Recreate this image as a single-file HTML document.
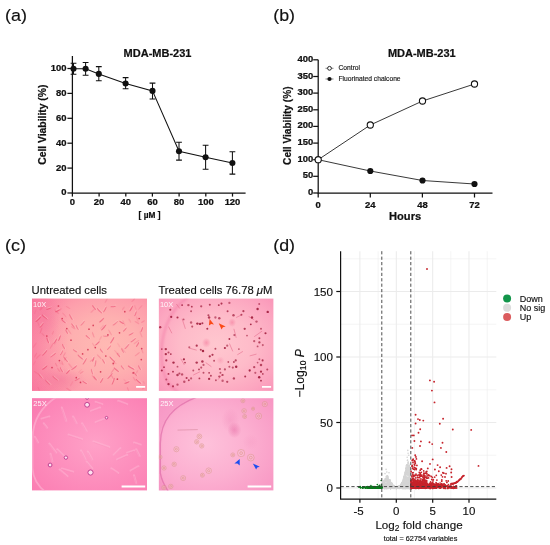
<!DOCTYPE html>
<html lang="en"><head><meta charset="utf-8"><title>Figure</title>
<style>
html,body{margin:0;padding:0;background:#fff;}
svg{display:block;font-family:"Liberation Sans", Arial, sans-serif;}
text{stroke:#111;stroke-width:0.15px;}
text[fill="#fff"]{stroke:none;}
.b{font-weight:700;stroke:#111;stroke-width:0.22px;}
</style></head><body>
<svg width="550" height="545" viewBox="0 0 550 545">
<rect width="550" height="545" fill="#fff"/>

<text transform="translate(5.1 20.8) scale(1.09 1)" font-size="16.5" text-anchor="start" fill="#111">(a)</text>
<text transform="translate(273.2 20.8) scale(1.08 1)" font-size="16.5" text-anchor="start" fill="#111">(b)</text>
<text transform="translate(5.1 251.3) scale(1.09 1)" font-size="16.5" text-anchor="start" fill="#111">(c)</text>
<text transform="translate(273.2 251.3) scale(1.08 1)" font-size="16.5" text-anchor="start" fill="#111">(d)</text>
<g stroke="#111" stroke-width="1.25" fill="none" stroke-linecap="butt">
<path d="M72.4 56.1V193.0H245.6"/>
<path d="M67.4 193.0H72.4"/>
<path d="M67.4 168.1H72.4"/>
<path d="M67.4 143.2H72.4"/>
<path d="M67.4 118.3H72.4"/>
<path d="M67.4 93.4H72.4"/>
<path d="M67.4 68.5H72.4"/>
<path d="M72.4 193.0v3.6"/>
<path d="M99.1 193.0v3.6"/>
<path d="M125.8 193.0v3.6"/>
<path d="M152.4 193.0v3.6"/>
<path d="M179.1 193.0v3.6"/>
<path d="M205.8 193.0v3.6"/>
<path d="M232.5 193.0v3.6"/>
</g>
<text transform="translate(66.4 195.4) scale(1.14 1)" font-size="8.3" text-anchor="end" fill="#111" class="b">0</text>
<text transform="translate(66.4 170.5) scale(1.14 1)" font-size="8.3" text-anchor="end" fill="#111" class="b">20</text>
<text transform="translate(66.4 145.6) scale(1.14 1)" font-size="8.3" text-anchor="end" fill="#111" class="b">40</text>
<text transform="translate(66.4 120.7) scale(1.14 1)" font-size="8.3" text-anchor="end" fill="#111" class="b">60</text>
<text transform="translate(66.4 95.8) scale(1.14 1)" font-size="8.3" text-anchor="end" fill="#111" class="b">80</text>
<text transform="translate(66.4 70.9) scale(1.14 1)" font-size="8.3" text-anchor="end" fill="#111" class="b">100</text>
<text transform="translate(72.4 204.6) scale(1.14 1)" font-size="8.3" text-anchor="middle" fill="#111" class="b">0</text>
<text transform="translate(99.1 204.6) scale(1.14 1)" font-size="8.3" text-anchor="middle" fill="#111" class="b">20</text>
<text transform="translate(125.8 204.6) scale(1.14 1)" font-size="8.3" text-anchor="middle" fill="#111" class="b">40</text>
<text transform="translate(152.4 204.6) scale(1.14 1)" font-size="8.3" text-anchor="middle" fill="#111" class="b">60</text>
<text transform="translate(179.1 204.6) scale(1.14 1)" font-size="8.3" text-anchor="middle" fill="#111" class="b">80</text>
<text transform="translate(205.8 204.6) scale(1.14 1)" font-size="8.3" text-anchor="middle" fill="#111" class="b">100</text>
<text transform="translate(232.5 204.6) scale(1.14 1)" font-size="8.3" text-anchor="middle" fill="#111" class="b">120</text>
<text x="157.5" y="56.5" font-size="11" text-anchor="middle" fill="#111" class="b">MDA-MB-231</text>
<text x="149.5" y="218" font-size="8.3" text-anchor="middle" fill="#111" class="b">[ µM ]</text>
<text transform="translate(46.4 124.7) rotate(-90) scale(0.94 1)" font-size="11" text-anchor="middle" class="b" fill="#111">Cell Viability (%)</text>
<g stroke="#111" stroke-width="1.05" fill="none">
<path d="M73.5 68.8 L85.6 68.8 L98.8 73.9 L125.6 83.5 L152.5 90.9 L179.0 151.3 L205.6 157.3 L232.4 163.0"/>
<path d="M73.5 63.3V74.3M70.6 63.3h5.8M70.6 74.3h5.8"/>
<path d="M85.6 62.4V75.2M82.7 62.4h5.8M82.7 75.2h5.8"/>
<path d="M98.8 66.6V80.7M95.9 66.6h5.8M95.9 80.7h5.8"/>
<path d="M125.6 77.6V88.8M122.7 77.6h5.8M122.7 88.8h5.8"/>
<path d="M152.5 83.1V98.9M149.6 83.1h5.8M149.6 98.9h5.8"/>
<path d="M179.0 142.3V160.1M176.1 142.3h5.8M176.1 160.1h5.8"/>
<path d="M205.6 145.3V169.3M202.7 145.3h5.8M202.7 169.3h5.8"/>
<path d="M232.4 151.7V174.1M229.5 151.7h5.8M229.5 174.1h5.8"/>
</g>
<circle cx="73.5" cy="68.8" r="3.05" fill="#111"/>
<circle cx="85.6" cy="68.8" r="3.05" fill="#111"/>
<circle cx="98.8" cy="73.9" r="3.05" fill="#111"/>
<circle cx="125.6" cy="83.5" r="3.05" fill="#111"/>
<circle cx="152.5" cy="90.9" r="3.05" fill="#111"/>
<circle cx="179.0" cy="151.3" r="3.05" fill="#111"/>
<circle cx="205.6" cy="157.3" r="3.05" fill="#111"/>
<circle cx="232.4" cy="163.0" r="3.05" fill="#111"/>
<g stroke="#111" stroke-width="1.25" fill="none">
<path d="M318.2 59.8V193.0H492.5"/>
<path d="M313.2 193.0H318.2"/>
<path d="M313.2 176.3H318.2"/>
<path d="M313.2 159.7H318.2"/>
<path d="M313.2 143.1H318.2"/>
<path d="M313.2 126.4H318.2"/>
<path d="M313.2 109.8H318.2"/>
<path d="M313.2 93.1H318.2"/>
<path d="M313.2 76.5H318.2"/>
<path d="M313.2 59.8H318.2"/>
<path d="M318.2 193.0v4.5"/>
<path d="M370.3 193.0v4.5"/>
<path d="M422.4 193.0v4.5"/>
<path d="M474.5 193.0v4.5"/>
</g>
<text transform="translate(313.2 195.0) scale(1.14 1)" font-size="8.3" text-anchor="end" fill="#111" class="b">0</text>
<text transform="translate(313.2 178.3) scale(1.14 1)" font-size="8.3" text-anchor="end" fill="#111" class="b">50</text>
<text transform="translate(313.2 161.7) scale(1.14 1)" font-size="8.3" text-anchor="end" fill="#111" class="b">100</text>
<text transform="translate(313.2 145.1) scale(1.14 1)" font-size="8.3" text-anchor="end" fill="#111" class="b">150</text>
<text transform="translate(313.2 128.4) scale(1.14 1)" font-size="8.3" text-anchor="end" fill="#111" class="b">200</text>
<text transform="translate(313.2 111.8) scale(1.14 1)" font-size="8.3" text-anchor="end" fill="#111" class="b">250</text>
<text transform="translate(313.2 95.1) scale(1.14 1)" font-size="8.3" text-anchor="end" fill="#111" class="b">300</text>
<text transform="translate(313.2 78.5) scale(1.14 1)" font-size="8.3" text-anchor="end" fill="#111" class="b">350</text>
<text transform="translate(313.2 61.8) scale(1.14 1)" font-size="8.3" text-anchor="end" fill="#111" class="b">400</text>
<text transform="translate(318.2 208) scale(1.14 1)" font-size="8.3" text-anchor="middle" fill="#111" class="b">0</text>
<text transform="translate(370.3 208) scale(1.14 1)" font-size="8.3" text-anchor="middle" fill="#111" class="b">24</text>
<text transform="translate(422.4 208) scale(1.14 1)" font-size="8.3" text-anchor="middle" fill="#111" class="b">48</text>
<text transform="translate(474.5 208) scale(1.14 1)" font-size="8.3" text-anchor="middle" fill="#111" class="b">72</text>
<text x="421.8" y="56.5" font-size="11" text-anchor="middle" fill="#111" class="b">MDA-MB-231</text>
<text x="405.1" y="220.3" font-size="11.1" text-anchor="middle" fill="#111" class="b">Hours</text>
<text transform="translate(291.4 125.7) rotate(-90) scale(0.92 1)" font-size="11" text-anchor="middle" class="b" fill="#111">Cell Viability (%)</text>
<g stroke="#222" stroke-width="0.9" fill="none">
<path d="M318.2 159.7 L370.3 125.0 L422.5 101.0 L474.5 84.0"/>
<path d="M318.2 159.7 L370.3 171.0 L422.5 180.5 L474.5 184.0"/>
</g>
<circle cx="370.3" cy="171.0" r="3.1" fill="#111"/>
<circle cx="422.5" cy="180.5" r="3.1" fill="#111"/>
<circle cx="474.5" cy="184.0" r="3.1" fill="#111"/>
<circle cx="318.2" cy="159.7" r="3.1" fill="#fff" stroke="#111" stroke-width="1.1"/>
<circle cx="370.3" cy="125.0" r="3.1" fill="#fff" stroke="#111" stroke-width="1.1"/>
<circle cx="422.5" cy="101.0" r="3.1" fill="#fff" stroke="#111" stroke-width="1.1"/>
<circle cx="474.5" cy="84.0" r="3.1" fill="#fff" stroke="#111" stroke-width="1.1"/>
<path d="M325.5 68.3h8M325.5 79h8" stroke="#333" stroke-width="0.6"/>
<circle cx="329.5" cy="68.3" r="1.9" fill="#fff" stroke="#111" stroke-width="0.9"/>
<circle cx="329.5" cy="79" r="2.1" fill="#111"/>
<text x="338.5" y="70.3" font-size="6.7" text-anchor="start" fill="#222">Control</text>
<text x="338.5" y="81" font-size="6.7" text-anchor="start" fill="#222">Fluorinated chalcone</text>
<text x="31.6" y="293.6" font-size="11.3" text-anchor="start" fill="#111">Untreated cells</text>
<text x="158.4" y="293.6" font-size="11.25" text-anchor="start" fill="#111">Treated cells 76.78 <tspan font-style="italic">μ</tspan>M</text>
<defs>
<radialGradient id="g1" cx="0.64" cy="0.5" r="0.86"><stop offset="0" stop-color="#ffb9b3"/><stop offset="0.35" stop-color="#feb0b0"/><stop offset="0.6" stop-color="#fd9fac"/><stop offset="0.85" stop-color="#fa87a3"/><stop offset="1" stop-color="#f8779d"/></radialGradient>
<radialGradient id="g2" cx="0.5" cy="0.5" r="0.8"><stop offset="0" stop-color="#ffc7cf"/><stop offset="0.4" stop-color="#febbc9"/><stop offset="0.7" stop-color="#fca6c0"/><stop offset="1" stop-color="#f88bb4"/></radialGradient>
<linearGradient id="lg1" x1="0" y1="0" x2="1" y2="0"><stop offset="0" stop-color="#f8689a" stop-opacity="0.32"/><stop offset="0.32" stop-color="#f8689a" stop-opacity="0"/></linearGradient>
<radialGradient id="g3" cx="0.55" cy="0.5" r="0.75"><stop offset="0" stop-color="#ffa1c7"/><stop offset="0.5" stop-color="#fd8fbd"/><stop offset="1" stop-color="#fb7db2"/></radialGradient>
<radialGradient id="g4" cx="0.4" cy="0.5" r="0.75"><stop offset="0" stop-color="#fec2db"/><stop offset="0.5" stop-color="#fcb0d1"/><stop offset="1" stop-color="#f898c4"/></radialGradient>
<radialGradient id="blob" cx="0.5" cy="0.5" r="0.5"><stop offset="0" stop-color="#e56aa4" stop-opacity="0.5"/><stop offset="1" stop-color="#e0609a" stop-opacity="0"/></radialGradient>
<radialGradient id="blob2" cx="0.5" cy="0.5" r="0.5"><stop offset="0" stop-color="#f47a9c" stop-opacity="0.6"/><stop offset="1" stop-color="#f47a9c" stop-opacity="0"/></radialGradient>
<filter id="bl" x="-10%" y="-10%" width="120%" height="120%"><feGaussianBlur stdDeviation="0.45"/></filter>
<filter id="bl2" x="-10%" y="-10%" width="120%" height="120%"><feGaussianBlur stdDeviation="1.2"/></filter>
<clipPath id="c1"><rect x="32" y="298.6" width="115" height="92.3"/></clipPath>
<clipPath id="c2"><rect x="158.85" y="298.6" width="114.55" height="92.3"/></clipPath>
<clipPath id="c3"><rect x="32" y="398.2" width="115" height="92.2"/></clipPath>
<clipPath id="c4"><rect x="158.85" y="398.2" width="114.55" height="92.2"/></clipPath>
</defs>
<rect x="32" y="298.6" width="115" height="92.3" fill="url(#g1)"/>
<rect x="158.85" y="298.6" width="114.55" height="92.3" fill="url(#g2)"/>
<rect x="32" y="298.6" width="115" height="92.3" fill="url(#lg1)"/>
<rect x="32" y="398.2" width="115" height="92.2" fill="url(#g3)"/>
<rect x="158.85" y="398.2" width="114.55" height="92.2" fill="url(#g4)"/>
<g clip-path="url(#c1)"><g filter="url(#bl)">
<ellipse cx="44" cy="318" rx="16" ry="26" fill="url(#blob2)"/>
<ellipse cx="60" cy="380" rx="26" ry="12" fill="url(#blob2)"/>
<ellipse cx="94.2" cy="307.5" rx="3.1" ry="0.8" transform="rotate(50 94.2 307.5)" fill="#ec4c70" opacity="0.59"/>
<ellipse cx="94.9" cy="306.8" rx="3.1" ry="0.55" transform="rotate(50 94.2 307.5)" fill="#ffd9d4" opacity="0.4"/>
<ellipse cx="99.5" cy="310.7" rx="3.7" ry="0.8" transform="rotate(45 99.5 310.7)" fill="#ec4c70" opacity="0.57"/>
<ellipse cx="100.2" cy="310.0" rx="3.7" ry="0.55" transform="rotate(45 99.5 310.7)" fill="#ffd9d4" opacity="0.4"/>
<ellipse cx="104.8" cy="309.6" rx="3.2" ry="0.8" transform="rotate(-60 104.8 309.6)" fill="#ec4c70" opacity="0.60"/>
<ellipse cx="105.5" cy="308.9" rx="3.2" ry="0.55" transform="rotate(-60 104.8 309.6)" fill="#ffd9d4" opacity="0.4"/>
<ellipse cx="113.2" cy="306.4" rx="2.8" ry="0.8" transform="rotate(-10 113.2 306.4)" fill="#ec4c70" opacity="0.58"/>
<ellipse cx="113.9" cy="305.7" rx="2.8" ry="0.55" transform="rotate(-10 113.2 306.4)" fill="#ffd9d4" opacity="0.4"/>
<ellipse cx="131.1" cy="308.5" rx="3.4" ry="0.8" transform="rotate(-60 131.1 308.5)" fill="#ec4c70" opacity="0.65"/>
<ellipse cx="131.8" cy="307.8" rx="3.4" ry="0.55" transform="rotate(-60 131.1 308.5)" fill="#ffd9d4" opacity="0.4"/>
<ellipse cx="135.4" cy="313.8" rx="2.7" ry="0.8" transform="rotate(-70 135.4 313.8)" fill="#ec4c70" opacity="0.53"/>
<ellipse cx="136.1" cy="313.1" rx="2.7" ry="0.55" transform="rotate(-70 135.4 313.8)" fill="#ffd9d4" opacity="0.4"/>
<ellipse cx="121.6" cy="322.3" rx="2.7" ry="0.8" transform="rotate(30 121.6 322.3)" fill="#ec4c70" opacity="0.65"/>
<ellipse cx="122.3" cy="321.6" rx="2.7" ry="0.55" transform="rotate(30 121.6 322.3)" fill="#ffd9d4" opacity="0.4"/>
<ellipse cx="115.3" cy="323.3" rx="3.4" ry="0.8" transform="rotate(-40 115.3 323.3)" fill="#ec4c70" opacity="0.46"/>
<ellipse cx="116.0" cy="322.6" rx="3.4" ry="0.55" transform="rotate(-40 115.3 323.3)" fill="#ffd9d4" opacity="0.4"/>
<ellipse cx="103.7" cy="327.5" rx="3.8" ry="0.8" transform="rotate(-50 103.7 327.5)" fill="#ec4c70" opacity="0.69"/>
<ellipse cx="104.4" cy="326.8" rx="3.8" ry="0.55" transform="rotate(-50 103.7 327.5)" fill="#ffd9d4" opacity="0.4"/>
<ellipse cx="101.6" cy="320.1" rx="3.4" ry="0.8" transform="rotate(-45 101.6 320.1)" fill="#ec4c70" opacity="0.60"/>
<ellipse cx="102.3" cy="319.4" rx="3.4" ry="0.55" transform="rotate(-45 101.6 320.1)" fill="#ffd9d4" opacity="0.4"/>
<ellipse cx="77.3" cy="327.5" rx="2.8" ry="0.8" transform="rotate(60 77.3 327.5)" fill="#ec4c70" opacity="0.45"/>
<ellipse cx="78.0" cy="326.8" rx="2.8" ry="0.55" transform="rotate(60 77.3 327.5)" fill="#ffd9d4" opacity="0.4"/>
<ellipse cx="82.6" cy="323.3" rx="3.2" ry="0.8" transform="rotate(-50 82.6 323.3)" fill="#ec4c70" opacity="0.46"/>
<ellipse cx="83.3" cy="322.6" rx="3.2" ry="0.55" transform="rotate(-50 82.6 323.3)" fill="#ffd9d4" opacity="0.4"/>
<ellipse cx="73.1" cy="325.4" rx="2.8" ry="0.8" transform="rotate(50 73.1 325.4)" fill="#ec4c70" opacity="0.51"/>
<ellipse cx="73.8" cy="324.7" rx="2.8" ry="0.55" transform="rotate(50 73.1 325.4)" fill="#ffd9d4" opacity="0.4"/>
<ellipse cx="66.8" cy="331.7" rx="2.6" ry="0.8" transform="rotate(60 66.8 331.7)" fill="#ec4c70" opacity="0.57"/>
<ellipse cx="67.5" cy="331.0" rx="2.6" ry="0.55" transform="rotate(60 66.8 331.7)" fill="#ffd9d4" opacity="0.4"/>
<ellipse cx="59.4" cy="338.1" rx="3.1" ry="0.8" transform="rotate(-70 59.4 338.1)" fill="#ec4c70" opacity="0.66"/>
<ellipse cx="60.1" cy="337.4" rx="3.1" ry="0.55" transform="rotate(-70 59.4 338.1)" fill="#ffd9d4" opacity="0.4"/>
<ellipse cx="55.2" cy="341.2" rx="3.2" ry="0.8" transform="rotate(-60 55.2 341.2)" fill="#ec4c70" opacity="0.61"/>
<ellipse cx="55.9" cy="340.5" rx="3.2" ry="0.55" transform="rotate(-60 55.2 341.2)" fill="#ffd9d4" opacity="0.4"/>
<ellipse cx="47.8" cy="340.2" rx="3.2" ry="0.8" transform="rotate(70 47.8 340.2)" fill="#ec4c70" opacity="0.62"/>
<ellipse cx="48.5" cy="339.5" rx="3.2" ry="0.55" transform="rotate(70 47.8 340.2)" fill="#ffd9d4" opacity="0.4"/>
<ellipse cx="41.5" cy="325.4" rx="3.1" ry="0.8" transform="rotate(-50 41.5 325.4)" fill="#ec4c70" opacity="0.52"/>
<ellipse cx="42.2" cy="324.7" rx="3.1" ry="0.55" transform="rotate(-50 41.5 325.4)" fill="#ffd9d4" opacity="0.4"/>
<ellipse cx="38.3" cy="319.1" rx="3.8" ry="0.8" transform="rotate(-45 38.3 319.1)" fill="#ec4c70" opacity="0.70"/>
<ellipse cx="39.0" cy="318.4" rx="3.8" ry="0.55" transform="rotate(-45 38.3 319.1)" fill="#ffd9d4" opacity="0.4"/>
<ellipse cx="44.7" cy="317.0" rx="3.6" ry="0.8" transform="rotate(40 44.7 317.0)" fill="#ec4c70" opacity="0.63"/>
<ellipse cx="45.4" cy="316.3" rx="3.6" ry="0.55" transform="rotate(40 44.7 317.0)" fill="#ffd9d4" opacity="0.4"/>
<ellipse cx="63.6" cy="346.5" rx="3.0" ry="0.8" transform="rotate(60 63.6 346.5)" fill="#ec4c70" opacity="0.51"/>
<ellipse cx="64.3" cy="345.8" rx="3.0" ry="0.55" transform="rotate(60 63.6 346.5)" fill="#ffd9d4" opacity="0.4"/>
<ellipse cx="61.5" cy="352.8" rx="2.9" ry="0.8" transform="rotate(-60 61.5 352.8)" fill="#ec4c70" opacity="0.47"/>
<ellipse cx="62.2" cy="352.1" rx="2.9" ry="0.55" transform="rotate(-60 61.5 352.8)" fill="#ffd9d4" opacity="0.4"/>
<ellipse cx="65.7" cy="359.2" rx="3.5" ry="0.8" transform="rotate(50 65.7 359.2)" fill="#ec4c70" opacity="0.55"/>
<ellipse cx="66.4" cy="358.5" rx="3.5" ry="0.55" transform="rotate(50 65.7 359.2)" fill="#ffd9d4" opacity="0.4"/>
<ellipse cx="53.1" cy="355.0" rx="3.6" ry="0.8" transform="rotate(-40 53.1 355.0)" fill="#ec4c70" opacity="0.55"/>
<ellipse cx="53.8" cy="354.3" rx="3.6" ry="0.55" transform="rotate(-40 53.1 355.0)" fill="#ffd9d4" opacity="0.4"/>
<ellipse cx="44.7" cy="352.8" rx="3.7" ry="0.8" transform="rotate(-50 44.7 352.8)" fill="#ec4c70" opacity="0.66"/>
<ellipse cx="45.4" cy="352.1" rx="3.7" ry="0.55" transform="rotate(-50 44.7 352.8)" fill="#ffd9d4" opacity="0.4"/>
<ellipse cx="75.2" cy="350.7" rx="2.6" ry="0.8" transform="rotate(30 75.2 350.7)" fill="#ec4c70" opacity="0.50"/>
<ellipse cx="75.9" cy="350.0" rx="2.6" ry="0.55" transform="rotate(30 75.2 350.7)" fill="#ffd9d4" opacity="0.4"/>
<ellipse cx="80.5" cy="357.1" rx="3.7" ry="0.8" transform="rotate(40 80.5 357.1)" fill="#ec4c70" opacity="0.57"/>
<ellipse cx="81.2" cy="356.4" rx="3.7" ry="0.55" transform="rotate(40 80.5 357.1)" fill="#ffd9d4" opacity="0.4"/>
<ellipse cx="84.7" cy="361.3" rx="3.8" ry="0.8" transform="rotate(-60 84.7 361.3)" fill="#ec4c70" opacity="0.55"/>
<ellipse cx="85.4" cy="360.6" rx="3.8" ry="0.55" transform="rotate(-60 84.7 361.3)" fill="#ffd9d4" opacity="0.4"/>
<ellipse cx="93.2" cy="359.2" rx="2.7" ry="0.8" transform="rotate(-70 93.2 359.2)" fill="#ec4c70" opacity="0.61"/>
<ellipse cx="93.9" cy="358.5" rx="2.7" ry="0.55" transform="rotate(-70 93.2 359.2)" fill="#ffd9d4" opacity="0.4"/>
<ellipse cx="95.3" cy="363.4" rx="3.5" ry="0.8" transform="rotate(-80 95.3 363.4)" fill="#ec4c70" opacity="0.52"/>
<ellipse cx="96.0" cy="362.7" rx="3.5" ry="0.55" transform="rotate(-80 95.3 363.4)" fill="#ffd9d4" opacity="0.4"/>
<ellipse cx="103.7" cy="361.3" rx="2.7" ry="0.8" transform="rotate(60 103.7 361.3)" fill="#ec4c70" opacity="0.53"/>
<ellipse cx="104.4" cy="360.6" rx="2.7" ry="0.55" transform="rotate(60 103.7 361.3)" fill="#ffd9d4" opacity="0.4"/>
<ellipse cx="112.2" cy="359.2" rx="3.8" ry="0.8" transform="rotate(45 112.2 359.2)" fill="#ec4c70" opacity="0.64"/>
<ellipse cx="112.9" cy="358.5" rx="3.8" ry="0.55" transform="rotate(45 112.2 359.2)" fill="#ffd9d4" opacity="0.4"/>
<ellipse cx="118.5" cy="355.0" rx="2.7" ry="0.8" transform="rotate(50 118.5 355.0)" fill="#ec4c70" opacity="0.51"/>
<ellipse cx="119.2" cy="354.3" rx="2.7" ry="0.55" transform="rotate(50 118.5 355.0)" fill="#ffd9d4" opacity="0.4"/>
<ellipse cx="122.7" cy="350.7" rx="2.7" ry="0.8" transform="rotate(60 122.7 350.7)" fill="#ec4c70" opacity="0.46"/>
<ellipse cx="123.4" cy="350.0" rx="2.7" ry="0.55" transform="rotate(60 122.7 350.7)" fill="#ffd9d4" opacity="0.4"/>
<ellipse cx="126.9" cy="346.5" rx="3.6" ry="0.8" transform="rotate(-50 126.9 346.5)" fill="#ec4c70" opacity="0.49"/>
<ellipse cx="127.6" cy="345.8" rx="3.6" ry="0.55" transform="rotate(-50 126.9 346.5)" fill="#ffd9d4" opacity="0.4"/>
<ellipse cx="133.2" cy="340.2" rx="3.3" ry="0.8" transform="rotate(-40 133.2 340.2)" fill="#ec4c70" opacity="0.56"/>
<ellipse cx="133.9" cy="339.5" rx="3.3" ry="0.55" transform="rotate(-40 133.2 340.2)" fill="#ffd9d4" opacity="0.4"/>
<ellipse cx="137.5" cy="344.4" rx="2.8" ry="0.8" transform="rotate(-60 137.5 344.4)" fill="#ec4c70" opacity="0.63"/>
<ellipse cx="138.2" cy="343.7" rx="2.8" ry="0.55" transform="rotate(-60 137.5 344.4)" fill="#ffd9d4" opacity="0.4"/>
<ellipse cx="131.1" cy="333.9" rx="2.8" ry="0.8" transform="rotate(-30 131.1 333.9)" fill="#ec4c70" opacity="0.61"/>
<ellipse cx="131.8" cy="333.2" rx="2.8" ry="0.55" transform="rotate(-30 131.1 333.9)" fill="#ffd9d4" opacity="0.4"/>
<ellipse cx="124.8" cy="329.6" rx="2.7" ry="0.8" transform="rotate(-50 124.8 329.6)" fill="#ec4c70" opacity="0.56"/>
<ellipse cx="125.5" cy="328.9" rx="2.7" ry="0.55" transform="rotate(-50 124.8 329.6)" fill="#ffd9d4" opacity="0.4"/>
<ellipse cx="105.8" cy="336.0" rx="2.9" ry="0.8" transform="rotate(0 105.8 336.0)" fill="#ec4c70" opacity="0.52"/>
<ellipse cx="106.5" cy="335.3" rx="2.9" ry="0.55" transform="rotate(0 105.8 336.0)" fill="#ffd9d4" opacity="0.4"/>
<ellipse cx="112.2" cy="340.2" rx="3.8" ry="0.8" transform="rotate(-60 112.2 340.2)" fill="#ec4c70" opacity="0.65"/>
<ellipse cx="112.9" cy="339.5" rx="3.8" ry="0.55" transform="rotate(-60 112.2 340.2)" fill="#ffd9d4" opacity="0.4"/>
<ellipse cx="97.4" cy="343.3" rx="3.0" ry="0.8" transform="rotate(-45 97.4 343.3)" fill="#ec4c70" opacity="0.67"/>
<ellipse cx="98.1" cy="342.6" rx="3.0" ry="0.55" transform="rotate(-45 97.4 343.3)" fill="#ffd9d4" opacity="0.4"/>
<ellipse cx="87.9" cy="337.0" rx="2.9" ry="0.8" transform="rotate(40 87.9 337.0)" fill="#ec4c70" opacity="0.55"/>
<ellipse cx="88.6" cy="336.3" rx="2.9" ry="0.55" transform="rotate(40 87.9 337.0)" fill="#ffd9d4" opacity="0.4"/>
<ellipse cx="74.2" cy="367.6" rx="3.6" ry="0.8" transform="rotate(-40 74.2 367.6)" fill="#ec4c70" opacity="0.61"/>
<ellipse cx="74.9" cy="366.9" rx="3.6" ry="0.55" transform="rotate(-40 74.2 367.6)" fill="#ffd9d4" opacity="0.4"/>
<ellipse cx="67.9" cy="371.8" rx="2.7" ry="0.8" transform="rotate(-50 67.9 371.8)" fill="#ec4c70" opacity="0.70"/>
<ellipse cx="68.6" cy="371.1" rx="2.7" ry="0.55" transform="rotate(-50 67.9 371.8)" fill="#ffd9d4" opacity="0.4"/>
<ellipse cx="61.5" cy="369.7" rx="2.9" ry="0.8" transform="rotate(60 61.5 369.7)" fill="#ec4c70" opacity="0.51"/>
<ellipse cx="62.2" cy="369.0" rx="2.9" ry="0.55" transform="rotate(60 61.5 369.7)" fill="#ffd9d4" opacity="0.4"/>
<ellipse cx="55.2" cy="378.2" rx="3.5" ry="0.8" transform="rotate(40 55.2 378.2)" fill="#ec4c70" opacity="0.53"/>
<ellipse cx="55.9" cy="377.5" rx="3.5" ry="0.55" transform="rotate(40 55.2 378.2)" fill="#ffd9d4" opacity="0.4"/>
<ellipse cx="77.3" cy="379.2" rx="3.0" ry="0.8" transform="rotate(-30 77.3 379.2)" fill="#ec4c70" opacity="0.47"/>
<ellipse cx="78.0" cy="378.5" rx="3.0" ry="0.55" transform="rotate(-30 77.3 379.2)" fill="#ffd9d4" opacity="0.4"/>
<ellipse cx="84.7" cy="382.4" rx="2.7" ry="0.8" transform="rotate(30 84.7 382.4)" fill="#ec4c70" opacity="0.60"/>
<ellipse cx="85.4" cy="381.7" rx="2.7" ry="0.55" transform="rotate(30 84.7 382.4)" fill="#ffd9d4" opacity="0.4"/>
<ellipse cx="95.3" cy="378.2" rx="2.9" ry="0.8" transform="rotate(50 95.3 378.2)" fill="#ec4c70" opacity="0.60"/>
<ellipse cx="96.0" cy="377.5" rx="2.9" ry="0.55" transform="rotate(50 95.3 378.2)" fill="#ffd9d4" opacity="0.4"/>
<ellipse cx="101.6" cy="380.3" rx="3.0" ry="0.8" transform="rotate(-60 101.6 380.3)" fill="#ec4c70" opacity="0.56"/>
<ellipse cx="102.3" cy="379.6" rx="3.0" ry="0.55" transform="rotate(-60 101.6 380.3)" fill="#ffd9d4" opacity="0.4"/>
<ellipse cx="110.0" cy="376.0" rx="3.8" ry="0.8" transform="rotate(-50 110.0 376.0)" fill="#ec4c70" opacity="0.57"/>
<ellipse cx="110.7" cy="375.3" rx="3.8" ry="0.55" transform="rotate(-50 110.0 376.0)" fill="#ffd9d4" opacity="0.4"/>
<ellipse cx="116.4" cy="369.7" rx="3.3" ry="0.8" transform="rotate(40 116.4 369.7)" fill="#ec4c70" opacity="0.67"/>
<ellipse cx="117.1" cy="369.0" rx="3.3" ry="0.55" transform="rotate(40 116.4 369.7)" fill="#ffd9d4" opacity="0.4"/>
<ellipse cx="122.7" cy="367.6" rx="2.8" ry="0.8" transform="rotate(50 122.7 367.6)" fill="#ec4c70" opacity="0.49"/>
<ellipse cx="123.4" cy="366.9" rx="2.8" ry="0.55" transform="rotate(50 122.7 367.6)" fill="#ffd9d4" opacity="0.4"/>
<ellipse cx="131.1" cy="367.6" rx="3.7" ry="0.8" transform="rotate(30 131.1 367.6)" fill="#ec4c70" opacity="0.65"/>
<ellipse cx="131.8" cy="366.9" rx="3.7" ry="0.55" transform="rotate(30 131.1 367.6)" fill="#ffd9d4" opacity="0.4"/>
<ellipse cx="135.4" cy="373.9" rx="2.9" ry="0.8" transform="rotate(50 135.4 373.9)" fill="#ec4c70" opacity="0.50"/>
<ellipse cx="136.1" cy="373.2" rx="2.9" ry="0.55" transform="rotate(50 135.4 373.9)" fill="#ffd9d4" opacity="0.4"/>
<ellipse cx="138.5" cy="381.3" rx="3.5" ry="0.8" transform="rotate(40 138.5 381.3)" fill="#ec4c70" opacity="0.69"/>
<ellipse cx="139.2" cy="380.6" rx="3.5" ry="0.55" transform="rotate(40 138.5 381.3)" fill="#ffd9d4" opacity="0.4"/>
<ellipse cx="126.9" cy="382.4" rx="2.8" ry="0.8" transform="rotate(-20 126.9 382.4)" fill="#ec4c70" opacity="0.69"/>
<ellipse cx="127.6" cy="381.7" rx="2.8" ry="0.55" transform="rotate(-20 126.9 382.4)" fill="#ffd9d4" opacity="0.4"/>
<ellipse cx="113.2" cy="381.3" rx="3.7" ry="0.8" transform="rotate(-70 113.2 381.3)" fill="#ec4c70" opacity="0.60"/>
<ellipse cx="113.9" cy="380.6" rx="3.7" ry="0.55" transform="rotate(-70 113.2 381.3)" fill="#ffd9d4" opacity="0.4"/>
<ellipse cx="92.1" cy="371.8" rx="3.1" ry="0.8" transform="rotate(70 92.1 371.8)" fill="#ec4c70" opacity="0.48"/>
<ellipse cx="92.8" cy="371.1" rx="3.1" ry="0.55" transform="rotate(70 92.1 371.8)" fill="#ffd9d4" opacity="0.4"/>
<ellipse cx="57.3" cy="310.7" rx="2.6" ry="0.8" transform="rotate(-30 57.3 310.7)" fill="#ec4c70" opacity="0.69"/>
<ellipse cx="58.0" cy="310.0" rx="2.6" ry="0.55" transform="rotate(-30 57.3 310.7)" fill="#ffd9d4" opacity="0.4"/>
<ellipse cx="48.9" cy="308.5" rx="2.9" ry="0.8" transform="rotate(-20 48.9 308.5)" fill="#ec4c70" opacity="0.63"/>
<ellipse cx="49.6" cy="307.8" rx="2.9" ry="0.55" transform="rotate(-20 48.9 308.5)" fill="#ffd9d4" opacity="0.4"/>
<ellipse cx="63.6" cy="321.2" rx="2.9" ry="0.8" transform="rotate(40 63.6 321.2)" fill="#ec4c70" opacity="0.66"/>
<ellipse cx="64.3" cy="320.5" rx="2.9" ry="0.55" transform="rotate(40 63.6 321.2)" fill="#ffd9d4" opacity="0.4"/>
<ellipse cx="71.0" cy="317.0" rx="3.3" ry="0.8" transform="rotate(60 71.0 317.0)" fill="#ec4c70" opacity="0.52"/>
<ellipse cx="71.7" cy="316.3" rx="3.3" ry="0.55" transform="rotate(60 71.0 317.0)" fill="#ffd9d4" opacity="0.4"/>
<ellipse cx="141.7" cy="329.6" rx="2.8" ry="0.8" transform="rotate(-70 141.7 329.6)" fill="#ec4c70" opacity="0.63"/>
<ellipse cx="142.4" cy="328.9" rx="2.8" ry="0.55" transform="rotate(-70 141.7 329.6)" fill="#ffd9d4" opacity="0.4"/>
<ellipse cx="139.6" cy="367.6" rx="2.7" ry="0.8" transform="rotate(60 139.6 367.6)" fill="#ec4c70" opacity="0.51"/>
<ellipse cx="140.3" cy="366.9" rx="2.7" ry="0.55" transform="rotate(60 139.6 367.6)" fill="#ffd9d4" opacity="0.4"/>
<ellipse cx="44.7" cy="367.6" rx="3.3" ry="0.8" transform="rotate(-40 44.7 367.6)" fill="#ec4c70" opacity="0.66"/>
<ellipse cx="45.4" cy="366.9" rx="3.3" ry="0.55" transform="rotate(-40 44.7 367.6)" fill="#ffd9d4" opacity="0.4"/>
<ellipse cx="40.4" cy="376.0" rx="3.3" ry="0.8" transform="rotate(50 40.4 376.0)" fill="#ec4c70" opacity="0.52"/>
<ellipse cx="41.1" cy="375.3" rx="3.3" ry="0.55" transform="rotate(50 40.4 376.0)" fill="#ffd9d4" opacity="0.4"/>
<ellipse cx="47.8" cy="382.4" rx="3.7" ry="0.8" transform="rotate(45 47.8 382.4)" fill="#ec4c70" opacity="0.50"/>
<ellipse cx="48.5" cy="381.7" rx="3.7" ry="0.55" transform="rotate(45 47.8 382.4)" fill="#ffd9d4" opacity="0.4"/>
<ellipse cx="101.6" cy="350.7" rx="2.6" ry="0.8" transform="rotate(50 101.6 350.7)" fill="#ec4c70" opacity="0.52"/>
<ellipse cx="102.3" cy="350.0" rx="2.6" ry="0.55" transform="rotate(50 101.6 350.7)" fill="#ffd9d4" opacity="0.4"/>
<ellipse cx="109.0" cy="347.6" rx="3.1" ry="0.8" transform="rotate(-50 109.0 347.6)" fill="#ec4c70" opacity="0.47"/>
<ellipse cx="109.7" cy="346.9" rx="3.1" ry="0.55" transform="rotate(-50 109.0 347.6)" fill="#ffd9d4" opacity="0.4"/>
<ellipse cx="52.9" cy="332.9" rx="2.2" ry="0.7" transform="rotate(115 52.9 332.9)" fill="#f0587a" opacity="0.24"/>
<ellipse cx="70.4" cy="365.8" rx="3.4" ry="0.7" transform="rotate(51 70.4 365.8)" fill="#f0587a" opacity="0.24"/>
<ellipse cx="73.4" cy="327.8" rx="2.7" ry="0.7" transform="rotate(31 73.4 327.8)" fill="#f0587a" opacity="0.30"/>
<ellipse cx="69.0" cy="389.8" rx="3.4" ry="0.7" transform="rotate(33 69.0 389.8)" fill="#f0587a" opacity="0.30"/>
<ellipse cx="112.5" cy="371.2" rx="3.4" ry="0.7" transform="rotate(124 112.5 371.2)" fill="#f0587a" opacity="0.32"/>
<ellipse cx="80.1" cy="371.0" rx="2.6" ry="0.7" transform="rotate(133 80.1 371.0)" fill="#f0587a" opacity="0.15"/>
<ellipse cx="41.2" cy="307.8" rx="3.1" ry="0.7" transform="rotate(120 41.2 307.8)" fill="#f0587a" opacity="0.23"/>
<ellipse cx="116.1" cy="352.1" rx="2.8" ry="0.7" transform="rotate(48 116.1 352.1)" fill="#f0587a" opacity="0.25"/>
<ellipse cx="68.1" cy="307.5" rx="2.7" ry="0.7" transform="rotate(31 68.1 307.5)" fill="#f0587a" opacity="0.27"/>
<ellipse cx="137.0" cy="322.7" rx="2.8" ry="0.7" transform="rotate(30 137.0 322.7)" fill="#f0587a" opacity="0.30"/>
<ellipse cx="71.7" cy="383.6" rx="3.0" ry="0.7" transform="rotate(120 71.7 383.6)" fill="#f0587a" opacity="0.19"/>
<ellipse cx="81.7" cy="372.4" rx="2.3" ry="0.7" transform="rotate(145 81.7 372.4)" fill="#f0587a" opacity="0.33"/>
<ellipse cx="56.7" cy="311.8" rx="3.1" ry="0.7" transform="rotate(44 56.7 311.8)" fill="#f0587a" opacity="0.34"/>
<ellipse cx="64.3" cy="314.9" rx="3.2" ry="0.7" transform="rotate(48 64.3 314.9)" fill="#f0587a" opacity="0.23"/>
<ellipse cx="91.8" cy="360.3" rx="2.5" ry="0.7" transform="rotate(144 91.8 360.3)" fill="#f0587a" opacity="0.32"/>
<ellipse cx="64.4" cy="354.5" rx="2.5" ry="0.7" transform="rotate(121 64.4 354.5)" fill="#f0587a" opacity="0.31"/>
<ellipse cx="35.2" cy="311.9" rx="2.4" ry="0.7" transform="rotate(111 35.2 311.9)" fill="#f0587a" opacity="0.18"/>
<ellipse cx="38.3" cy="356.4" rx="3.4" ry="0.7" transform="rotate(135 38.3 356.4)" fill="#f0587a" opacity="0.29"/>
<ellipse cx="55.5" cy="342.5" rx="2.8" ry="0.7" transform="rotate(110 55.5 342.5)" fill="#f0587a" opacity="0.16"/>
<ellipse cx="58.6" cy="369.9" rx="2.6" ry="0.7" transform="rotate(52 58.6 369.9)" fill="#f0587a" opacity="0.31"/>
<ellipse cx="135.4" cy="307.5" rx="2.7" ry="0.7" transform="rotate(67 135.4 307.5)" fill="#f0587a" opacity="0.19"/>
<ellipse cx="133.3" cy="300.2" rx="2.7" ry="0.7" transform="rotate(136 133.3 300.2)" fill="#f0587a" opacity="0.28"/>
<ellipse cx="56.2" cy="364.8" rx="2.3" ry="0.7" transform="rotate(63 56.2 364.8)" fill="#f0587a" opacity="0.33"/>
<ellipse cx="143.8" cy="387.9" rx="2.4" ry="0.7" transform="rotate(142 143.8 387.9)" fill="#f0587a" opacity="0.29"/>
<ellipse cx="34.8" cy="345.2" rx="3.2" ry="0.7" transform="rotate(124 34.8 345.2)" fill="#f0587a" opacity="0.25"/>
<ellipse cx="36.2" cy="372.7" rx="2.8" ry="0.7" transform="rotate(33 36.2 372.7)" fill="#f0587a" opacity="0.29"/>
<ellipse cx="136.5" cy="342.1" rx="3.4" ry="0.7" transform="rotate(146 136.5 342.1)" fill="#f0587a" opacity="0.25"/>
<ellipse cx="140.3" cy="307.4" rx="3.2" ry="0.7" transform="rotate(131 140.3 307.4)" fill="#f0587a" opacity="0.26"/>
<ellipse cx="51.6" cy="346.0" rx="3.4" ry="0.7" transform="rotate(120 51.6 346.0)" fill="#f0587a" opacity="0.32"/>
<ellipse cx="101.9" cy="327.1" rx="2.9" ry="0.7" transform="rotate(132 101.9 327.1)" fill="#f0587a" opacity="0.19"/>
<ellipse cx="93.6" cy="345.0" rx="2.8" ry="0.7" transform="rotate(54 93.6 345.0)" fill="#f0587a" opacity="0.23"/>
<ellipse cx="123.5" cy="350.4" rx="3.4" ry="0.7" transform="rotate(50 123.5 350.4)" fill="#f0587a" opacity="0.24"/>
<ellipse cx="137.0" cy="371.9" rx="2.2" ry="0.7" transform="rotate(120 137.0 371.9)" fill="#f0587a" opacity="0.24"/>
<ellipse cx="125.2" cy="380.9" rx="2.6" ry="0.7" transform="rotate(49 125.2 380.9)" fill="#f0587a" opacity="0.16"/>
<ellipse cx="62.4" cy="363.0" rx="2.3" ry="0.7" transform="rotate(69 62.4 363.0)" fill="#f0587a" opacity="0.29"/>
<ellipse cx="69.4" cy="331.7" rx="3.3" ry="0.7" transform="rotate(55 69.4 331.7)" fill="#f0587a" opacity="0.27"/>
<ellipse cx="114.1" cy="362.9" rx="3.2" ry="0.7" transform="rotate(111 114.1 362.9)" fill="#f0587a" opacity="0.27"/>
<ellipse cx="93.8" cy="377.6" rx="3.3" ry="0.7" transform="rotate(51 93.8 377.6)" fill="#f0587a" opacity="0.27"/>
<ellipse cx="129.8" cy="320.6" rx="2.5" ry="0.7" transform="rotate(60 129.8 320.6)" fill="#f0587a" opacity="0.21"/>
<ellipse cx="137.3" cy="319.3" rx="3.3" ry="0.7" transform="rotate(70 137.3 319.3)" fill="#f0587a" opacity="0.18"/>
<ellipse cx="43.0" cy="334.6" rx="2.3" ry="0.7" transform="rotate(47 43.0 334.6)" fill="#f0587a" opacity="0.28"/>
<ellipse cx="123.3" cy="308.3" rx="2.2" ry="0.7" transform="rotate(124 123.3 308.3)" fill="#f0587a" opacity="0.25"/>
<ellipse cx="118.7" cy="345.0" rx="2.7" ry="0.7" transform="rotate(57 118.7 345.0)" fill="#f0587a" opacity="0.15"/>
<ellipse cx="119.1" cy="355.0" rx="2.3" ry="0.7" transform="rotate(66 119.1 355.0)" fill="#f0587a" opacity="0.19"/>
<ellipse cx="127.9" cy="389.0" rx="2.2" ry="0.7" transform="rotate(67 127.9 389.0)" fill="#f0587a" opacity="0.29"/>
<ellipse cx="41.8" cy="308.3" rx="2.6" ry="0.7" transform="rotate(127 41.8 308.3)" fill="#f0587a" opacity="0.27"/>
<ellipse cx="34.5" cy="362.9" rx="2.5" ry="0.7" transform="rotate(117 34.5 362.9)" fill="#f0587a" opacity="0.22"/>
<ellipse cx="137.2" cy="354.2" rx="3.3" ry="0.7" transform="rotate(142 137.2 354.2)" fill="#f0587a" opacity="0.31"/>
<ellipse cx="112.6" cy="377.3" rx="2.8" ry="0.7" transform="rotate(55 112.6 377.3)" fill="#f0587a" opacity="0.35"/>
<ellipse cx="123.9" cy="322.9" rx="3.2" ry="0.7" transform="rotate(66 123.9 322.9)" fill="#f0587a" opacity="0.23"/>
<ellipse cx="134.3" cy="379.0" rx="2.6" ry="0.7" transform="rotate(58 134.3 379.0)" fill="#f0587a" opacity="0.29"/>
<ellipse cx="41.0" cy="330.5" rx="3.5" ry="0.7" transform="rotate(110 41.0 330.5)" fill="#f0587a" opacity="0.33"/>
<ellipse cx="38.6" cy="324.2" rx="3.0" ry="0.7" transform="rotate(68 38.6 324.2)" fill="#f0587a" opacity="0.26"/>
<ellipse cx="93.2" cy="334.8" rx="3.1" ry="0.7" transform="rotate(70 93.2 334.8)" fill="#f0587a" opacity="0.35"/>
<ellipse cx="35.6" cy="355.2" rx="2.8" ry="0.7" transform="rotate(120 35.6 355.2)" fill="#f0587a" opacity="0.30"/>
<ellipse cx="106.2" cy="300.6" rx="2.8" ry="0.7" transform="rotate(121 106.2 300.6)" fill="#f0587a" opacity="0.25"/>
<ellipse cx="142.3" cy="350.9" rx="2.8" ry="0.7" transform="rotate(70 142.3 350.9)" fill="#f0587a" opacity="0.28"/>
<ellipse cx="141.0" cy="334.5" rx="3.3" ry="0.7" transform="rotate(68 141.0 334.5)" fill="#f0587a" opacity="0.26"/>
<ellipse cx="100.4" cy="338.4" rx="2.9" ry="0.7" transform="rotate(121 100.4 338.4)" fill="#f0587a" opacity="0.22"/>
<ellipse cx="65.3" cy="358.8" rx="2.0" ry="0.7" transform="rotate(121 65.3 358.8)" fill="#f0587a" opacity="0.30"/>
<ellipse cx="99.2" cy="356.8" rx="3.3" ry="0.7" transform="rotate(46 99.2 356.8)" fill="#f0587a" opacity="0.30"/>
<ellipse cx="38.7" cy="388.9" rx="2.6" ry="0.7" transform="rotate(68 38.7 388.9)" fill="#f0587a" opacity="0.25"/>
<ellipse cx="143.0" cy="321.6" rx="2.2" ry="0.7" transform="rotate(147 143.0 321.6)" fill="#f0587a" opacity="0.34"/>
<ellipse cx="60.7" cy="363.4" rx="2.3" ry="0.7" transform="rotate(32 60.7 363.4)" fill="#f0587a" opacity="0.16"/>
<ellipse cx="92.7" cy="310.8" rx="2.9" ry="0.7" transform="rotate(137 92.7 310.8)" fill="#f0587a" opacity="0.28"/>
<ellipse cx="110.1" cy="332.5" rx="3.4" ry="0.7" transform="rotate(60 110.1 332.5)" fill="#f0587a" opacity="0.30"/>
<ellipse cx="59.9" cy="309.9" rx="2.4" ry="0.7" transform="rotate(141 59.9 309.9)" fill="#f0587a" opacity="0.27"/>
<ellipse cx="114.9" cy="362.7" rx="2.3" ry="0.7" transform="rotate(38 114.9 362.7)" fill="#f0587a" opacity="0.20"/>
<ellipse cx="143.7" cy="382.3" rx="2.0" ry="0.7" transform="rotate(65 143.7 382.3)" fill="#f0587a" opacity="0.20"/>
<ellipse cx="36.0" cy="303.0" rx="3.4" ry="0.7" transform="rotate(39 36.0 303.0)" fill="#f0587a" opacity="0.18"/>
<circle cx="62.2" cy="318.5" r="0.85" fill="#d42f50" opacity="0.85"/>
<circle cx="93.2" cy="325.4" r="0.85" fill="#d42f50" opacity="0.85"/>
<circle cx="89.0" cy="329.2" r="0.85" fill="#d42f50" opacity="0.85"/>
<circle cx="139.2" cy="318.5" r="0.85" fill="#d42f50" opacity="0.85"/>
<circle cx="119.5" cy="332.8" r="0.85" fill="#d42f50" opacity="0.85"/>
<circle cx="46.8" cy="336.0" r="0.85" fill="#d42f50" opacity="0.85"/>
<circle cx="71.0" cy="340.2" r="0.85" fill="#d42f50" opacity="0.85"/>
<circle cx="87.9" cy="349.7" r="0.85" fill="#d42f50" opacity="0.85"/>
<circle cx="105.8" cy="356.0" r="0.85" fill="#d42f50" opacity="0.85"/>
<circle cx="59.4" cy="360.6" r="0.85" fill="#d42f50" opacity="0.85"/>
<circle cx="141.3" cy="359.6" r="0.85" fill="#d42f50" opacity="0.85"/>
<circle cx="76.3" cy="377.7" r="0.85" fill="#d42f50" opacity="0.85"/>
<circle cx="117.4" cy="379.2" r="0.85" fill="#d42f50" opacity="0.85"/>
<circle cx="133.2" cy="372.9" r="0.85" fill="#d42f50" opacity="0.85"/>
<circle cx="100.6" cy="371.8" r="0.85" fill="#d42f50" opacity="0.85"/>
<circle cx="58.4" cy="306.0" r="0.85" fill="#d42f50" opacity="0.85"/>
<circle cx="124.8" cy="311.7" r="0.85" fill="#d42f50" opacity="0.85"/>
<circle cx="52.0" cy="367.6" r="0.85" fill="#d42f50" opacity="0.85"/>
<circle cx="80.5" cy="382.4" r="0.85" fill="#d42f50" opacity="0.85"/>
<circle cx="107.9" cy="334.9" r="0.85" fill="#d42f50" opacity="0.85"/>
<circle cx="95.3" cy="347.6" r="0.85" fill="#d42f50" opacity="0.85"/>
<circle cx="141.7" cy="348.6" r="0.85" fill="#d42f50" opacity="0.85"/>
<circle cx="66.8" cy="328.6" r="0.85" fill="#d42f50" opacity="0.85"/>
<circle cx="82.6" cy="353.9" r="0.85" fill="#d42f50" opacity="0.85"/>
<circle cx="113.2" cy="363.4" r="0.85" fill="#d42f50" opacity="0.85"/>
</g></g>
<g clip-path="url(#c2)">
<path d="M188.85 296.6C166.85 310.6 159.85 338.6 161.85 360.6S170.85 386.6 178.85 392.90000000000003" fill="none" stroke="#f27aa6" stroke-width="2.2" opacity="0.55" filter="url(#bl2)"/>
<ellipse cx="206.4" cy="342.8" rx="4.5" ry="5" fill="url(#blob2)"/>
<ellipse cx="232.1" cy="322.5" rx="4" ry="4.5" fill="url(#blob2)"/>
<ellipse cx="220.4" cy="360.4" rx="4" ry="4" fill="url(#blob2)" opacity="0.6"/>
<g filter="url(#bl)">
<path d="M182.1 318.7L185.4 328.8" stroke="#e46a8a" stroke-width="0.7" opacity="0.8"/>
<path d="M233.9 328.8L236.2 337.8" stroke="#e46a8a" stroke-width="0.7" opacity="0.8"/>
<path d="M254.2 336.7L262.1 331.1" stroke="#e46a8a" stroke-width="0.7" opacity="0.8"/>
<path d="M188.8 348.0L196.7 350.2" stroke="#e46a8a" stroke-width="0.7" opacity="0.8"/>
<path d="M229.4 343.5L232.8 351.4" stroke="#e46a8a" stroke-width="0.7" opacity="0.8"/>
<path d="M237.3 354.8L242.9 351.4" stroke="#e46a8a" stroke-width="0.7" opacity="0.8"/>
<path d="M180.9 358.8L184.3 364.9" stroke="#e46a8a" stroke-width="0.7" opacity="0.8"/>
<path d="M193.3 375.0L200.1 371.7" stroke="#e46a8a" stroke-width="0.7" opacity="0.8"/>
<path d="M218.1 379.6L222.6 373.9" stroke="#e46a8a" stroke-width="0.7" opacity="0.8"/>
<path d="M236.2 317.5L241.8 314.8" stroke="#e46a8a" stroke-width="0.7" opacity="0.8"/>
<path d="M248.6 316.4L254.2 319.8" stroke="#e46a8a" stroke-width="0.7" opacity="0.8"/>
<path d="M168.5 326.6L171.9 333.3" stroke="#e46a8a" stroke-width="0.7" opacity="0.8"/>
<path d="M249.7 355.9L256.5 354.1" stroke="#e46a8a" stroke-width="0.7" opacity="0.8"/>
<path d="M205.7 362.6L211.4 366.7" stroke="#e46a8a" stroke-width="0.7" opacity="0.8"/>
<path d="M176.4 304.0L179.8 308.5" stroke="#e46a8a" stroke-width="0.7" opacity="0.8"/>
</g>
<circle cx="182.1" cy="305.1" r="0.89" fill="#a3203f" opacity="0.92"/>
<circle cx="188.4" cy="305.1" r="1.22" fill="#a3203f" opacity="0.69"/>
<circle cx="191.8" cy="306.7" r="0.91" fill="#a3203f" opacity="0.82"/>
<circle cx="201.2" cy="306.3" r="1.12" fill="#a3203f" opacity="0.71"/>
<circle cx="209.8" cy="304.7" r="1.01" fill="#a3203f" opacity="0.79"/>
<circle cx="218.8" cy="305.1" r="0.96" fill="#a3203f" opacity="0.91"/>
<circle cx="221.5" cy="303.6" r="1.04" fill="#a3203f" opacity="0.86"/>
<circle cx="259.2" cy="304.0" r="0.97" fill="#a3203f" opacity="0.65"/>
<circle cx="257.6" cy="309.0" r="1.22" fill="#a3203f" opacity="0.92"/>
<circle cx="229.4" cy="302.9" r="1.15" fill="#a3203f" opacity="0.61"/>
<circle cx="170.3" cy="309.7" r="1.04" fill="#a3203f" opacity="0.88"/>
<circle cx="191.1" cy="311.2" r="0.98" fill="#a3203f" opacity="0.67"/>
<circle cx="227.6" cy="311.2" r="0.99" fill="#a3203f" opacity="0.81"/>
<circle cx="243.4" cy="311.2" r="1.09" fill="#a3203f" opacity="0.77"/>
<circle cx="241.4" cy="314.8" r="1.05" fill="#a3203f" opacity="0.75"/>
<circle cx="233.5" cy="315.3" r="1.21" fill="#a3203f" opacity="0.74"/>
<circle cx="267.7" cy="311.9" r="1.21" fill="#a3203f" opacity="0.93"/>
<circle cx="171.2" cy="316.9" r="1.10" fill="#a3203f" opacity="0.93"/>
<circle cx="177.5" cy="317.5" r="1.07" fill="#a3203f" opacity="0.90"/>
<circle cx="208.4" cy="315.3" r="1.04" fill="#a3203f" opacity="0.74"/>
<circle cx="209.1" cy="317.5" r="1.23" fill="#a3203f" opacity="0.83"/>
<circle cx="215.4" cy="317.5" r="1.16" fill="#a3203f" opacity="0.63"/>
<circle cx="219.3" cy="318.2" r="1.20" fill="#a3203f" opacity="0.74"/>
<circle cx="183.6" cy="319.4" r="0.94" fill="#a3203f" opacity="0.65"/>
<circle cx="252.0" cy="317.5" r="1.17" fill="#a3203f" opacity="0.94"/>
<circle cx="160.2" cy="327.2" r="1.17" fill="#a3203f" opacity="0.87"/>
<circle cx="191.1" cy="322.5" r="1.17" fill="#a3203f" opacity="0.62"/>
<circle cx="197.4" cy="323.6" r="1.22" fill="#a3203f" opacity="0.91"/>
<circle cx="200.1" cy="323.9" r="1.20" fill="#a3203f" opacity="0.92"/>
<circle cx="192.2" cy="326.6" r="1.03" fill="#a3203f" opacity="0.69"/>
<circle cx="207.3" cy="328.8" r="1.02" fill="#a3203f" opacity="0.91"/>
<circle cx="202.4" cy="323.2" r="1.02" fill="#a3203f" opacity="0.87"/>
<circle cx="250.8" cy="324.3" r="0.91" fill="#a3203f" opacity="0.92"/>
<circle cx="256.5" cy="321.6" r="1.17" fill="#a3203f" opacity="0.65"/>
<circle cx="244.7" cy="328.8" r="1.15" fill="#a3203f" opacity="0.82"/>
<circle cx="261.0" cy="328.8" r="1.06" fill="#a3203f" opacity="0.62"/>
<circle cx="234.4" cy="335.1" r="1.08" fill="#a3203f" opacity="0.66"/>
<circle cx="229.4" cy="339.0" r="0.93" fill="#a3203f" opacity="0.92"/>
<circle cx="247.0" cy="335.6" r="0.91" fill="#a3203f" opacity="0.64"/>
<circle cx="259.4" cy="338.3" r="0.99" fill="#a3203f" opacity="0.82"/>
<circle cx="265.5" cy="333.3" r="1.06" fill="#a3203f" opacity="0.91"/>
<circle cx="254.2" cy="341.2" r="1.13" fill="#a3203f" opacity="0.63"/>
<circle cx="259.4" cy="342.4" r="1.15" fill="#a3203f" opacity="0.79"/>
<circle cx="262.8" cy="345.1" r="1.05" fill="#a3203f" opacity="0.61"/>
<circle cx="257.6" cy="346.4" r="0.93" fill="#a3203f" opacity="0.67"/>
<circle cx="196.7" cy="345.7" r="1.12" fill="#a3203f" opacity="0.87"/>
<circle cx="189.3" cy="347.3" r="1.03" fill="#a3203f" opacity="0.61"/>
<circle cx="200.8" cy="349.8" r="1.02" fill="#a3203f" opacity="0.77"/>
<circle cx="203.0" cy="350.9" r="1.23" fill="#a3203f" opacity="0.94"/>
<circle cx="215.4" cy="348.7" r="0.98" fill="#a3203f" opacity="0.74"/>
<circle cx="224.9" cy="348.0" r="1.07" fill="#a3203f" opacity="0.95"/>
<circle cx="227.2" cy="345.7" r="1.12" fill="#a3203f" opacity="0.62"/>
<circle cx="238.9" cy="349.1" r="0.88" fill="#a3203f" opacity="0.65"/>
<circle cx="212.5" cy="354.8" r="1.12" fill="#a3203f" opacity="0.84"/>
<circle cx="209.8" cy="356.3" r="1.15" fill="#a3203f" opacity="0.87"/>
<circle cx="161.8" cy="349.1" r="0.90" fill="#a3203f" opacity="0.76"/>
<circle cx="165.8" cy="349.1" r="1.20" fill="#a3203f" opacity="0.85"/>
<circle cx="168.5" cy="352.5" r="1.04" fill="#a3203f" opacity="0.70"/>
<circle cx="170.8" cy="354.1" r="0.90" fill="#a3203f" opacity="0.87"/>
<circle cx="165.8" cy="354.1" r="1.19" fill="#a3203f" opacity="0.90"/>
<circle cx="183.9" cy="359.3" r="1.14" fill="#a3203f" opacity="0.92"/>
<circle cx="185.0" cy="362.6" r="0.91" fill="#a3203f" opacity="0.82"/>
<circle cx="196.7" cy="362.6" r="1.22" fill="#a3203f" opacity="0.86"/>
<circle cx="202.4" cy="361.5" r="1.23" fill="#a3203f" opacity="0.86"/>
<circle cx="203.5" cy="364.9" r="1.07" fill="#a3203f" opacity="0.63"/>
<circle cx="214.1" cy="360.8" r="0.93" fill="#a3203f" opacity="0.73"/>
<circle cx="228.3" cy="362.0" r="0.89" fill="#a3203f" opacity="0.71"/>
<circle cx="233.9" cy="362.0" r="0.96" fill="#a3203f" opacity="0.76"/>
<circle cx="235.7" cy="360.4" r="1.11" fill="#a3203f" opacity="0.76"/>
<circle cx="229.4" cy="366.7" r="1.00" fill="#a3203f" opacity="0.64"/>
<circle cx="219.9" cy="369.0" r="1.10" fill="#a3203f" opacity="0.65"/>
<circle cx="224.9" cy="369.4" r="1.10" fill="#a3203f" opacity="0.66"/>
<circle cx="259.4" cy="359.3" r="0.93" fill="#a3203f" opacity="0.61"/>
<circle cx="262.6" cy="360.4" r="1.04" fill="#a3203f" opacity="0.85"/>
<circle cx="257.6" cy="362.6" r="0.89" fill="#a3203f" opacity="0.61"/>
<circle cx="261.0" cy="364.9" r="1.24" fill="#a3203f" opacity="0.75"/>
<circle cx="254.2" cy="367.2" r="1.16" fill="#a3203f" opacity="0.72"/>
<circle cx="173.5" cy="362.6" r="1.18" fill="#a3203f" opacity="0.92"/>
<circle cx="177.5" cy="366.7" r="0.91" fill="#a3203f" opacity="0.67"/>
<circle cx="164.0" cy="367.2" r="0.91" fill="#a3203f" opacity="0.84"/>
<circle cx="161.8" cy="370.5" r="1.04" fill="#a3203f" opacity="0.92"/>
<circle cx="166.3" cy="360.4" r="1.10" fill="#a3203f" opacity="0.85"/>
<circle cx="179.4" cy="373.5" r="1.10" fill="#a3203f" opacity="0.71"/>
<circle cx="182.1" cy="374.4" r="1.17" fill="#a3203f" opacity="0.69"/>
<circle cx="177.5" cy="375.0" r="1.24" fill="#a3203f" opacity="0.79"/>
<circle cx="193.3" cy="370.5" r="0.95" fill="#a3203f" opacity="0.67"/>
<circle cx="199.0" cy="369.4" r="0.97" fill="#a3203f" opacity="0.75"/>
<circle cx="201.2" cy="367.6" r="1.07" fill="#a3203f" opacity="0.67"/>
<circle cx="203.5" cy="372.8" r="0.98" fill="#a3203f" opacity="0.70"/>
<circle cx="209.1" cy="372.8" r="0.89" fill="#a3203f" opacity="0.85"/>
<circle cx="210.9" cy="375.7" r="0.95" fill="#a3203f" opacity="0.79"/>
<circle cx="220.4" cy="372.8" r="0.97" fill="#a3203f" opacity="0.68"/>
<circle cx="222.6" cy="375.0" r="1.09" fill="#a3203f" opacity="0.78"/>
<circle cx="232.8" cy="367.6" r="1.08" fill="#a3203f" opacity="0.67"/>
<circle cx="236.2" cy="366.7" r="1.22" fill="#a3203f" opacity="0.95"/>
<circle cx="249.7" cy="370.5" r="1.13" fill="#a3203f" opacity="0.93"/>
<circle cx="255.3" cy="372.8" r="1.08" fill="#a3203f" opacity="0.61"/>
<circle cx="261.0" cy="371.7" r="1.11" fill="#a3203f" opacity="0.87"/>
<circle cx="262.8" cy="373.9" r="0.90" fill="#a3203f" opacity="0.77"/>
<circle cx="267.3" cy="369.4" r="1.02" fill="#a3203f" opacity="0.72"/>
<circle cx="173.0" cy="371.7" r="0.89" fill="#a3203f" opacity="0.91"/>
<circle cx="168.5" cy="373.9" r="0.96" fill="#a3203f" opacity="0.91"/>
<circle cx="186.6" cy="378.0" r="1.03" fill="#a3203f" opacity="0.86"/>
<circle cx="188.8" cy="380.2" r="0.95" fill="#a3203f" opacity="0.80"/>
<circle cx="191.1" cy="378.4" r="1.07" fill="#a3203f" opacity="0.62"/>
<circle cx="184.3" cy="381.8" r="1.22" fill="#a3203f" opacity="0.66"/>
<circle cx="209.1" cy="378.9" r="1.15" fill="#a3203f" opacity="0.91"/>
<circle cx="215.9" cy="380.2" r="0.98" fill="#a3203f" opacity="0.65"/>
<circle cx="222.6" cy="380.7" r="1.22" fill="#a3203f" opacity="0.60"/>
<circle cx="227.2" cy="381.8" r="1.12" fill="#a3203f" opacity="0.73"/>
<circle cx="219.3" cy="376.6" r="1.15" fill="#a3203f" opacity="0.73"/>
<circle cx="199.4" cy="378.4" r="0.92" fill="#a3203f" opacity="0.81"/>
<circle cx="233.9" cy="378.4" r="1.17" fill="#a3203f" opacity="0.76"/>
<circle cx="245.2" cy="376.6" r="1.01" fill="#a3203f" opacity="0.87"/>
<circle cx="259.2" cy="377.3" r="1.22" fill="#a3203f" opacity="0.95"/>
<circle cx="261.0" cy="380.7" r="0.91" fill="#a3203f" opacity="0.86"/>
<circle cx="168.5" cy="384.1" r="1.19" fill="#a3203f" opacity="0.92"/>
<circle cx="173.0" cy="386.3" r="1.10" fill="#a3203f" opacity="0.82"/>
<circle cx="177.5" cy="384.7" r="1.16" fill="#a3203f" opacity="0.66"/>
<circle cx="166.3" cy="379.6" r="1.01" fill="#a3203f" opacity="0.61"/>
</g>
<g clip-path="url(#c3)">
<path d="M31 397.2H56C40 406.2 31 420.2 30 438.2Z" fill="#f774ad" opacity="0.35" filter="url(#bl2)"/>
<path d="M58 396.2C41 406.2 33 420.2 32.5 438.2V468.2C33 478.2 38 486.2 46 492.4" fill="none" stroke="#feb6d4" stroke-width="1.8" opacity="0.6" filter="url(#bl)"/>
<g filter="url(#bl)">
<path d="M61.8 407.5L66.3 421.1" stroke="#ffc0da" stroke-width="2.0" stroke-linecap="round" opacity="0.4"/>
<path d="M61.8 408.4L66.3 422.0" stroke="#f0609c" stroke-width="0.5" opacity="0.35"/>
<path d="M41.5 418.8L49.4 416.5" stroke="#ffc0da" stroke-width="2.0" stroke-linecap="round" opacity="0.4"/>
<path d="M41.5 419.7L49.4 417.4" stroke="#f0609c" stroke-width="0.5" opacity="0.35"/>
<path d="M43.8 423.3L47.2 427.8" stroke="#ffc0da" stroke-width="2.0" stroke-linecap="round" opacity="0.4"/>
<path d="M43.8 424.2L47.2 428.7" stroke="#f0609c" stroke-width="0.5" opacity="0.35"/>
<path d="M49.4 443.6L56.2 452.6" stroke="#ffc0da" stroke-width="2.0" stroke-linecap="round" opacity="0.4"/>
<path d="M49.4 444.5L56.2 453.5" stroke="#f0609c" stroke-width="0.5" opacity="0.35"/>
<path d="M50.5 453.8L52.4 461.6" stroke="#ffc0da" stroke-width="2.0" stroke-linecap="round" opacity="0.4"/>
<path d="M50.5 454.7L52.4 462.5" stroke="#f0609c" stroke-width="0.5" opacity="0.35"/>
<path d="M57.3 449.2L64.1 456.0" stroke="#ffc0da" stroke-width="2.0" stroke-linecap="round" opacity="0.4"/>
<path d="M57.3 450.1L64.1 456.9" stroke="#f0609c" stroke-width="0.5" opacity="0.35"/>
<path d="M59.6 469.5L67.5 476.3" stroke="#ffc0da" stroke-width="2.0" stroke-linecap="round" opacity="0.4"/>
<path d="M59.6 470.4L67.5 477.2" stroke="#f0609c" stroke-width="0.5" opacity="0.35"/>
<path d="M61.8 468.4L73.1 471.8" stroke="#ffc0da" stroke-width="2.0" stroke-linecap="round" opacity="0.4"/>
<path d="M61.8 469.3L73.1 472.7" stroke="#f0609c" stroke-width="0.5" opacity="0.35"/>
<path d="M73.1 416.5L76.5 423.3" stroke="#ffc0da" stroke-width="2.0" stroke-linecap="round" opacity="0.4"/>
<path d="M73.1 417.4L76.5 424.2" stroke="#f0609c" stroke-width="0.5" opacity="0.35"/>
<path d="M91.1 410.9L100.2 407.5" stroke="#ffc0da" stroke-width="2.0" stroke-linecap="round" opacity="0.4"/>
<path d="M91.1 411.8L100.2 408.4" stroke="#f0609c" stroke-width="0.5" opacity="0.35"/>
<path d="M95.6 422.2L104.7 418.8" stroke="#ffc0da" stroke-width="2.0" stroke-linecap="round" opacity="0.4"/>
<path d="M95.6 423.1L104.7 419.7" stroke="#f0609c" stroke-width="0.5" opacity="0.35"/>
<path d="M81.0 450.4L85.5 459.4" stroke="#ffc0da" stroke-width="2.0" stroke-linecap="round" opacity="0.4"/>
<path d="M81.0 451.3L85.5 460.3" stroke="#f0609c" stroke-width="0.5" opacity="0.35"/>
<path d="M86.6 461.6L92.3 468.4" stroke="#ffc0da" stroke-width="2.0" stroke-linecap="round" opacity="0.4"/>
<path d="M86.6 462.5L92.3 469.3" stroke="#f0609c" stroke-width="0.5" opacity="0.35"/>
<path d="M87.8 451.5L92.3 459.4" stroke="#ffc0da" stroke-width="2.0" stroke-linecap="round" opacity="0.4"/>
<path d="M87.8 452.4L92.3 460.3" stroke="#f0609c" stroke-width="0.5" opacity="0.35"/>
<path d="M113.7 454.9L120.4 448.1" stroke="#ffc0da" stroke-width="2.0" stroke-linecap="round" opacity="0.4"/>
<path d="M113.7 455.8L120.4 449.0" stroke="#f0609c" stroke-width="0.5" opacity="0.35"/>
<path d="M117.1 459.4L127.2 454.9" stroke="#ffc0da" stroke-width="2.0" stroke-linecap="round" opacity="0.4"/>
<path d="M117.1 460.3L127.2 455.8" stroke="#f0609c" stroke-width="0.5" opacity="0.35"/>
<path d="M127.2 452.6L134.0 450.4" stroke="#ffc0da" stroke-width="2.0" stroke-linecap="round" opacity="0.4"/>
<path d="M127.2 453.5L134.0 451.3" stroke="#f0609c" stroke-width="0.5" opacity="0.35"/>
<path d="M136.2 449.2L139.6 456.0" stroke="#ffc0da" stroke-width="2.0" stroke-linecap="round" opacity="0.4"/>
<path d="M136.2 450.1L139.6 456.9" stroke="#f0609c" stroke-width="0.5" opacity="0.35"/>
<path d="M130.6 470.7L138.5 466.2" stroke="#ffc0da" stroke-width="2.0" stroke-linecap="round" opacity="0.4"/>
<path d="M130.6 471.6L138.5 467.1" stroke="#f0609c" stroke-width="0.5" opacity="0.35"/>
<path d="M134.0 475.2L136.2 483.1" stroke="#ffc0da" stroke-width="2.0" stroke-linecap="round" opacity="0.4"/>
<path d="M134.0 476.1L136.2 484.0" stroke="#f0609c" stroke-width="0.5" opacity="0.35"/>
<path d="M111.4 468.4L118.2 472.9" stroke="#ffc0da" stroke-width="2.0" stroke-linecap="round" opacity="0.4"/>
<path d="M111.4 469.3L118.2 473.8" stroke="#f0609c" stroke-width="0.5" opacity="0.35"/>
<path d="M118.2 400.8L127.2 404.1" stroke="#ffc0da" stroke-width="2.0" stroke-linecap="round" opacity="0.4"/>
<path d="M118.2 401.7L127.2 405.0" stroke="#f0609c" stroke-width="0.5" opacity="0.35"/>
<path d="M68.6 434.6L82.1 439.1" stroke="#ffc0da" stroke-width="2.0" stroke-linecap="round" opacity="0.4"/>
<path d="M68.6 435.5L82.1 440.0" stroke="#f0609c" stroke-width="0.5" opacity="0.35"/>
<path d="M93.4 441.4L109.2 447.0" stroke="#ffc0da" stroke-width="2.0" stroke-linecap="round" opacity="0.4"/>
<path d="M93.4 442.3L109.2 447.9" stroke="#f0609c" stroke-width="0.5" opacity="0.35"/>
<path d="M82.1 423.3L86.6 431.2" stroke="#ffc0da" stroke-width="2.0" stroke-linecap="round" opacity="0.4"/>
<path d="M82.1 424.2L86.6 432.1" stroke="#f0609c" stroke-width="0.5" opacity="0.35"/>
<path d="M134.0 442.5L140.7 444.7" stroke="#ffc0da" stroke-width="2.0" stroke-linecap="round" opacity="0.4"/>
<path d="M134.0 443.4L140.7 445.6" stroke="#f0609c" stroke-width="0.5" opacity="0.35"/>
<path d="M34.8 436.8L38.1 442.5" stroke="#ffc0da" stroke-width="2.0" stroke-linecap="round" opacity="0.4"/>
<path d="M34.8 437.7L38.1 443.4" stroke="#f0609c" stroke-width="0.5" opacity="0.35"/>
<path d="M95.6 401.9L102.4 404.1" stroke="#ffc0da" stroke-width="2.0" stroke-linecap="round" opacity="0.4"/>
<path d="M95.6 402.8L102.4 405.0" stroke="#f0609c" stroke-width="0.5" opacity="0.35"/>
<circle cx="87.1" cy="404.8" r="2.4" fill="#fde0ee" stroke="#b8388a" stroke-width="0.9"/>
<circle cx="106.5" cy="417.7" r="1.3" fill="#fde0ee" stroke="#b8388a" stroke-width="0.9"/>
<circle cx="65.9" cy="457.6" r="1.7" fill="#fde0ee" stroke="#b8388a" stroke-width="0.9"/>
<circle cx="50.1" cy="465.0" r="1.9" fill="#fde0ee" stroke="#b8388a" stroke-width="0.9"/>
<circle cx="90.5" cy="472.5" r="2.6" fill="#fde0ee" stroke="#b8388a" stroke-width="0.9"/>
<circle cx="87.1" cy="398.1" r="1.3" fill="#fde0ee" stroke="#b8388a" stroke-width="0.9"/>
</g></g>
<g clip-path="url(#c4)">
<path d="M157.85 397.2H196.85C172.85 406.2 160.85 420.2 160.35 443.2V473.2C161.85 482.2 164.85 486.2 168.85 492.4H157.85Z" fill="#f07fb8" opacity="0.3" filter="url(#bl2)"/>
<path d="M196.85 397.2C172.85 406.2 160.85 420.2 160.35 443.2V473.2C161.85 482.2 164.85 486.2 168.85 492.4" fill="none" stroke="#d95fa0" stroke-width="1.3" opacity="0.55" filter="url(#bl)"/>
<ellipse cx="234.4" cy="430.1" rx="7" ry="8" fill="url(#blob)"/>
<ellipse cx="230.4" cy="420.1" rx="9" ry="12" fill="url(#blob)" opacity="0.4"/>
<ellipse cx="250.4" cy="442.1" rx="8" ry="8" fill="url(#blob)" opacity="0.2"/>
<g filter="url(#bl)">
<circle cx="241.1" cy="453.1" r="3.6" fill="#fcc4da" fill-opacity="0.5" stroke="#cf9078" stroke-width="0.55" opacity="0.75"/>
<circle cx="241.1" cy="453.1" r="1.4" fill="none" stroke="#d08a60" stroke-width="0.5" opacity="0.8"/>
<circle cx="250.8" cy="457.6" r="3.4" fill="#fcc4da" fill-opacity="0.5" stroke="#cf9078" stroke-width="0.55" opacity="0.75"/>
<circle cx="250.8" cy="457.6" r="1.4" fill="none" stroke="#d08a60" stroke-width="0.5" opacity="0.8"/>
<circle cx="232.8" cy="454.9" r="2.0" fill="#fcc4da" fill-opacity="0.5" stroke="#cf9078" stroke-width="0.55" opacity="0.75"/>
<circle cx="232.8" cy="454.9" r="0.8" fill="none" stroke="#d08a60" stroke-width="0.5" opacity="0.8"/>
<circle cx="176.4" cy="449.2" r="2.6" fill="#fcc4da" fill-opacity="0.5" stroke="#cf9078" stroke-width="0.55" opacity="0.75"/>
<circle cx="176.4" cy="449.2" r="1.0" fill="none" stroke="#d08a60" stroke-width="0.5" opacity="0.8"/>
<circle cx="174.2" cy="464.3" r="2.2" fill="#fcc4da" fill-opacity="0.5" stroke="#cf9078" stroke-width="0.55" opacity="0.75"/>
<circle cx="174.2" cy="464.3" r="0.9" fill="none" stroke="#d08a60" stroke-width="0.5" opacity="0.8"/>
<circle cx="208.7" cy="470.7" r="2.8" fill="#fcc4da" fill-opacity="0.5" stroke="#cf9078" stroke-width="0.55" opacity="0.75"/>
<circle cx="208.7" cy="470.7" r="1.1" fill="none" stroke="#d08a60" stroke-width="0.5" opacity="0.8"/>
<circle cx="183.2" cy="478.1" r="2.5" fill="#fcc4da" fill-opacity="0.5" stroke="#cf9078" stroke-width="0.55" opacity="0.75"/>
<circle cx="183.2" cy="478.1" r="1.0" fill="none" stroke="#d08a60" stroke-width="0.5" opacity="0.8"/>
<circle cx="202.4" cy="475.2" r="2.0" fill="#fcc4da" fill-opacity="0.5" stroke="#cf9078" stroke-width="0.55" opacity="0.75"/>
<circle cx="202.4" cy="475.2" r="0.8" fill="none" stroke="#d08a60" stroke-width="0.5" opacity="0.8"/>
<circle cx="164.0" cy="468.0" r="2.2" fill="#fcc4da" fill-opacity="0.5" stroke="#cf9078" stroke-width="0.55" opacity="0.75"/>
<circle cx="164.0" cy="468.0" r="0.9" fill="none" stroke="#d08a60" stroke-width="0.5" opacity="0.8"/>
<circle cx="199.4" cy="436.4" r="2.4" fill="#fcc4da" fill-opacity="0.5" stroke="#cf9078" stroke-width="0.55" opacity="0.75"/>
<circle cx="199.4" cy="436.4" r="1.0" fill="none" stroke="#d08a60" stroke-width="0.5" opacity="0.8"/>
<circle cx="196.7" cy="441.8" r="2.2" fill="#fcc4da" fill-opacity="0.5" stroke="#cf9078" stroke-width="0.55" opacity="0.75"/>
<circle cx="196.7" cy="441.8" r="0.9" fill="none" stroke="#d08a60" stroke-width="0.5" opacity="0.8"/>
<circle cx="201.7" cy="445.9" r="2.2" fill="#fcc4da" fill-opacity="0.5" stroke="#cf9078" stroke-width="0.55" opacity="0.75"/>
<circle cx="201.7" cy="445.9" r="0.9" fill="none" stroke="#d08a60" stroke-width="0.5" opacity="0.8"/>
<circle cx="258.7" cy="416.1" r="3.0" fill="#fcc4da" fill-opacity="0.5" stroke="#cf9078" stroke-width="0.55" opacity="0.75"/>
<circle cx="258.7" cy="416.1" r="1.2" fill="none" stroke="#d08a60" stroke-width="0.5" opacity="0.8"/>
<circle cx="244.1" cy="410.9" r="2.3" fill="#fcc4da" fill-opacity="0.5" stroke="#cf9078" stroke-width="0.55" opacity="0.75"/>
<circle cx="244.1" cy="410.9" r="0.9" fill="none" stroke="#d08a60" stroke-width="0.5" opacity="0.8"/>
<circle cx="264.8" cy="404.1" r="2.6" fill="#fcc4da" fill-opacity="0.5" stroke="#cf9078" stroke-width="0.55" opacity="0.75"/>
<circle cx="264.8" cy="404.1" r="1.0" fill="none" stroke="#d08a60" stroke-width="0.5" opacity="0.8"/>
<circle cx="242.9" cy="400.8" r="2.0" fill="#fcc4da" fill-opacity="0.5" stroke="#cf9078" stroke-width="0.55" opacity="0.75"/>
<circle cx="242.9" cy="400.8" r="0.8" fill="none" stroke="#d08a60" stroke-width="0.5" opacity="0.8"/>
<circle cx="244.7" cy="416.5" r="2.0" fill="#fcc4da" fill-opacity="0.5" stroke="#cf9078" stroke-width="0.55" opacity="0.75"/>
<circle cx="244.7" cy="416.5" r="0.8" fill="none" stroke="#d08a60" stroke-width="0.5" opacity="0.8"/>
<circle cx="170.8" cy="486.4" r="2.2" fill="#fcc4da" fill-opacity="0.5" stroke="#cf9078" stroke-width="0.55" opacity="0.75"/>
<circle cx="170.8" cy="486.4" r="0.9" fill="none" stroke="#d08a60" stroke-width="0.5" opacity="0.8"/>
<circle cx="164.0" cy="487.6" r="2.2" fill="#fcc4da" fill-opacity="0.5" stroke="#cf9078" stroke-width="0.55" opacity="0.75"/>
<circle cx="164.0" cy="487.6" r="0.9" fill="none" stroke="#d08a60" stroke-width="0.5" opacity="0.8"/>
<circle cx="160.0" cy="457.1" r="2.0" fill="#fcc4da" fill-opacity="0.5" stroke="#cf9078" stroke-width="0.55" opacity="0.75"/>
<circle cx="160.0" cy="457.1" r="0.8" fill="none" stroke="#d08a60" stroke-width="0.5" opacity="0.8"/>
<circle cx="253.1" cy="408.7" r="1.6" fill="#fcc4da" fill-opacity="0.5" stroke="#cf9078" stroke-width="0.55" opacity="0.75"/>
<circle cx="253.1" cy="408.7" r="0.6" fill="none" stroke="#d08a60" stroke-width="0.5" opacity="0.8"/>
<path d="M177.5 430.1L197.8 429.6" stroke="#d88aa0" stroke-width="0.8" opacity="0.8"/>
</g></g>
<text x="33.0" y="306.6" font-size="7.5" text-anchor="start" fill="#fff" opacity="0.9">10X</text>
<text x="159.9" y="306.6" font-size="7.5" text-anchor="start" fill="#fff" opacity="0.9">10X</text>
<text x="33.3" y="405.7" font-size="7.5" text-anchor="start" fill="#fff" opacity="0.9">25X</text>
<text x="160.2" y="405.7" font-size="7.5" text-anchor="start" fill="#fff" opacity="0.9">25X</text>
<path d="M136.1 386.9h9.1M262 386.9h9.1" stroke="#fff" stroke-width="1.6"/>
<path d="M121.6 486.5h23.6M247.6 486.5h23.6" stroke="#fff" stroke-width="1.8"/>
<path d="M209.6 318.9L208.9 325.5L211.2 324.1L214 324.6Z" fill="#fb4a17"/>
<path d="M218.7 323.2L225.7 326.4L222.9 327.2L221.6 329.5Z" fill="#fb4a17"/>
<path d="M239.7 458.9L234.4 463.4L237.4 463.6L239.7 465.5Z" fill="#1b4df0"/>
<path d="M252.8 463.4L259.8 466.7L257.2 467.4L256.1 469.5Z" fill="#1b4df0"/>
<g stroke="#ebebeb" fill="none">
<path d="M378.1 251.2V499.1" stroke-width="0.55"/>
<path d="M414.5 251.2V499.1" stroke-width="0.55"/>
<path d="M450.8 251.2V499.1" stroke-width="0.55"/>
<path d="M487.2 251.2V499.1" stroke-width="0.55"/>
<path d="M340.6 455.2H496.3" stroke-width="0.55"/>
<path d="M340.6 389.8H496.3" stroke-width="0.55"/>
<path d="M340.6 324.2H496.3" stroke-width="0.55"/>
<path d="M340.6 258.8H496.3" stroke-width="0.55"/>
<path d="M359.9 251.2V499.1" stroke-width="1.05"/>
<path d="M396.3 251.2V499.1" stroke-width="1.05"/>
<path d="M432.7 251.2V499.1" stroke-width="1.05"/>
<path d="M469.0 251.2V499.1" stroke-width="1.05"/>
<path d="M340.6 488.0H496.3" stroke-width="1.05"/>
<path d="M340.6 422.5H496.3" stroke-width="1.05"/>
<path d="M340.6 357.0H496.3" stroke-width="1.05"/>
<path d="M340.6 291.5H496.3" stroke-width="1.05"/>
</g>
<g fill="#d4d4d4">
<circle cx="406.3" cy="470.0" r="0.8"/>
<circle cx="410.1" cy="469.4" r="0.8"/>
<circle cx="399.2" cy="486.8" r="0.8"/>
<circle cx="406.6" cy="484.3" r="0.8"/>
<circle cx="404.5" cy="481.1" r="0.8"/>
<circle cx="405.7" cy="484.6" r="0.8"/>
<circle cx="402.2" cy="482.7" r="0.8"/>
<circle cx="400.8" cy="486.8" r="0.8"/>
<circle cx="406.3" cy="488.4" r="0.8"/>
<circle cx="409.3" cy="483.4" r="0.8"/>
<circle cx="410.6" cy="481.9" r="0.8"/>
<circle cx="410.4" cy="475.1" r="0.8"/>
<circle cx="401.3" cy="484.5" r="0.8"/>
<circle cx="410.4" cy="481.5" r="0.8"/>
<circle cx="403.2" cy="487.1" r="0.8"/>
<circle cx="399.6" cy="487.4" r="0.8"/>
<circle cx="398.9" cy="487.0" r="0.8"/>
<circle cx="402.6" cy="484.0" r="0.8"/>
<circle cx="402.6" cy="483.1" r="0.8"/>
<circle cx="399.5" cy="486.7" r="0.8"/>
<circle cx="407.8" cy="486.5" r="0.8"/>
<circle cx="408.3" cy="472.9" r="0.8"/>
<circle cx="399.0" cy="488.4" r="0.8"/>
<circle cx="410.3" cy="474.1" r="0.8"/>
<circle cx="410.0" cy="480.0" r="0.8"/>
<circle cx="403.1" cy="481.4" r="0.8"/>
<circle cx="400.1" cy="485.9" r="0.8"/>
<circle cx="409.2" cy="467.0" r="0.8"/>
<circle cx="399.9" cy="487.1" r="0.8"/>
<circle cx="409.9" cy="469.2" r="0.8"/>
<circle cx="405.4" cy="482.7" r="0.8"/>
<circle cx="401.0" cy="488.1" r="0.8"/>
<circle cx="407.1" cy="482.5" r="0.8"/>
<circle cx="399.4" cy="486.1" r="0.8"/>
<circle cx="403.7" cy="482.2" r="0.8"/>
<circle cx="408.8" cy="477.5" r="0.8"/>
<circle cx="399.5" cy="486.8" r="0.8"/>
<circle cx="404.8" cy="485.1" r="0.8"/>
<circle cx="407.6" cy="468.9" r="0.8"/>
<circle cx="408.3" cy="477.2" r="0.8"/>
<circle cx="400.6" cy="486.3" r="0.8"/>
<circle cx="404.3" cy="476.3" r="0.8"/>
<circle cx="410.6" cy="479.1" r="0.8"/>
<circle cx="407.6" cy="479.4" r="0.8"/>
<circle cx="403.7" cy="484.6" r="0.8"/>
<circle cx="410.7" cy="475.9" r="0.8"/>
<circle cx="404.8" cy="486.7" r="0.8"/>
<circle cx="402.1" cy="482.7" r="0.8"/>
<circle cx="403.2" cy="480.7" r="0.8"/>
<circle cx="407.2" cy="467.4" r="0.8"/>
<circle cx="403.2" cy="484.9" r="0.8"/>
<circle cx="404.7" cy="477.6" r="0.8"/>
<circle cx="402.4" cy="483.0" r="0.8"/>
<circle cx="405.8" cy="478.2" r="0.8"/>
<circle cx="401.9" cy="485.2" r="0.8"/>
<circle cx="408.6" cy="467.7" r="0.8"/>
<circle cx="403.0" cy="481.7" r="0.8"/>
<circle cx="408.8" cy="467.6" r="0.8"/>
<circle cx="409.3" cy="465.4" r="0.8"/>
<circle cx="410.3" cy="477.8" r="0.8"/>
<circle cx="400.8" cy="484.7" r="0.8"/>
<circle cx="404.6" cy="477.6" r="0.8"/>
<circle cx="407.6" cy="466.1" r="0.8"/>
<circle cx="405.8" cy="479.3" r="0.8"/>
<circle cx="406.3" cy="473.3" r="0.8"/>
<circle cx="407.5" cy="484.1" r="0.8"/>
<circle cx="404.1" cy="484.8" r="0.8"/>
<circle cx="407.1" cy="486.3" r="0.8"/>
<circle cx="404.5" cy="487.5" r="0.8"/>
<circle cx="400.4" cy="487.7" r="0.8"/>
<circle cx="401.2" cy="487.2" r="0.8"/>
<circle cx="403.4" cy="482.1" r="0.8"/>
<circle cx="401.7" cy="486.9" r="0.8"/>
<circle cx="403.7" cy="484.0" r="0.8"/>
<circle cx="400.2" cy="486.4" r="0.8"/>
<circle cx="399.3" cy="487.3" r="0.8"/>
<circle cx="405.4" cy="478.1" r="0.8"/>
<circle cx="410.3" cy="479.3" r="0.8"/>
<circle cx="408.6" cy="478.2" r="0.8"/>
<circle cx="400.5" cy="486.3" r="0.8"/>
<circle cx="410.3" cy="475.4" r="0.8"/>
<circle cx="403.1" cy="486.9" r="0.8"/>
<circle cx="400.1" cy="486.6" r="0.8"/>
<circle cx="400.5" cy="485.6" r="0.8"/>
<circle cx="403.4" cy="485.8" r="0.8"/>
<circle cx="402.3" cy="484.6" r="0.8"/>
<circle cx="410.4" cy="475.9" r="0.8"/>
<circle cx="402.0" cy="484.4" r="0.8"/>
<circle cx="403.8" cy="477.7" r="0.8"/>
<circle cx="404.7" cy="481.3" r="0.8"/>
<circle cx="400.3" cy="486.7" r="0.8"/>
<circle cx="402.4" cy="482.3" r="0.8"/>
<circle cx="399.0" cy="487.3" r="0.8"/>
<circle cx="410.1" cy="482.3" r="0.8"/>
<circle cx="402.1" cy="483.4" r="0.8"/>
<circle cx="402.4" cy="484.7" r="0.8"/>
<circle cx="406.6" cy="470.4" r="0.8"/>
<circle cx="400.3" cy="486.6" r="0.8"/>
<circle cx="405.2" cy="483.1" r="0.8"/>
<circle cx="405.2" cy="481.9" r="0.8"/>
<circle cx="407.8" cy="486.5" r="0.8"/>
<circle cx="401.9" cy="483.6" r="0.8"/>
<circle cx="409.5" cy="487.3" r="0.8"/>
<circle cx="408.2" cy="472.6" r="0.8"/>
<circle cx="407.3" cy="474.3" r="0.8"/>
<circle cx="409.8" cy="479.8" r="0.8"/>
<circle cx="409.1" cy="481.4" r="0.8"/>
<circle cx="408.8" cy="468.4" r="0.8"/>
<circle cx="407.2" cy="480.3" r="0.8"/>
<circle cx="408.2" cy="483.1" r="0.8"/>
<circle cx="404.6" cy="480.9" r="0.8"/>
<circle cx="402.8" cy="484.2" r="0.8"/>
<circle cx="408.6" cy="482.8" r="0.8"/>
<circle cx="408.7" cy="470.8" r="0.8"/>
<circle cx="399.2" cy="486.2" r="0.8"/>
<circle cx="410.8" cy="486.5" r="0.8"/>
<circle cx="408.9" cy="473.0" r="0.8"/>
<circle cx="410.3" cy="484.7" r="0.8"/>
<circle cx="402.4" cy="486.0" r="0.8"/>
<circle cx="406.2" cy="484.5" r="0.8"/>
<circle cx="406.3" cy="486.2" r="0.8"/>
<circle cx="403.4" cy="488.0" r="0.8"/>
<circle cx="405.7" cy="470.8" r="0.8"/>
<circle cx="400.5" cy="487.2" r="0.8"/>
<circle cx="406.0" cy="468.7" r="0.8"/>
<circle cx="403.3" cy="482.4" r="0.8"/>
<circle cx="400.7" cy="486.3" r="0.8"/>
<circle cx="409.8" cy="474.7" r="0.8"/>
<circle cx="402.0" cy="486.3" r="0.8"/>
<circle cx="407.8" cy="484.0" r="0.8"/>
<circle cx="401.7" cy="484.9" r="0.8"/>
<circle cx="401.0" cy="485.4" r="0.8"/>
<circle cx="399.9" cy="487.2" r="0.8"/>
<circle cx="400.3" cy="487.1" r="0.8"/>
<circle cx="409.4" cy="480.6" r="0.8"/>
<circle cx="408.4" cy="470.1" r="0.8"/>
<circle cx="399.5" cy="487.3" r="0.8"/>
<circle cx="407.0" cy="485.3" r="0.8"/>
<circle cx="410.5" cy="472.6" r="0.8"/>
<circle cx="400.5" cy="486.7" r="0.8"/>
<circle cx="401.7" cy="485.5" r="0.8"/>
<circle cx="403.0" cy="486.8" r="0.8"/>
<circle cx="408.8" cy="468.0" r="0.8"/>
<circle cx="404.0" cy="481.1" r="0.8"/>
<circle cx="406.0" cy="472.9" r="0.8"/>
<circle cx="403.6" cy="488.1" r="0.8"/>
<circle cx="401.3" cy="485.7" r="0.8"/>
<circle cx="404.6" cy="487.2" r="0.8"/>
<circle cx="404.5" cy="478.8" r="0.8"/>
<circle cx="404.0" cy="486.6" r="0.8"/>
<circle cx="400.7" cy="487.5" r="0.8"/>
<circle cx="403.5" cy="485.5" r="0.8"/>
<circle cx="401.9" cy="487.4" r="0.8"/>
<circle cx="402.3" cy="485.5" r="0.8"/>
<circle cx="399.2" cy="486.5" r="0.8"/>
<circle cx="410.1" cy="474.2" r="0.8"/>
<circle cx="404.5" cy="485.2" r="0.8"/>
<circle cx="406.9" cy="471.5" r="0.8"/>
<circle cx="407.6" cy="482.6" r="0.8"/>
<circle cx="399.1" cy="488.1" r="0.8"/>
<circle cx="403.7" cy="483.1" r="0.8"/>
<circle cx="402.6" cy="485.9" r="0.8"/>
<circle cx="407.6" cy="482.6" r="0.8"/>
<circle cx="401.7" cy="483.4" r="0.8"/>
<circle cx="406.6" cy="465.3" r="0.8"/>
<circle cx="398.9" cy="487.7" r="0.8"/>
<circle cx="403.8" cy="482.9" r="0.8"/>
<circle cx="410.7" cy="481.6" r="0.8"/>
<circle cx="400.0" cy="487.2" r="0.8"/>
<circle cx="404.7" cy="486.1" r="0.8"/>
<circle cx="401.8" cy="486.8" r="0.8"/>
<circle cx="399.6" cy="487.7" r="0.8"/>
<circle cx="402.5" cy="488.3" r="0.8"/>
<circle cx="410.5" cy="479.1" r="0.8"/>
<circle cx="403.7" cy="486.8" r="0.8"/>
<circle cx="402.6" cy="484.9" r="0.8"/>
<circle cx="409.9" cy="470.2" r="0.8"/>
<circle cx="401.4" cy="486.7" r="0.8"/>
<circle cx="404.7" cy="482.3" r="0.8"/>
<circle cx="406.3" cy="467.4" r="0.8"/>
<circle cx="402.5" cy="482.6" r="0.8"/>
<circle cx="401.5" cy="487.2" r="0.8"/>
<circle cx="399.9" cy="486.0" r="0.8"/>
<circle cx="402.6" cy="487.9" r="0.8"/>
<circle cx="401.8" cy="486.6" r="0.8"/>
<circle cx="405.8" cy="487.0" r="0.8"/>
<circle cx="407.2" cy="483.2" r="0.8"/>
<circle cx="402.3" cy="487.4" r="0.8"/>
<circle cx="403.9" cy="480.0" r="0.8"/>
<circle cx="405.5" cy="475.4" r="0.8"/>
<circle cx="408.0" cy="475.5" r="0.8"/>
<circle cx="408.6" cy="463.8" r="0.8"/>
<circle cx="407.6" cy="479.6" r="0.8"/>
<circle cx="408.6" cy="484.7" r="0.8"/>
<circle cx="399.6" cy="488.0" r="0.8"/>
<circle cx="407.0" cy="486.5" r="0.8"/>
<circle cx="408.0" cy="486.8" r="0.8"/>
<circle cx="399.5" cy="488.0" r="0.8"/>
<circle cx="409.2" cy="472.8" r="0.8"/>
<circle cx="401.6" cy="486.4" r="0.8"/>
<circle cx="402.8" cy="484.5" r="0.8"/>
<circle cx="408.8" cy="484.9" r="0.8"/>
<circle cx="405.2" cy="476.8" r="0.8"/>
<circle cx="404.2" cy="477.3" r="0.8"/>
<circle cx="400.3" cy="486.5" r="0.8"/>
<circle cx="404.4" cy="482.2" r="0.8"/>
<circle cx="408.1" cy="472.5" r="0.8"/>
<circle cx="410.5" cy="485.6" r="0.8"/>
<circle cx="408.6" cy="486.5" r="0.8"/>
<circle cx="410.6" cy="478.4" r="0.8"/>
<circle cx="404.6" cy="481.6" r="0.8"/>
<circle cx="401.4" cy="487.4" r="0.8"/>
<circle cx="405.6" cy="474.5" r="0.8"/>
<circle cx="401.7" cy="486.9" r="0.8"/>
<circle cx="410.6" cy="472.1" r="0.8"/>
<circle cx="406.3" cy="484.8" r="0.8"/>
<circle cx="408.8" cy="486.8" r="0.8"/>
<circle cx="400.9" cy="486.6" r="0.8"/>
<circle cx="409.6" cy="471.5" r="0.8"/>
<circle cx="402.7" cy="481.4" r="0.8"/>
<circle cx="406.3" cy="478.9" r="0.8"/>
<circle cx="399.0" cy="487.0" r="0.8"/>
<circle cx="401.1" cy="487.0" r="0.8"/>
<circle cx="399.2" cy="487.6" r="0.8"/>
<circle cx="404.6" cy="481.9" r="0.8"/>
<circle cx="410.6" cy="470.9" r="0.8"/>
<circle cx="407.2" cy="473.3" r="0.8"/>
<circle cx="408.4" cy="472.8" r="0.8"/>
<circle cx="407.0" cy="480.5" r="0.8"/>
<circle cx="399.8" cy="488.0" r="0.8"/>
<circle cx="405.8" cy="473.6" r="0.8"/>
<circle cx="402.5" cy="485.1" r="0.8"/>
<circle cx="407.4" cy="467.6" r="0.8"/>
<circle cx="406.9" cy="464.7" r="0.8"/>
<circle cx="407.1" cy="467.9" r="0.8"/>
<circle cx="406.2" cy="477.5" r="0.8"/>
<circle cx="409.6" cy="467.5" r="0.8"/>
<circle cx="405.4" cy="487.8" r="0.8"/>
<circle cx="403.5" cy="482.2" r="0.8"/>
<circle cx="409.6" cy="473.9" r="0.8"/>
<circle cx="403.5" cy="482.1" r="0.8"/>
<circle cx="405.5" cy="480.7" r="0.8"/>
<circle cx="409.5" cy="481.6" r="0.8"/>
<circle cx="402.1" cy="482.9" r="0.8"/>
<circle cx="400.9" cy="485.5" r="0.8"/>
<circle cx="401.5" cy="486.4" r="0.8"/>
<circle cx="408.8" cy="469.4" r="0.8"/>
<circle cx="403.8" cy="482.2" r="0.8"/>
<circle cx="409.7" cy="482.2" r="0.8"/>
<circle cx="406.1" cy="482.9" r="0.8"/>
<circle cx="399.2" cy="487.8" r="0.8"/>
<circle cx="406.1" cy="484.4" r="0.8"/>
<circle cx="406.0" cy="473.7" r="0.8"/>
<circle cx="407.6" cy="474.7" r="0.8"/>
<circle cx="408.9" cy="479.2" r="0.8"/>
<circle cx="409.0" cy="465.9" r="0.8"/>
<circle cx="401.6" cy="484.0" r="0.8"/>
<circle cx="404.6" cy="485.9" r="0.8"/>
<circle cx="400.7" cy="488.1" r="0.8"/>
<circle cx="406.2" cy="472.4" r="0.8"/>
<circle cx="407.7" cy="464.4" r="0.8"/>
<circle cx="407.4" cy="460.5" r="0.8"/>
<circle cx="406.3" cy="484.5" r="0.8"/>
<circle cx="400.1" cy="488.2" r="0.8"/>
<circle cx="403.3" cy="481.8" r="0.8"/>
<circle cx="407.8" cy="477.2" r="0.8"/>
<circle cx="405.4" cy="485.9" r="0.8"/>
<circle cx="406.0" cy="474.2" r="0.8"/>
<circle cx="404.8" cy="473.2" r="0.8"/>
<circle cx="399.7" cy="486.3" r="0.8"/>
<circle cx="402.4" cy="485.6" r="0.8"/>
<circle cx="403.1" cy="479.9" r="0.8"/>
<circle cx="403.4" cy="483.6" r="0.8"/>
<circle cx="407.2" cy="471.9" r="0.8"/>
<circle cx="402.4" cy="483.0" r="0.8"/>
<circle cx="405.1" cy="482.0" r="0.8"/>
<circle cx="401.7" cy="487.0" r="0.8"/>
<circle cx="402.1" cy="486.0" r="0.8"/>
<circle cx="410.7" cy="480.9" r="0.8"/>
<circle cx="410.0" cy="481.5" r="0.8"/>
<circle cx="408.6" cy="469.5" r="0.8"/>
<circle cx="403.2" cy="486.6" r="0.8"/>
<circle cx="404.3" cy="481.5" r="0.8"/>
<circle cx="399.5" cy="487.1" r="0.8"/>
<circle cx="404.2" cy="486.7" r="0.8"/>
<circle cx="402.2" cy="483.1" r="0.8"/>
<circle cx="404.9" cy="482.7" r="0.8"/>
<circle cx="408.2" cy="472.2" r="0.8"/>
<circle cx="409.7" cy="474.0" r="0.8"/>
<circle cx="399.3" cy="487.8" r="0.8"/>
<circle cx="403.8" cy="478.3" r="0.8"/>
<circle cx="409.8" cy="467.5" r="0.8"/>
<circle cx="407.9" cy="482.9" r="0.8"/>
<circle cx="408.2" cy="462.3" r="0.8"/>
<circle cx="410.8" cy="481.1" r="0.8"/>
<circle cx="402.1" cy="486.3" r="0.8"/>
<circle cx="406.8" cy="484.3" r="0.8"/>
<circle cx="404.3" cy="483.8" r="0.8"/>
<circle cx="409.6" cy="482.7" r="0.8"/>
<circle cx="399.1" cy="486.0" r="0.8"/>
<circle cx="406.0" cy="483.6" r="0.8"/>
<circle cx="409.9" cy="486.2" r="0.8"/>
<circle cx="401.1" cy="487.0" r="0.8"/>
<circle cx="407.9" cy="466.7" r="0.8"/>
<circle cx="400.7" cy="485.5" r="0.8"/>
<circle cx="407.3" cy="485.5" r="0.8"/>
<circle cx="406.6" cy="479.5" r="0.8"/>
<circle cx="404.6" cy="474.5" r="0.8"/>
<circle cx="401.7" cy="486.4" r="0.8"/>
<circle cx="405.4" cy="484.9" r="0.8"/>
<circle cx="404.6" cy="487.2" r="0.8"/>
<circle cx="408.1" cy="474.4" r="0.8"/>
<circle cx="406.2" cy="485.9" r="0.8"/>
<circle cx="404.8" cy="483.0" r="0.8"/>
<circle cx="403.0" cy="486.3" r="0.8"/>
<circle cx="404.2" cy="476.2" r="0.8"/>
<circle cx="403.3" cy="481.5" r="0.8"/>
<circle cx="410.1" cy="467.5" r="0.8"/>
<circle cx="402.5" cy="482.7" r="0.8"/>
<circle cx="399.8" cy="486.8" r="0.8"/>
<circle cx="405.2" cy="473.0" r="0.8"/>
<circle cx="402.4" cy="482.6" r="0.8"/>
<circle cx="400.5" cy="487.0" r="0.8"/>
<circle cx="405.6" cy="480.0" r="0.8"/>
<circle cx="399.6" cy="488.1" r="0.8"/>
<circle cx="400.6" cy="486.2" r="0.8"/>
<circle cx="402.2" cy="483.2" r="0.8"/>
<circle cx="402.0" cy="484.0" r="0.8"/>
<circle cx="403.5" cy="485.1" r="0.8"/>
<circle cx="402.0" cy="484.8" r="0.8"/>
<circle cx="409.6" cy="485.4" r="0.8"/>
<circle cx="399.5" cy="486.6" r="0.8"/>
<circle cx="399.0" cy="487.7" r="0.8"/>
<circle cx="404.8" cy="486.4" r="0.8"/>
<circle cx="405.9" cy="474.4" r="0.8"/>
<circle cx="406.2" cy="482.8" r="0.8"/>
<circle cx="410.2" cy="487.2" r="0.8"/>
<circle cx="407.1" cy="486.8" r="0.8"/>
<circle cx="404.4" cy="476.2" r="0.8"/>
<circle cx="407.5" cy="470.4" r="0.8"/>
<circle cx="409.0" cy="470.7" r="0.8"/>
<circle cx="401.9" cy="488.1" r="0.8"/>
<circle cx="407.9" cy="463.1" r="0.8"/>
<circle cx="404.4" cy="485.6" r="0.8"/>
<circle cx="402.0" cy="485.8" r="0.8"/>
<circle cx="399.9" cy="487.9" r="0.8"/>
<circle cx="403.9" cy="480.3" r="0.8"/>
<circle cx="400.9" cy="487.1" r="0.8"/>
<circle cx="407.1" cy="473.0" r="0.8"/>
<circle cx="409.8" cy="482.9" r="0.8"/>
<circle cx="404.8" cy="474.8" r="0.8"/>
<circle cx="405.5" cy="480.0" r="0.8"/>
<circle cx="408.3" cy="479.4" r="0.8"/>
<circle cx="400.1" cy="487.6" r="0.8"/>
<circle cx="409.5" cy="474.6" r="0.8"/>
<circle cx="406.5" cy="484.1" r="0.8"/>
<circle cx="408.1" cy="485.2" r="0.8"/>
<circle cx="406.4" cy="474.1" r="0.8"/>
<circle cx="399.4" cy="486.3" r="0.8"/>
<circle cx="406.5" cy="481.4" r="0.8"/>
<circle cx="403.7" cy="487.0" r="0.8"/>
<circle cx="399.6" cy="486.8" r="0.8"/>
<circle cx="409.3" cy="481.8" r="0.8"/>
<circle cx="401.0" cy="484.6" r="0.8"/>
<circle cx="409.6" cy="485.4" r="0.8"/>
<circle cx="403.8" cy="487.9" r="0.8"/>
<circle cx="405.6" cy="486.1" r="0.8"/>
<circle cx="405.0" cy="472.5" r="0.8"/>
<circle cx="404.4" cy="478.6" r="0.8"/>
<circle cx="400.2" cy="487.5" r="0.8"/>
<circle cx="410.7" cy="480.0" r="0.8"/>
<circle cx="402.1" cy="482.6" r="0.8"/>
<circle cx="404.0" cy="482.6" r="0.8"/>
<circle cx="409.9" cy="475.0" r="0.8"/>
<circle cx="409.9" cy="471.6" r="0.8"/>
<circle cx="405.2" cy="487.5" r="0.8"/>
<circle cx="410.1" cy="479.1" r="0.8"/>
<circle cx="409.9" cy="477.4" r="0.8"/>
<circle cx="402.3" cy="485.8" r="0.8"/>
<circle cx="404.5" cy="479.3" r="0.8"/>
<circle cx="400.5" cy="486.9" r="0.8"/>
<circle cx="407.6" cy="460.0" r="0.8"/>
<circle cx="400.4" cy="488.2" r="0.8"/>
<circle cx="404.2" cy="477.2" r="0.8"/>
<circle cx="400.8" cy="487.0" r="0.8"/>
<circle cx="405.8" cy="481.4" r="0.8"/>
<circle cx="399.5" cy="487.1" r="0.8"/>
<circle cx="408.0" cy="472.0" r="0.8"/>
<circle cx="406.5" cy="467.9" r="0.8"/>
<circle cx="409.9" cy="481.3" r="0.8"/>
<circle cx="409.4" cy="479.1" r="0.8"/>
<circle cx="403.8" cy="485.4" r="0.8"/>
<circle cx="406.7" cy="469.9" r="0.8"/>
<circle cx="398.9" cy="486.5" r="0.8"/>
<circle cx="409.1" cy="477.6" r="0.8"/>
<circle cx="408.9" cy="479.2" r="0.8"/>
<circle cx="407.6" cy="467.5" r="0.8"/>
<circle cx="406.2" cy="483.7" r="0.8"/>
<circle cx="404.8" cy="477.4" r="0.8"/>
<circle cx="408.1" cy="485.9" r="0.8"/>
<circle cx="405.3" cy="485.7" r="0.8"/>
<circle cx="401.3" cy="484.0" r="0.8"/>
<circle cx="401.7" cy="484.3" r="0.8"/>
<circle cx="403.5" cy="485.3" r="0.8"/>
<circle cx="402.1" cy="485.2" r="0.8"/>
<circle cx="405.8" cy="477.6" r="0.8"/>
<circle cx="404.1" cy="479.7" r="0.8"/>
<circle cx="403.3" cy="480.9" r="0.8"/>
<circle cx="404.2" cy="486.6" r="0.8"/>
<circle cx="402.0" cy="486.3" r="0.8"/>
<circle cx="399.5" cy="487.8" r="0.8"/>
<circle cx="400.1" cy="487.1" r="0.8"/>
<circle cx="408.5" cy="474.5" r="0.8"/>
<circle cx="399.1" cy="486.3" r="0.8"/>
<circle cx="406.3" cy="473.7" r="0.8"/>
<circle cx="407.4" cy="469.8" r="0.8"/>
<circle cx="399.1" cy="485.9" r="0.8"/>
<circle cx="401.3" cy="487.4" r="0.8"/>
<circle cx="400.0" cy="487.8" r="0.8"/>
<circle cx="401.5" cy="487.1" r="0.8"/>
<circle cx="402.4" cy="484.9" r="0.8"/>
<circle cx="400.8" cy="484.5" r="0.8"/>
<circle cx="407.1" cy="477.8" r="0.8"/>
<circle cx="404.3" cy="487.5" r="0.8"/>
<circle cx="404.3" cy="478.6" r="0.8"/>
<circle cx="409.2" cy="469.9" r="0.8"/>
<circle cx="409.3" cy="469.1" r="0.8"/>
<circle cx="403.8" cy="480.4" r="0.8"/>
<circle cx="409.4" cy="477.6" r="0.8"/>
<circle cx="401.1" cy="487.3" r="0.8"/>
<circle cx="407.0" cy="482.3" r="0.8"/>
<circle cx="405.2" cy="481.0" r="0.8"/>
<circle cx="400.0" cy="486.9" r="0.8"/>
<circle cx="400.6" cy="488.1" r="0.8"/>
<circle cx="400.6" cy="487.6" r="0.8"/>
<circle cx="398.9" cy="486.6" r="0.8"/>
<circle cx="408.8" cy="465.9" r="0.8"/>
<circle cx="399.8" cy="488.4" r="0.8"/>
<circle cx="399.5" cy="486.6" r="0.8"/>
<circle cx="404.6" cy="481.0" r="0.8"/>
<circle cx="409.9" cy="476.6" r="0.8"/>
<circle cx="400.9" cy="486.7" r="0.8"/>
<circle cx="408.7" cy="481.0" r="0.8"/>
<circle cx="408.6" cy="475.3" r="0.8"/>
<circle cx="401.5" cy="485.2" r="0.8"/>
<circle cx="400.0" cy="486.6" r="0.8"/>
<circle cx="402.7" cy="481.7" r="0.8"/>
<circle cx="402.6" cy="486.5" r="0.8"/>
<circle cx="405.1" cy="478.5" r="0.8"/>
<circle cx="409.8" cy="486.6" r="0.8"/>
<circle cx="405.0" cy="481.0" r="0.8"/>
<circle cx="400.7" cy="487.1" r="0.8"/>
<circle cx="399.7" cy="487.0" r="0.8"/>
<circle cx="402.3" cy="486.7" r="0.8"/>
<circle cx="410.0" cy="486.2" r="0.8"/>
<circle cx="403.0" cy="486.1" r="0.8"/>
<circle cx="403.0" cy="483.1" r="0.8"/>
<circle cx="404.4" cy="477.6" r="0.8"/>
<circle cx="402.8" cy="484.1" r="0.8"/>
<circle cx="409.3" cy="483.5" r="0.8"/>
<circle cx="402.3" cy="483.6" r="0.8"/>
<circle cx="404.9" cy="480.5" r="0.8"/>
<circle cx="409.0" cy="477.0" r="0.8"/>
<circle cx="406.7" cy="477.8" r="0.8"/>
<circle cx="404.0" cy="483.6" r="0.8"/>
<circle cx="409.4" cy="480.0" r="0.8"/>
<circle cx="406.1" cy="483.9" r="0.8"/>
<circle cx="404.2" cy="486.7" r="0.8"/>
<circle cx="400.1" cy="485.7" r="0.8"/>
<circle cx="399.7" cy="487.8" r="0.8"/>
<circle cx="402.3" cy="487.2" r="0.8"/>
<circle cx="404.3" cy="484.2" r="0.8"/>
<circle cx="407.2" cy="465.3" r="0.8"/>
<circle cx="408.9" cy="467.4" r="0.8"/>
<circle cx="401.0" cy="486.9" r="0.8"/>
<circle cx="406.3" cy="469.2" r="0.8"/>
<circle cx="403.3" cy="479.0" r="0.8"/>
<circle cx="410.1" cy="471.3" r="0.8"/>
<circle cx="410.8" cy="475.8" r="0.8"/>
<circle cx="407.6" cy="479.8" r="0.8"/>
<circle cx="400.9" cy="485.4" r="0.8"/>
<circle cx="403.7" cy="482.0" r="0.8"/>
<circle cx="404.1" cy="482.2" r="0.8"/>
<circle cx="402.3" cy="484.0" r="0.8"/>
<circle cx="406.7" cy="476.2" r="0.8"/>
<circle cx="405.8" cy="470.5" r="0.8"/>
<circle cx="408.2" cy="479.1" r="0.8"/>
<circle cx="406.2" cy="468.8" r="0.8"/>
<circle cx="399.4" cy="487.4" r="0.8"/>
<circle cx="405.2" cy="485.0" r="0.8"/>
<circle cx="410.7" cy="483.3" r="0.8"/>
<circle cx="404.3" cy="487.1" r="0.8"/>
<circle cx="401.1" cy="485.8" r="0.8"/>
<circle cx="401.8" cy="488.0" r="0.8"/>
<circle cx="410.8" cy="471.6" r="0.8"/>
<circle cx="408.9" cy="481.0" r="0.8"/>
<circle cx="400.9" cy="488.0" r="0.8"/>
<circle cx="400.9" cy="485.9" r="0.8"/>
<circle cx="399.0" cy="487.2" r="0.8"/>
<circle cx="409.1" cy="470.2" r="0.8"/>
<circle cx="409.8" cy="479.7" r="0.8"/>
<circle cx="405.7" cy="487.4" r="0.8"/>
<circle cx="402.0" cy="487.2" r="0.8"/>
<circle cx="399.8" cy="487.7" r="0.8"/>
<circle cx="410.3" cy="472.1" r="0.8"/>
<circle cx="407.8" cy="478.5" r="0.8"/>
<circle cx="403.6" cy="482.0" r="0.8"/>
<circle cx="409.1" cy="480.3" r="0.8"/>
<circle cx="400.6" cy="487.4" r="0.8"/>
<circle cx="401.6" cy="487.5" r="0.8"/>
<circle cx="401.6" cy="485.7" r="0.8"/>
<circle cx="405.9" cy="474.0" r="0.8"/>
<circle cx="401.3" cy="486.4" r="0.8"/>
<circle cx="405.9" cy="472.8" r="0.8"/>
<circle cx="404.7" cy="478.2" r="0.8"/>
<circle cx="407.1" cy="483.6" r="0.8"/>
<circle cx="404.4" cy="486.4" r="0.8"/>
<circle cx="407.7" cy="474.7" r="0.8"/>
<circle cx="405.1" cy="482.3" r="0.8"/>
<circle cx="405.6" cy="475.8" r="0.8"/>
<circle cx="402.6" cy="485.1" r="0.8"/>
<circle cx="406.1" cy="484.7" r="0.8"/>
<circle cx="404.2" cy="485.2" r="0.8"/>
<circle cx="400.1" cy="486.8" r="0.8"/>
<circle cx="404.8" cy="487.6" r="0.8"/>
<circle cx="402.1" cy="486.3" r="0.8"/>
<circle cx="409.8" cy="481.2" r="0.8"/>
<circle cx="407.2" cy="486.9" r="0.8"/>
<circle cx="401.6" cy="484.6" r="0.8"/>
<circle cx="404.1" cy="482.5" r="0.8"/>
<circle cx="404.7" cy="479.2" r="0.8"/>
<circle cx="407.5" cy="472.6" r="0.8"/>
<circle cx="408.1" cy="470.4" r="0.8"/>
<circle cx="399.4" cy="487.0" r="0.8"/>
<circle cx="402.8" cy="484.7" r="0.8"/>
<circle cx="406.2" cy="473.3" r="0.8"/>
<circle cx="409.9" cy="473.1" r="0.8"/>
<circle cx="407.3" cy="471.7" r="0.8"/>
<circle cx="406.3" cy="472.4" r="0.8"/>
<circle cx="401.6" cy="485.7" r="0.8"/>
<circle cx="407.5" cy="473.9" r="0.8"/>
<circle cx="410.1" cy="476.8" r="0.8"/>
<circle cx="410.7" cy="475.8" r="0.8"/>
<circle cx="410.3" cy="474.0" r="0.8"/>
<circle cx="406.7" cy="469.1" r="0.8"/>
<circle cx="409.2" cy="477.3" r="0.8"/>
<circle cx="406.2" cy="467.0" r="0.8"/>
<circle cx="408.5" cy="485.4" r="0.8"/>
<circle cx="404.0" cy="476.5" r="0.8"/>
<circle cx="407.9" cy="467.0" r="0.8"/>
<circle cx="405.2" cy="477.0" r="0.8"/>
<circle cx="409.2" cy="465.3" r="0.8"/>
<circle cx="404.8" cy="478.3" r="0.8"/>
<circle cx="405.6" cy="471.4" r="0.8"/>
<circle cx="402.7" cy="487.4" r="0.8"/>
<circle cx="401.1" cy="486.0" r="0.8"/>
<circle cx="402.4" cy="485.6" r="0.8"/>
<circle cx="406.9" cy="465.6" r="0.8"/>
<circle cx="404.6" cy="484.5" r="0.8"/>
<circle cx="403.2" cy="487.7" r="0.8"/>
<circle cx="400.6" cy="486.4" r="0.8"/>
<circle cx="410.1" cy="483.1" r="0.8"/>
<circle cx="402.4" cy="484.6" r="0.8"/>
<circle cx="400.3" cy="487.2" r="0.8"/>
<circle cx="400.6" cy="486.9" r="0.8"/>
<circle cx="404.1" cy="480.9" r="0.8"/>
<circle cx="409.3" cy="467.0" r="0.8"/>
<circle cx="399.4" cy="486.4" r="0.8"/>
<circle cx="398.9" cy="487.1" r="0.8"/>
<circle cx="407.4" cy="464.7" r="0.8"/>
<circle cx="398.9" cy="487.6" r="0.8"/>
<circle cx="409.8" cy="483.8" r="0.8"/>
<circle cx="410.7" cy="482.3" r="0.8"/>
<circle cx="399.8" cy="487.1" r="0.8"/>
<circle cx="404.3" cy="476.4" r="0.8"/>
<circle cx="404.5" cy="477.7" r="0.8"/>
<circle cx="401.8" cy="487.4" r="0.8"/>
<circle cx="401.7" cy="484.1" r="0.8"/>
<circle cx="405.1" cy="476.7" r="0.8"/>
<circle cx="405.1" cy="485.6" r="0.8"/>
<circle cx="399.2" cy="488.0" r="0.8"/>
<circle cx="399.0" cy="487.0" r="0.8"/>
<circle cx="401.6" cy="486.0" r="0.8"/>
<circle cx="401.4" cy="485.3" r="0.8"/>
<circle cx="399.7" cy="487.4" r="0.8"/>
<circle cx="405.8" cy="474.6" r="0.8"/>
<circle cx="399.4" cy="485.9" r="0.8"/>
<circle cx="406.8" cy="478.2" r="0.8"/>
<circle cx="408.9" cy="482.5" r="0.8"/>
<circle cx="401.7" cy="486.4" r="0.8"/>
<circle cx="401.0" cy="485.3" r="0.8"/>
<circle cx="409.7" cy="471.2" r="0.8"/>
<circle cx="400.5" cy="485.1" r="0.8"/>
<circle cx="404.6" cy="482.8" r="0.8"/>
<circle cx="410.6" cy="471.7" r="0.8"/>
<circle cx="408.9" cy="469.5" r="0.8"/>
<circle cx="399.7" cy="487.3" r="0.8"/>
<circle cx="409.7" cy="486.5" r="0.8"/>
<circle cx="403.0" cy="486.7" r="0.8"/>
<circle cx="401.5" cy="486.2" r="0.8"/>
<circle cx="402.0" cy="483.1" r="0.8"/>
<circle cx="406.0" cy="468.5" r="0.8"/>
<circle cx="399.2" cy="486.8" r="0.8"/>
<circle cx="401.2" cy="484.8" r="0.8"/>
<circle cx="406.2" cy="472.5" r="0.8"/>
<circle cx="404.0" cy="485.8" r="0.8"/>
<circle cx="400.2" cy="487.0" r="0.8"/>
<circle cx="410.2" cy="480.2" r="0.8"/>
<circle cx="402.2" cy="484.5" r="0.8"/>
<circle cx="400.9" cy="484.5" r="0.8"/>
<circle cx="399.4" cy="487.5" r="0.8"/>
<circle cx="406.5" cy="481.2" r="0.8"/>
<circle cx="402.5" cy="484.4" r="0.8"/>
<circle cx="404.7" cy="480.7" r="0.8"/>
<circle cx="410.2" cy="472.7" r="0.8"/>
<circle cx="410.0" cy="475.8" r="0.8"/>
<circle cx="408.3" cy="482.3" r="0.8"/>
<circle cx="403.8" cy="488.1" r="0.8"/>
<circle cx="407.1" cy="481.4" r="0.8"/>
<circle cx="399.2" cy="487.9" r="0.8"/>
<circle cx="403.1" cy="482.3" r="0.8"/>
<circle cx="409.7" cy="482.7" r="0.8"/>
<circle cx="410.7" cy="478.3" r="0.8"/>
<circle cx="406.6" cy="467.7" r="0.8"/>
<circle cx="406.2" cy="484.4" r="0.8"/>
<circle cx="408.8" cy="473.2" r="0.8"/>
<circle cx="407.7" cy="480.6" r="0.8"/>
<circle cx="402.8" cy="482.1" r="0.8"/>
<circle cx="404.5" cy="479.0" r="0.8"/>
<circle cx="402.0" cy="488.0" r="0.8"/>
<circle cx="405.8" cy="468.8" r="0.8"/>
<circle cx="406.3" cy="465.8" r="0.8"/>
<circle cx="404.8" cy="481.0" r="0.8"/>
<circle cx="403.3" cy="482.2" r="0.8"/>
<circle cx="400.3" cy="485.8" r="0.8"/>
<circle cx="407.8" cy="471.3" r="0.8"/>
<circle cx="405.8" cy="486.0" r="0.8"/>
<circle cx="407.6" cy="484.3" r="0.8"/>
<circle cx="408.6" cy="468.3" r="0.8"/>
<circle cx="403.5" cy="481.3" r="0.8"/>
<circle cx="401.4" cy="484.8" r="0.8"/>
<circle cx="402.1" cy="485.6" r="0.8"/>
<circle cx="408.3" cy="462.1" r="0.8"/>
<circle cx="401.6" cy="485.5" r="0.8"/>
<circle cx="405.8" cy="483.7" r="0.8"/>
<circle cx="405.4" cy="471.8" r="0.8"/>
<circle cx="406.1" cy="474.4" r="0.8"/>
<circle cx="406.4" cy="482.0" r="0.8"/>
<circle cx="407.0" cy="486.9" r="0.8"/>
<circle cx="400.9" cy="486.2" r="0.8"/>
<circle cx="389.9" cy="481.5" r="0.8"/>
<circle cx="385.8" cy="480.7" r="0.8"/>
<circle cx="390.2" cy="481.5" r="0.8"/>
<circle cx="382.1" cy="484.6" r="0.8"/>
<circle cx="392.6" cy="485.8" r="0.8"/>
<circle cx="388.3" cy="483.5" r="0.8"/>
<circle cx="390.0" cy="480.1" r="0.8"/>
<circle cx="386.0" cy="486.6" r="0.8"/>
<circle cx="390.2" cy="482.6" r="0.8"/>
<circle cx="383.6" cy="482.7" r="0.8"/>
<circle cx="387.9" cy="483.4" r="0.8"/>
<circle cx="384.8" cy="480.2" r="0.8"/>
<circle cx="384.1" cy="480.8" r="0.8"/>
<circle cx="390.2" cy="483.0" r="0.8"/>
<circle cx="392.9" cy="486.9" r="0.8"/>
<circle cx="389.3" cy="481.7" r="0.8"/>
<circle cx="383.6" cy="484.5" r="0.8"/>
<circle cx="382.4" cy="487.2" r="0.8"/>
<circle cx="384.9" cy="487.1" r="0.8"/>
<circle cx="388.7" cy="484.3" r="0.8"/>
<circle cx="388.9" cy="480.4" r="0.8"/>
<circle cx="388.9" cy="482.2" r="0.8"/>
<circle cx="391.9" cy="488.0" r="0.8"/>
<circle cx="392.5" cy="487.0" r="0.8"/>
<circle cx="392.8" cy="485.0" r="0.8"/>
<circle cx="390.4" cy="487.2" r="0.8"/>
<circle cx="391.2" cy="484.7" r="0.8"/>
<circle cx="385.1" cy="480.0" r="0.8"/>
<circle cx="387.5" cy="476.7" r="0.8"/>
<circle cx="393.9" cy="488.0" r="0.8"/>
<circle cx="390.8" cy="485.0" r="0.8"/>
<circle cx="390.2" cy="484.0" r="0.8"/>
<circle cx="384.3" cy="484.3" r="0.8"/>
<circle cx="387.0" cy="485.2" r="0.8"/>
<circle cx="393.1" cy="487.3" r="0.8"/>
<circle cx="383.1" cy="483.0" r="0.8"/>
<circle cx="386.2" cy="476.8" r="0.8"/>
<circle cx="390.4" cy="485.4" r="0.8"/>
<circle cx="383.8" cy="486.0" r="0.8"/>
<circle cx="383.8" cy="484.0" r="0.8"/>
<circle cx="385.4" cy="486.9" r="0.8"/>
<circle cx="383.2" cy="487.4" r="0.8"/>
<circle cx="388.2" cy="480.1" r="0.8"/>
<circle cx="385.1" cy="479.0" r="0.8"/>
<circle cx="393.2" cy="486.2" r="0.8"/>
<circle cx="387.6" cy="481.6" r="0.8"/>
<circle cx="388.4" cy="480.6" r="0.8"/>
<circle cx="386.3" cy="479.4" r="0.8"/>
<circle cx="387.1" cy="485.4" r="0.8"/>
<circle cx="386.9" cy="481.1" r="0.8"/>
<circle cx="381.8" cy="484.9" r="0.8"/>
<circle cx="393.5" cy="486.1" r="0.8"/>
<circle cx="389.2" cy="479.8" r="0.8"/>
<circle cx="387.4" cy="476.6" r="0.8"/>
<circle cx="388.6" cy="484.5" r="0.8"/>
<circle cx="390.0" cy="480.7" r="0.8"/>
<circle cx="394.1" cy="485.7" r="0.8"/>
<circle cx="382.3" cy="487.2" r="0.8"/>
<circle cx="392.0" cy="486.5" r="0.8"/>
<circle cx="383.0" cy="487.5" r="0.8"/>
<circle cx="383.5" cy="486.1" r="0.8"/>
<circle cx="383.8" cy="486.6" r="0.8"/>
<circle cx="392.1" cy="483.9" r="0.8"/>
<circle cx="390.7" cy="485.6" r="0.8"/>
<circle cx="387.0" cy="483.3" r="0.8"/>
<circle cx="393.0" cy="485.8" r="0.8"/>
<circle cx="389.6" cy="486.8" r="0.8"/>
<circle cx="388.9" cy="485.0" r="0.8"/>
<circle cx="384.8" cy="484.2" r="0.8"/>
<circle cx="387.0" cy="479.7" r="0.8"/>
<circle cx="385.2" cy="483.6" r="0.8"/>
<circle cx="383.7" cy="487.5" r="0.8"/>
<circle cx="389.9" cy="480.1" r="0.8"/>
<circle cx="389.1" cy="483.0" r="0.8"/>
<circle cx="388.6" cy="483.1" r="0.8"/>
<circle cx="387.9" cy="483.4" r="0.8"/>
<circle cx="392.1" cy="486.1" r="0.8"/>
<circle cx="384.7" cy="483.1" r="0.8"/>
<circle cx="385.4" cy="484.0" r="0.8"/>
<circle cx="389.5" cy="483.9" r="0.8"/>
<circle cx="388.4" cy="480.8" r="0.8"/>
<circle cx="384.8" cy="480.8" r="0.8"/>
<circle cx="383.6" cy="485.8" r="0.8"/>
<circle cx="387.8" cy="485.1" r="0.8"/>
<circle cx="383.9" cy="486.5" r="0.8"/>
<circle cx="383.5" cy="485.0" r="0.8"/>
<circle cx="384.2" cy="480.3" r="0.8"/>
<circle cx="384.3" cy="484.4" r="0.8"/>
<circle cx="394.1" cy="486.5" r="0.8"/>
<circle cx="390.0" cy="485.1" r="0.8"/>
<circle cx="390.5" cy="487.8" r="0.8"/>
<circle cx="394.0" cy="486.1" r="0.8"/>
<circle cx="382.5" cy="483.1" r="0.8"/>
<circle cx="391.4" cy="485.1" r="0.8"/>
<circle cx="389.6" cy="482.8" r="0.8"/>
<circle cx="382.7" cy="484.1" r="0.8"/>
<circle cx="390.5" cy="485.9" r="0.8"/>
<circle cx="383.1" cy="485.1" r="0.8"/>
<circle cx="387.5" cy="479.3" r="0.8"/>
<circle cx="391.4" cy="485.1" r="0.8"/>
<circle cx="387.8" cy="482.7" r="0.8"/>
<circle cx="385.8" cy="478.4" r="0.8"/>
<circle cx="391.7" cy="485.3" r="0.8"/>
<circle cx="391.9" cy="484.2" r="0.8"/>
<circle cx="393.4" cy="487.3" r="0.8"/>
<circle cx="386.5" cy="481.8" r="0.8"/>
<circle cx="392.4" cy="484.3" r="0.8"/>
<circle cx="384.8" cy="483.9" r="0.8"/>
<circle cx="384.0" cy="483.2" r="0.8"/>
<circle cx="384.5" cy="483.2" r="0.8"/>
<circle cx="390.1" cy="484.4" r="0.8"/>
<circle cx="388.5" cy="484.7" r="0.8"/>
<circle cx="388.4" cy="479.7" r="0.8"/>
<circle cx="385.0" cy="482.1" r="0.8"/>
<circle cx="386.3" cy="483.3" r="0.8"/>
<circle cx="391.4" cy="483.8" r="0.8"/>
<circle cx="385.4" cy="485.3" r="0.8"/>
<circle cx="383.3" cy="481.5" r="0.8"/>
<circle cx="386.9" cy="477.9" r="0.8"/>
<circle cx="392.3" cy="487.1" r="0.8"/>
<circle cx="387.9" cy="486.1" r="0.8"/>
<circle cx="386.7" cy="486.8" r="0.8"/>
<circle cx="389.2" cy="480.1" r="0.8"/>
<circle cx="393.6" cy="486.9" r="0.8"/>
<circle cx="391.1" cy="483.2" r="0.8"/>
<circle cx="387.0" cy="478.4" r="0.8"/>
<circle cx="390.4" cy="484.9" r="0.8"/>
<circle cx="383.6" cy="482.1" r="0.8"/>
<circle cx="382.2" cy="486.9" r="0.8"/>
<circle cx="387.2" cy="484.9" r="0.8"/>
<circle cx="383.0" cy="486.9" r="0.8"/>
<circle cx="390.7" cy="483.8" r="0.8"/>
<circle cx="388.1" cy="483.6" r="0.8"/>
<circle cx="382.3" cy="484.0" r="0.8"/>
<circle cx="383.0" cy="484.4" r="0.8"/>
<circle cx="388.0" cy="479.1" r="0.8"/>
<circle cx="383.6" cy="485.8" r="0.8"/>
<circle cx="383.5" cy="482.5" r="0.8"/>
<circle cx="385.5" cy="481.2" r="0.8"/>
<circle cx="385.4" cy="478.8" r="0.8"/>
<circle cx="383.4" cy="481.8" r="0.8"/>
<circle cx="394.1" cy="488.0" r="0.8"/>
<circle cx="387.2" cy="477.1" r="0.8"/>
<circle cx="388.8" cy="482.4" r="0.8"/>
<circle cx="387.9" cy="485.4" r="0.8"/>
<circle cx="384.5" cy="482.5" r="0.8"/>
<circle cx="391.4" cy="482.8" r="0.8"/>
<circle cx="389.3" cy="482.6" r="0.8"/>
<circle cx="384.5" cy="481.1" r="0.8"/>
<circle cx="388.3" cy="482.0" r="0.8"/>
<circle cx="394.0" cy="486.9" r="0.8"/>
<circle cx="387.4" cy="480.1" r="0.8"/>
<circle cx="387.8" cy="477.0" r="0.8"/>
<circle cx="391.4" cy="483.6" r="0.8"/>
<circle cx="384.2" cy="485.8" r="0.8"/>
<circle cx="384.3" cy="485.1" r="0.8"/>
<circle cx="391.8" cy="485.3" r="0.8"/>
<circle cx="382.1" cy="486.0" r="0.8"/>
<circle cx="390.5" cy="484.1" r="0.8"/>
<circle cx="383.8" cy="482.5" r="0.8"/>
<circle cx="391.4" cy="484.7" r="0.8"/>
<circle cx="381.8" cy="486.9" r="0.8"/>
<circle cx="382.7" cy="484.3" r="0.8"/>
<circle cx="390.2" cy="482.7" r="0.8"/>
<circle cx="392.5" cy="486.0" r="0.8"/>
<circle cx="386.6" cy="476.1" r="0.8"/>
<circle cx="383.6" cy="483.2" r="0.8"/>
<circle cx="386.0" cy="484.5" r="0.8"/>
<circle cx="391.0" cy="484.2" r="0.8"/>
<circle cx="382.5" cy="482.9" r="0.8"/>
<circle cx="391.2" cy="484.2" r="0.8"/>
<circle cx="383.2" cy="485.7" r="0.8"/>
<circle cx="387.6" cy="487.3" r="0.8"/>
<circle cx="387.1" cy="486.1" r="0.8"/>
<circle cx="385.9" cy="488.2" r="0.8"/>
<circle cx="393.8" cy="487.3" r="0.8"/>
<circle cx="386.9" cy="483.4" r="0.8"/>
<circle cx="388.0" cy="482.7" r="0.8"/>
<circle cx="381.9" cy="485.8" r="0.8"/>
<circle cx="392.2" cy="486.8" r="0.8"/>
<circle cx="393.5" cy="487.8" r="0.8"/>
<circle cx="384.8" cy="484.2" r="0.8"/>
<circle cx="390.0" cy="482.2" r="0.8"/>
<circle cx="384.2" cy="485.4" r="0.8"/>
<circle cx="387.7" cy="476.4" r="0.8"/>
<circle cx="390.3" cy="482.1" r="0.8"/>
<circle cx="388.0" cy="481.1" r="0.8"/>
<circle cx="385.1" cy="484.9" r="0.8"/>
<circle cx="387.8" cy="484.5" r="0.8"/>
<circle cx="393.6" cy="487.0" r="0.8"/>
<circle cx="387.4" cy="481.3" r="0.8"/>
<circle cx="386.8" cy="484.4" r="0.8"/>
<circle cx="390.2" cy="482.9" r="0.8"/>
<circle cx="386.1" cy="485.4" r="0.8"/>
<circle cx="387.8" cy="487.5" r="0.8"/>
<circle cx="383.3" cy="483.5" r="0.8"/>
<circle cx="391.8" cy="483.4" r="0.8"/>
<circle cx="393.7" cy="488.0" r="0.8"/>
<circle cx="383.5" cy="486.0" r="0.8"/>
<circle cx="385.7" cy="479.8" r="0.8"/>
<circle cx="384.3" cy="483.9" r="0.8"/>
<circle cx="390.5" cy="484.8" r="0.8"/>
<circle cx="388.3" cy="482.3" r="0.8"/>
<circle cx="391.6" cy="483.0" r="0.8"/>
<circle cx="385.8" cy="484.0" r="0.8"/>
<circle cx="382.1" cy="485.7" r="0.8"/>
<circle cx="391.0" cy="482.8" r="0.8"/>
<circle cx="390.3" cy="483.1" r="0.8"/>
<circle cx="389.7" cy="481.3" r="0.8"/>
<circle cx="387.6" cy="485.3" r="0.8"/>
<circle cx="392.0" cy="484.7" r="0.8"/>
<circle cx="392.2" cy="485.4" r="0.8"/>
<circle cx="387.5" cy="478.8" r="0.8"/>
<circle cx="393.1" cy="488.5" r="0.8"/>
<circle cx="387.6" cy="483.4" r="0.8"/>
<circle cx="386.0" cy="480.4" r="0.8"/>
<circle cx="388.9" cy="485.1" r="0.8"/>
<circle cx="386.5" cy="479.1" r="0.8"/>
<circle cx="387.0" cy="483.7" r="0.8"/>
<circle cx="388.8" cy="480.6" r="0.8"/>
<circle cx="392.2" cy="485.4" r="0.8"/>
<circle cx="388.0" cy="479.2" r="0.8"/>
<circle cx="386.7" cy="480.0" r="0.8"/>
<circle cx="385.4" cy="485.9" r="0.8"/>
<circle cx="390.2" cy="480.9" r="0.8"/>
<circle cx="389.0" cy="479.8" r="0.8"/>
<circle cx="383.5" cy="481.8" r="0.8"/>
<circle cx="385.9" cy="487.2" r="0.8"/>
<circle cx="382.1" cy="485.7" r="0.8"/>
<circle cx="391.9" cy="486.9" r="0.8"/>
<circle cx="385.5" cy="485.7" r="0.8"/>
<circle cx="382.1" cy="486.9" r="0.8"/>
<circle cx="387.4" cy="475.9" r="0.8"/>
<circle cx="383.1" cy="483.7" r="0.8"/>
<circle cx="385.3" cy="484.9" r="0.8"/>
<circle cx="392.8" cy="485.2" r="0.8"/>
<circle cx="382.9" cy="484.5" r="0.8"/>
<circle cx="388.8" cy="484.3" r="0.8"/>
<circle cx="382.5" cy="484.4" r="0.8"/>
<circle cx="386.5" cy="485.9" r="0.8"/>
<circle cx="390.6" cy="485.4" r="0.8"/>
<circle cx="391.3" cy="487.7" r="0.8"/>
<circle cx="389.7" cy="486.8" r="0.8"/>
<circle cx="386.0" cy="481.8" r="0.8"/>
<circle cx="386.8" cy="485.1" r="0.8"/>
<circle cx="389.0" cy="480.9" r="0.8"/>
<circle cx="393.7" cy="487.7" r="0.8"/>
<circle cx="386.0" cy="487.4" r="0.8"/>
<circle cx="382.8" cy="482.7" r="0.8"/>
<circle cx="383.4" cy="482.9" r="0.8"/>
<circle cx="383.8" cy="486.6" r="0.8"/>
<circle cx="384.3" cy="485.3" r="0.8"/>
<circle cx="391.3" cy="486.0" r="0.8"/>
<circle cx="383.4" cy="482.0" r="0.8"/>
<circle cx="392.6" cy="487.2" r="0.8"/>
<circle cx="390.6" cy="483.6" r="0.8"/>
<circle cx="385.5" cy="484.3" r="0.8"/>
<circle cx="390.9" cy="486.3" r="0.8"/>
<circle cx="387.8" cy="486.1" r="0.8"/>
<circle cx="388.5" cy="480.7" r="0.8"/>
<circle cx="386.0" cy="485.5" r="0.8"/>
<circle cx="388.2" cy="480.0" r="0.8"/>
<circle cx="384.1" cy="487.6" r="0.8"/>
<circle cx="385.5" cy="485.5" r="0.8"/>
<circle cx="383.3" cy="485.2" r="0.8"/>
<circle cx="384.4" cy="481.7" r="0.8"/>
<circle cx="391.0" cy="483.8" r="0.8"/>
<circle cx="385.9" cy="487.1" r="0.8"/>
<circle cx="390.2" cy="480.6" r="0.8"/>
<circle cx="392.0" cy="484.1" r="0.8"/>
<circle cx="385.4" cy="486.1" r="0.8"/>
<circle cx="393.3" cy="487.3" r="0.8"/>
<circle cx="393.9" cy="487.2" r="0.8"/>
<circle cx="392.2" cy="485.1" r="0.8"/>
<circle cx="392.6" cy="487.2" r="0.8"/>
<circle cx="388.8" cy="481.7" r="0.8"/>
<circle cx="387.7" cy="486.8" r="0.8"/>
<circle cx="383.8" cy="481.8" r="0.8"/>
<circle cx="391.6" cy="484.3" r="0.8"/>
<circle cx="391.7" cy="486.3" r="0.8"/>
<circle cx="392.9" cy="486.5" r="0.8"/>
<circle cx="388.8" cy="483.2" r="0.8"/>
<circle cx="391.6" cy="484.9" r="0.8"/>
<circle cx="392.9" cy="486.1" r="0.8"/>
<circle cx="390.2" cy="483.9" r="0.8"/>
<circle cx="389.0" cy="485.0" r="0.8"/>
<circle cx="384.0" cy="481.3" r="0.8"/>
<circle cx="384.6" cy="483.7" r="0.8"/>
<circle cx="385.6" cy="484.4" r="0.8"/>
<circle cx="391.4" cy="487.1" r="0.8"/>
<circle cx="393.6" cy="488.2" r="0.8"/>
<circle cx="382.1" cy="487.9" r="0.8"/>
<circle cx="383.7" cy="485.3" r="0.8"/>
<circle cx="390.6" cy="488.2" r="0.8"/>
<circle cx="381.8" cy="485.4" r="0.8"/>
<circle cx="387.4" cy="487.6" r="0.8"/>
<circle cx="389.7" cy="486.6" r="0.8"/>
<circle cx="387.2" cy="483.1" r="0.8"/>
<circle cx="388.7" cy="482.9" r="0.8"/>
<circle cx="382.3" cy="483.3" r="0.8"/>
<circle cx="388.9" cy="484.0" r="0.8"/>
<circle cx="391.0" cy="483.5" r="0.8"/>
<circle cx="387.2" cy="479.1" r="0.8"/>
<circle cx="384.0" cy="486.4" r="0.8"/>
<circle cx="384.3" cy="484.7" r="0.8"/>
<circle cx="390.9" cy="483.1" r="0.8"/>
<circle cx="387.6" cy="486.0" r="0.8"/>
<circle cx="389.2" cy="484.6" r="0.8"/>
<circle cx="382.9" cy="484.2" r="0.8"/>
<circle cx="391.2" cy="486.8" r="0.8"/>
<circle cx="393.1" cy="487.9" r="0.8"/>
<circle cx="392.5" cy="485.6" r="0.8"/>
<circle cx="390.4" cy="481.5" r="0.8"/>
<circle cx="384.1" cy="480.9" r="0.8"/>
<circle cx="391.5" cy="485.7" r="0.8"/>
<circle cx="393.9" cy="485.6" r="0.8"/>
<circle cx="388.0" cy="477.5" r="0.8"/>
<circle cx="388.0" cy="481.8" r="0.8"/>
<circle cx="383.4" cy="484.8" r="0.8"/>
<circle cx="388.0" cy="478.5" r="0.8"/>
<circle cx="409.3" cy="488.1" r="0.8"/>
<circle cx="409.5" cy="488.1" r="0.8"/>
<circle cx="391.9" cy="487.1" r="0.8"/>
<circle cx="410.1" cy="487.7" r="0.8"/>
<circle cx="404.9" cy="486.9" r="0.8"/>
<circle cx="390.9" cy="487.4" r="0.8"/>
<circle cx="409.0" cy="488.7" r="0.8"/>
<circle cx="385.4" cy="486.8" r="0.8"/>
<circle cx="398.2" cy="487.9" r="0.8"/>
<circle cx="404.8" cy="487.8" r="0.8"/>
<circle cx="385.8" cy="488.0" r="0.8"/>
<circle cx="403.9" cy="487.4" r="0.8"/>
<circle cx="396.2" cy="488.8" r="0.8"/>
<circle cx="410.7" cy="488.6" r="0.8"/>
<circle cx="389.8" cy="487.0" r="0.8"/>
<circle cx="409.0" cy="487.3" r="0.8"/>
<circle cx="392.9" cy="487.1" r="0.8"/>
<circle cx="401.2" cy="487.5" r="0.8"/>
<circle cx="404.6" cy="487.6" r="0.8"/>
<circle cx="397.4" cy="488.2" r="0.8"/>
<circle cx="404.4" cy="488.5" r="0.8"/>
<circle cx="384.5" cy="487.4" r="0.8"/>
<circle cx="383.1" cy="486.8" r="0.8"/>
<circle cx="387.4" cy="487.7" r="0.8"/>
<circle cx="389.3" cy="487.7" r="0.8"/>
<circle cx="399.7" cy="488.3" r="0.8"/>
<circle cx="397.6" cy="486.6" r="0.8"/>
<circle cx="386.1" cy="488.3" r="0.8"/>
<circle cx="387.4" cy="488.5" r="0.8"/>
<circle cx="382.1" cy="486.7" r="0.8"/>
<circle cx="409.8" cy="488.7" r="0.8"/>
<circle cx="406.0" cy="487.5" r="0.8"/>
<circle cx="387.8" cy="486.8" r="0.8"/>
<circle cx="385.1" cy="487.4" r="0.8"/>
<circle cx="401.3" cy="487.2" r="0.8"/>
<circle cx="388.6" cy="488.5" r="0.8"/>
<circle cx="400.1" cy="488.1" r="0.8"/>
<circle cx="399.4" cy="487.1" r="0.8"/>
<circle cx="382.7" cy="487.2" r="0.8"/>
<circle cx="410.2" cy="487.9" r="0.8"/>
<circle cx="398.5" cy="488.1" r="0.8"/>
<circle cx="407.4" cy="488.3" r="0.8"/>
<circle cx="384.7" cy="487.7" r="0.8"/>
<circle cx="394.7" cy="487.5" r="0.8"/>
<circle cx="387.7" cy="486.7" r="0.8"/>
<circle cx="397.3" cy="487.9" r="0.8"/>
<circle cx="403.5" cy="488.7" r="0.8"/>
<circle cx="408.5" cy="486.9" r="0.8"/>
<circle cx="389.2" cy="487.8" r="0.8"/>
<circle cx="382.9" cy="487.0" r="0.8"/>
<circle cx="410.1" cy="487.5" r="0.8"/>
<circle cx="410.2" cy="487.7" r="0.8"/>
<circle cx="407.0" cy="486.9" r="0.8"/>
<circle cx="408.7" cy="487.8" r="0.8"/>
<circle cx="396.5" cy="488.7" r="0.8"/>
<circle cx="409.4" cy="488.6" r="0.8"/>
<circle cx="398.7" cy="487.4" r="0.8"/>
<circle cx="386.8" cy="488.0" r="0.8"/>
<circle cx="390.5" cy="488.8" r="0.8"/>
<circle cx="393.4" cy="487.9" r="0.8"/>
<circle cx="402.6" cy="487.2" r="0.8"/>
<circle cx="409.3" cy="486.8" r="0.8"/>
<circle cx="389.2" cy="487.4" r="0.8"/>
<circle cx="401.9" cy="487.0" r="0.8"/>
<circle cx="385.8" cy="488.0" r="0.8"/>
<circle cx="399.6" cy="488.1" r="0.8"/>
<circle cx="408.4" cy="487.9" r="0.8"/>
<circle cx="402.3" cy="488.6" r="0.8"/>
<circle cx="407.9" cy="486.6" r="0.8"/>
<circle cx="409.8" cy="488.0" r="0.8"/>
<circle cx="406.0" cy="486.6" r="0.8"/>
<circle cx="384.9" cy="488.6" r="0.8"/>
<circle cx="401.1" cy="486.6" r="0.8"/>
<circle cx="382.7" cy="486.9" r="0.8"/>
<circle cx="401.0" cy="487.7" r="0.8"/>
<circle cx="385.9" cy="487.7" r="0.8"/>
<circle cx="396.3" cy="488.3" r="0.8"/>
<circle cx="407.9" cy="487.1" r="0.8"/>
<circle cx="386.6" cy="487.4" r="0.8"/>
<circle cx="399.2" cy="486.7" r="0.8"/>
<circle cx="410.3" cy="486.8" r="0.8"/>
<circle cx="383.3" cy="487.8" r="0.8"/>
<circle cx="386.2" cy="487.1" r="0.8"/>
<circle cx="384.2" cy="486.9" r="0.8"/>
<circle cx="399.7" cy="487.4" r="0.8"/>
<circle cx="409.2" cy="486.9" r="0.8"/>
<circle cx="403.0" cy="487.4" r="0.8"/>
<circle cx="397.7" cy="487.6" r="0.8"/>
<circle cx="382.6" cy="488.3" r="0.8"/>
<circle cx="401.8" cy="487.9" r="0.8"/>
<circle cx="394.9" cy="486.9" r="0.8"/>
<circle cx="393.0" cy="487.2" r="0.8"/>
<circle cx="405.1" cy="486.9" r="0.8"/>
<circle cx="388.6" cy="487.4" r="0.8"/>
<circle cx="395.3" cy="487.5" r="0.8"/>
<circle cx="384.3" cy="488.4" r="0.8"/>
<circle cx="388.9" cy="487.0" r="0.8"/>
<circle cx="404.5" cy="487.9" r="0.8"/>
<circle cx="399.4" cy="487.8" r="0.8"/>
<circle cx="397.4" cy="488.2" r="0.8"/>
<circle cx="391.8" cy="486.7" r="0.8"/>
<circle cx="407.5" cy="488.5" r="0.8"/>
<circle cx="385.2" cy="486.9" r="0.8"/>
<circle cx="394.7" cy="487.4" r="0.8"/>
<circle cx="399.3" cy="487.4" r="0.8"/>
<circle cx="408.1" cy="488.4" r="0.8"/>
<circle cx="406.8" cy="488.2" r="0.8"/>
<circle cx="384.0" cy="488.1" r="0.8"/>
<circle cx="396.7" cy="487.0" r="0.8"/>
<circle cx="398.6" cy="486.6" r="0.8"/>
<circle cx="387.3" cy="487.9" r="0.8"/>
<circle cx="398.4" cy="487.5" r="0.8"/>
<circle cx="402.0" cy="487.7" r="0.8"/>
<circle cx="384.7" cy="487.0" r="0.8"/>
<circle cx="404.9" cy="488.6" r="0.8"/>
<circle cx="405.4" cy="488.8" r="0.8"/>
<circle cx="401.7" cy="487.4" r="0.8"/>
<circle cx="390.4" cy="488.6" r="0.8"/>
<circle cx="389.3" cy="487.4" r="0.8"/>
<circle cx="397.3" cy="487.0" r="0.8"/>
<circle cx="386.8" cy="487.4" r="0.8"/>
<circle cx="390.6" cy="488.7" r="0.8"/>
<circle cx="387.2" cy="488.5" r="0.8"/>
<circle cx="386.4" cy="488.7" r="0.8"/>
<circle cx="410.1" cy="488.0" r="0.8"/>
<circle cx="403.8" cy="487.8" r="0.8"/>
<circle cx="396.6" cy="488.2" r="0.8"/>
<circle cx="409.2" cy="488.3" r="0.8"/>
<circle cx="409.7" cy="487.0" r="0.8"/>
<circle cx="406.9" cy="488.6" r="0.8"/>
<circle cx="410.5" cy="487.3" r="0.8"/>
<circle cx="398.6" cy="487.5" r="0.8"/>
<circle cx="394.7" cy="486.7" r="0.8"/>
<circle cx="410.3" cy="486.7" r="0.8"/>
<circle cx="385.9" cy="487.6" r="0.8"/>
<circle cx="402.1" cy="488.4" r="0.8"/>
<circle cx="407.7" cy="487.1" r="0.8"/>
<circle cx="385.3" cy="488.1" r="0.8"/>
<circle cx="401.6" cy="486.8" r="0.8"/>
<circle cx="410.8" cy="488.2" r="0.8"/>
<circle cx="406.1" cy="487.5" r="0.8"/>
<circle cx="392.3" cy="488.3" r="0.8"/>
<circle cx="384.8" cy="488.7" r="0.8"/>
<circle cx="394.3" cy="488.5" r="0.8"/>
<circle cx="387.7" cy="488.1" r="0.8"/>
<circle cx="385.7" cy="488.3" r="0.8"/>
<circle cx="389.2" cy="486.6" r="0.8"/>
<circle cx="394.1" cy="487.4" r="0.8"/>
<circle cx="397.5" cy="486.6" r="0.8"/>
<circle cx="405.8" cy="486.7" r="0.8"/>
<circle cx="407.1" cy="487.1" r="0.8"/>
<circle cx="407.2" cy="488.0" r="0.8"/>
<circle cx="399.4" cy="488.0" r="0.8"/>
<circle cx="408.7" cy="488.2" r="0.8"/>
<circle cx="410.8" cy="488.3" r="0.8"/>
<circle cx="391.6" cy="487.1" r="0.8"/>
<circle cx="398.4" cy="488.3" r="0.8"/>
<circle cx="385.5" cy="486.8" r="0.8"/>
<circle cx="387.8" cy="487.7" r="0.8"/>
<circle cx="406.1" cy="487.7" r="0.8"/>
<circle cx="386.1" cy="469.4" r="0.8"/>
<circle cx="389.0" cy="472.8" r="0.8"/>
<circle cx="385.0" cy="473.6" r="0.8"/>
<circle cx="386.8" cy="472.0" r="0.8"/>
<circle cx="407.8" cy="450.4" r="0.8"/>
<circle cx="408.7" cy="455.2" r="0.8"/>
<circle cx="407.2" cy="457.2" r="0.8"/>
<circle cx="408.1" cy="453.3" r="0.8"/>
</g><g fill="#0b7a1d">
<circle cx="376.2" cy="486.7" r="0.8"/>
<circle cx="380.9" cy="487.3" r="0.8"/>
<circle cx="377.1" cy="487.1" r="0.8"/>
<circle cx="373.5" cy="487.7" r="0.8"/>
<circle cx="377.9" cy="487.0" r="0.8"/>
<circle cx="373.8" cy="486.9" r="0.8"/>
<circle cx="367.9" cy="486.7" r="0.8"/>
<circle cx="380.5" cy="487.2" r="0.8"/>
<circle cx="374.6" cy="486.8" r="0.8"/>
<circle cx="380.7" cy="487.0" r="0.8"/>
<circle cx="370.3" cy="488.0" r="0.8"/>
<circle cx="376.3" cy="488.3" r="0.8"/>
<circle cx="362.2" cy="487.6" r="0.8"/>
<circle cx="377.9" cy="487.3" r="0.8"/>
<circle cx="363.6" cy="487.1" r="0.8"/>
<circle cx="374.9" cy="487.7" r="0.8"/>
<circle cx="377.5" cy="486.7" r="0.8"/>
<circle cx="376.7" cy="488.1" r="0.8"/>
<circle cx="371.8" cy="488.1" r="0.8"/>
<circle cx="375.6" cy="486.7" r="0.8"/>
<circle cx="377.3" cy="487.9" r="0.8"/>
<circle cx="368.3" cy="488.1" r="0.8"/>
<circle cx="376.7" cy="486.8" r="0.8"/>
<circle cx="362.6" cy="487.2" r="0.8"/>
<circle cx="378.3" cy="486.6" r="0.8"/>
<circle cx="377.4" cy="487.8" r="0.8"/>
<circle cx="380.4" cy="487.8" r="0.8"/>
<circle cx="380.1" cy="487.4" r="0.8"/>
<circle cx="372.1" cy="487.7" r="0.8"/>
<circle cx="380.2" cy="488.3" r="0.8"/>
<circle cx="376.4" cy="488.1" r="0.8"/>
<circle cx="374.7" cy="487.7" r="0.8"/>
<circle cx="374.2" cy="487.6" r="0.8"/>
<circle cx="368.1" cy="488.1" r="0.8"/>
<circle cx="372.8" cy="487.5" r="0.8"/>
<circle cx="372.7" cy="486.7" r="0.8"/>
<circle cx="374.1" cy="488.3" r="0.8"/>
<circle cx="373.2" cy="488.1" r="0.8"/>
<circle cx="379.7" cy="488.0" r="0.8"/>
<circle cx="376.1" cy="488.1" r="0.8"/>
<circle cx="370.8" cy="487.5" r="0.8"/>
<circle cx="375.7" cy="487.4" r="0.8"/>
<circle cx="377.8" cy="487.1" r="0.8"/>
<circle cx="363.2" cy="487.6" r="0.8"/>
<circle cx="381.6" cy="488.3" r="0.8"/>
<circle cx="381.7" cy="487.1" r="0.8"/>
<circle cx="371.6" cy="487.4" r="0.8"/>
<circle cx="379.8" cy="487.7" r="0.8"/>
<circle cx="375.2" cy="486.7" r="0.8"/>
<circle cx="360.3" cy="487.0" r="0.8"/>
<circle cx="359.1" cy="487.1" r="0.8"/>
<circle cx="376.4" cy="487.9" r="0.8"/>
<circle cx="378.4" cy="488.2" r="0.8"/>
<circle cx="377.7" cy="487.7" r="0.8"/>
<circle cx="376.7" cy="488.2" r="0.8"/>
<circle cx="377.7" cy="487.8" r="0.8"/>
<circle cx="363.0" cy="486.8" r="0.8"/>
<circle cx="376.7" cy="486.9" r="0.8"/>
<circle cx="380.6" cy="487.8" r="0.8"/>
<circle cx="364.2" cy="487.3" r="0.8"/>
<circle cx="375.0" cy="487.4" r="0.8"/>
<circle cx="380.3" cy="487.9" r="0.8"/>
<circle cx="379.8" cy="487.0" r="0.8"/>
<circle cx="375.1" cy="488.0" r="0.8"/>
<circle cx="371.6" cy="486.8" r="0.8"/>
<circle cx="381.2" cy="487.2" r="0.8"/>
<circle cx="381.6" cy="487.8" r="0.8"/>
<circle cx="370.5" cy="487.2" r="0.8"/>
<circle cx="380.4" cy="486.6" r="0.8"/>
<circle cx="376.2" cy="488.3" r="0.8"/>
<circle cx="376.3" cy="487.8" r="0.8"/>
<circle cx="375.5" cy="487.4" r="0.8"/>
<circle cx="376.3" cy="486.9" r="0.8"/>
<circle cx="381.6" cy="487.1" r="0.8"/>
<circle cx="379.4" cy="488.1" r="0.8"/>
<circle cx="376.5" cy="487.5" r="0.8"/>
<circle cx="371.9" cy="487.9" r="0.8"/>
<circle cx="370.4" cy="486.9" r="0.8"/>
<circle cx="373.0" cy="488.1" r="0.8"/>
<circle cx="375.6" cy="488.0" r="0.8"/>
<circle cx="381.1" cy="487.3" r="0.8"/>
<circle cx="378.3" cy="487.1" r="0.8"/>
<circle cx="376.5" cy="487.9" r="0.8"/>
<circle cx="381.1" cy="487.6" r="0.8"/>
<circle cx="371.8" cy="487.7" r="0.8"/>
<circle cx="368.1" cy="488.3" r="0.8"/>
<circle cx="375.7" cy="487.8" r="0.8"/>
<circle cx="380.2" cy="486.7" r="0.8"/>
<circle cx="379.5" cy="487.2" r="0.8"/>
<circle cx="372.6" cy="486.7" r="0.8"/>
<circle cx="370.1" cy="487.2" r="0.8"/>
<circle cx="377.0" cy="488.1" r="0.8"/>
<circle cx="374.9" cy="487.8" r="0.8"/>
<circle cx="376.7" cy="487.1" r="0.8"/>
<circle cx="368.1" cy="487.6" r="0.8"/>
<circle cx="379.0" cy="486.6" r="0.8"/>
<circle cx="372.4" cy="487.5" r="0.8"/>
<circle cx="377.7" cy="487.4" r="0.8"/>
<circle cx="371.0" cy="487.1" r="0.8"/>
<circle cx="373.4" cy="487.5" r="0.8"/>
<circle cx="363.9" cy="487.3" r="0.8"/>
<circle cx="371.3" cy="487.2" r="0.8"/>
<circle cx="370.3" cy="487.5" r="0.8"/>
<circle cx="371.5" cy="486.7" r="0.8"/>
<circle cx="378.1" cy="486.6" r="0.8"/>
<circle cx="380.5" cy="488.0" r="0.8"/>
<circle cx="371.9" cy="487.0" r="0.8"/>
<circle cx="372.5" cy="487.7" r="0.8"/>
<circle cx="380.4" cy="488.1" r="0.8"/>
<circle cx="376.0" cy="488.1" r="0.8"/>
<circle cx="373.3" cy="487.4" r="0.8"/>
<circle cx="366.4" cy="486.9" r="0.8"/>
<circle cx="371.6" cy="488.0" r="0.8"/>
<circle cx="380.9" cy="486.8" r="0.8"/>
<circle cx="373.1" cy="486.9" r="0.8"/>
<circle cx="374.4" cy="488.1" r="0.8"/>
<circle cx="380.2" cy="488.2" r="0.8"/>
<circle cx="368.1" cy="486.9" r="0.8"/>
<circle cx="381.6" cy="487.0" r="0.8"/>
<circle cx="369.7" cy="488.1" r="0.8"/>
<circle cx="375.0" cy="487.7" r="0.8"/>
<circle cx="372.1" cy="486.9" r="0.8"/>
<circle cx="379.1" cy="487.1" r="0.8"/>
<circle cx="381.0" cy="488.3" r="0.8"/>
<circle cx="375.6" cy="487.6" r="0.8"/>
<circle cx="379.2" cy="487.6" r="0.8"/>
<circle cx="377.5" cy="487.7" r="0.8"/>
<circle cx="369.0" cy="487.9" r="0.8"/>
<circle cx="381.1" cy="487.3" r="0.8"/>
<circle cx="378.3" cy="487.1" r="0.8"/>
<circle cx="380.2" cy="488.2" r="0.8"/>
<circle cx="380.2" cy="487.2" r="0.8"/>
<circle cx="378.7" cy="486.7" r="0.8"/>
<circle cx="368.7" cy="487.1" r="0.8"/>
<circle cx="360.6" cy="487.9" r="0.8"/>
<circle cx="371.1" cy="488.1" r="0.8"/>
<circle cx="380.0" cy="487.4" r="0.8"/>
<circle cx="380.3" cy="487.4" r="0.8"/>
<circle cx="376.9" cy="487.5" r="0.8"/>
<circle cx="369.7" cy="487.1" r="0.8"/>
<circle cx="377.5" cy="487.2" r="0.8"/>
<circle cx="365.4" cy="488.2" r="0.8"/>
<circle cx="369.2" cy="488.0" r="0.8"/>
<circle cx="375.5" cy="487.7" r="0.8"/>
<circle cx="374.3" cy="488.2" r="0.8"/>
<circle cx="380.8" cy="487.8" r="0.8"/>
<circle cx="367.8" cy="486.6" r="0.8"/>
<circle cx="373.4" cy="486.9" r="0.8"/>
<circle cx="360.6" cy="487.5" r="0.8"/>
<circle cx="364.9" cy="487.3" r="0.8"/>
<circle cx="366.9" cy="486.9" r="0.8"/>
<circle cx="379.0" cy="487.7" r="0.8"/>
<circle cx="378.5" cy="486.7" r="0.8"/>
<circle cx="379.1" cy="487.6" r="0.8"/>
<circle cx="375.3" cy="486.8" r="0.8"/>
<circle cx="380.0" cy="486.7" r="0.8"/>
<circle cx="372.0" cy="487.8" r="0.8"/>
<circle cx="375.7" cy="487.1" r="0.8"/>
<circle cx="368.4" cy="488.3" r="0.8"/>
<circle cx="369.3" cy="487.5" r="0.8"/>
<circle cx="379.7" cy="487.3" r="0.8"/>
<circle cx="381.4" cy="487.7" r="0.8"/>
<circle cx="375.8" cy="486.7" r="0.8"/>
<circle cx="376.5" cy="488.0" r="0.8"/>
<circle cx="363.0" cy="488.1" r="0.8"/>
<circle cx="378.8" cy="488.3" r="0.8"/>
<circle cx="371.2" cy="488.3" r="0.8"/>
<circle cx="373.8" cy="486.9" r="0.8"/>
<circle cx="380.4" cy="487.9" r="0.8"/>
<circle cx="369.1" cy="486.8" r="0.8"/>
<circle cx="375.1" cy="487.4" r="0.8"/>
<circle cx="371.8" cy="487.3" r="0.8"/>
<circle cx="375.3" cy="486.7" r="0.8"/>
<circle cx="374.2" cy="486.7" r="0.8"/>
<circle cx="378.6" cy="486.6" r="0.8"/>
<circle cx="368.8" cy="487.0" r="0.8"/>
<circle cx="368.3" cy="488.0" r="0.8"/>
<circle cx="381.4" cy="486.9" r="0.8"/>
<circle cx="378.5" cy="488.2" r="0.8"/>
<circle cx="373.0" cy="486.6" r="0.8"/>
<circle cx="367.4" cy="488.1" r="0.8"/>
<circle cx="380.3" cy="488.1" r="0.8"/>
<circle cx="378.1" cy="486.9" r="0.8"/>
<circle cx="372.0" cy="486.6" r="0.8"/>
<circle cx="369.8" cy="487.5" r="0.8"/>
<circle cx="364.0" cy="487.2" r="0.8"/>
<circle cx="372.4" cy="486.7" r="0.8"/>
<circle cx="378.0" cy="488.3" r="0.8"/>
<circle cx="372.2" cy="486.8" r="0.8"/>
<circle cx="381.6" cy="487.2" r="0.8"/>
<circle cx="376.6" cy="487.9" r="0.8"/>
<circle cx="376.6" cy="488.2" r="0.8"/>
<circle cx="379.7" cy="487.5" r="0.8"/>
<circle cx="378.5" cy="486.9" r="0.8"/>
<circle cx="367.2" cy="486.8" r="0.8"/>
<circle cx="381.6" cy="487.0" r="0.8"/>
<circle cx="374.6" cy="487.1" r="0.8"/>
<circle cx="380.5" cy="486.8" r="0.8"/>
<circle cx="380.7" cy="488.0" r="0.8"/>
<circle cx="366.0" cy="487.6" r="0.8"/>
<circle cx="365.2" cy="487.4" r="0.8"/>
<circle cx="378.4" cy="486.9" r="0.8"/>
<circle cx="380.1" cy="487.3" r="0.8"/>
<circle cx="381.4" cy="488.2" r="0.8"/>
<circle cx="375.6" cy="487.0" r="0.8"/>
<circle cx="381.3" cy="486.9" r="0.8"/>
<circle cx="378.6" cy="487.8" r="0.8"/>
<circle cx="375.8" cy="487.7" r="0.8"/>
<circle cx="371.1" cy="487.4" r="0.8"/>
<circle cx="370.4" cy="487.9" r="0.8"/>
<circle cx="378.7" cy="487.5" r="0.8"/>
<circle cx="375.5" cy="487.6" r="0.8"/>
<circle cx="380.0" cy="487.5" r="0.8"/>
<circle cx="373.5" cy="487.3" r="0.8"/>
<circle cx="379.1" cy="486.7" r="0.8"/>
<circle cx="375.7" cy="486.7" r="0.8"/>
<circle cx="373.4" cy="488.3" r="0.8"/>
<circle cx="378.6" cy="487.5" r="0.8"/>
<circle cx="373.3" cy="487.1" r="0.8"/>
<circle cx="381.6" cy="487.2" r="0.8"/>
<circle cx="378.3" cy="486.6" r="0.8"/>
<circle cx="360.5" cy="487.5" r="0.8"/>
<circle cx="375.6" cy="487.2" r="0.8"/>
<circle cx="373.2" cy="487.2" r="0.8"/>
<circle cx="368.1" cy="487.2" r="0.8"/>
<circle cx="380.1" cy="486.8" r="0.8"/>
<circle cx="374.8" cy="487.3" r="0.8"/>
<circle cx="368.4" cy="487.7" r="0.8"/>
<circle cx="381.6" cy="487.9" r="0.8"/>
<circle cx="376.2" cy="487.7" r="0.8"/>
<circle cx="378.4" cy="487.3" r="0.8"/>
<circle cx="377.6" cy="487.9" r="0.8"/>
<circle cx="381.7" cy="487.0" r="0.8"/>
<circle cx="374.7" cy="488.1" r="0.8"/>
<circle cx="373.5" cy="488.2" r="0.8"/>
<circle cx="371.7" cy="487.5" r="0.8"/>
<circle cx="380.4" cy="488.2" r="0.8"/>
<circle cx="375.7" cy="486.7" r="0.8"/>
<circle cx="372.1" cy="486.7" r="0.8"/>
<circle cx="372.6" cy="488.0" r="0.8"/>
<circle cx="375.1" cy="486.9" r="0.8"/>
<circle cx="376.5" cy="488.0" r="0.8"/>
<circle cx="375.6" cy="487.1" r="0.8"/>
<circle cx="374.9" cy="487.8" r="0.8"/>
<circle cx="374.2" cy="486.8" r="0.8"/>
<circle cx="368.7" cy="487.8" r="0.8"/>
<circle cx="372.4" cy="486.8" r="0.8"/>
<circle cx="381.0" cy="486.9" r="0.8"/>
<circle cx="362.6" cy="487.8" r="0.8"/>
<circle cx="378.0" cy="488.2" r="0.8"/>
<circle cx="368.9" cy="487.3" r="0.8"/>
<circle cx="376.7" cy="488.1" r="0.8"/>
<circle cx="368.7" cy="487.2" r="0.8"/>
<circle cx="380.4" cy="487.1" r="0.8"/>
<circle cx="369.5" cy="488.0" r="0.8"/>
<circle cx="374.9" cy="487.2" r="0.8"/>
<circle cx="368.5" cy="486.8" r="0.8"/>
<circle cx="372.5" cy="487.7" r="0.8"/>
<circle cx="380.0" cy="486.8" r="0.8"/>
<circle cx="373.3" cy="488.1" r="0.8"/>
<circle cx="381.7" cy="487.6" r="0.8"/>
<circle cx="380.7" cy="487.3" r="0.8"/>
<circle cx="380.1" cy="486.8" r="0.8"/>
<circle cx="373.1" cy="486.8" r="0.8"/>
<circle cx="376.0" cy="486.7" r="0.8"/>
<circle cx="366.6" cy="488.0" r="0.8"/>
<circle cx="377.9" cy="487.7" r="0.8"/>
<circle cx="372.7" cy="487.0" r="0.8"/>
<circle cx="367.4" cy="486.9" r="0.8"/>
<circle cx="377.9" cy="486.6" r="0.8"/>
<circle cx="376.2" cy="487.7" r="0.8"/>
<circle cx="373.5" cy="487.1" r="0.8"/>
<circle cx="376.2" cy="488.3" r="0.8"/>
<circle cx="374.5" cy="487.1" r="0.8"/>
<circle cx="362.4" cy="487.7" r="0.8"/>
<circle cx="379.5" cy="487.0" r="0.8"/>
<circle cx="375.7" cy="487.0" r="0.8"/>
<circle cx="368.6" cy="487.1" r="0.8"/>
<circle cx="373.0" cy="487.0" r="0.8"/>
<circle cx="368.7" cy="486.8" r="0.8"/>
<circle cx="372.6" cy="487.1" r="0.8"/>
<circle cx="376.3" cy="486.8" r="0.8"/>
<circle cx="378.6" cy="488.2" r="0.8"/>
<circle cx="371.6" cy="488.1" r="0.8"/>
<circle cx="370.7" cy="486.8" r="0.8"/>
<circle cx="380.4" cy="487.7" r="0.8"/>
<circle cx="375.3" cy="487.2" r="0.8"/>
<circle cx="372.9" cy="486.9" r="0.8"/>
<circle cx="372.9" cy="487.8" r="0.8"/>
<circle cx="366.6" cy="486.9" r="0.8"/>
<circle cx="362.5" cy="487.6" r="0.8"/>
<circle cx="381.4" cy="487.7" r="0.8"/>
<circle cx="370.6" cy="487.2" r="0.8"/>
<circle cx="375.1" cy="488.2" r="0.8"/>
<circle cx="377.6" cy="488.1" r="0.8"/>
<circle cx="377.4" cy="487.0" r="0.8"/>
<circle cx="370.8" cy="487.7" r="0.8"/>
<circle cx="373.3" cy="486.7" r="0.8"/>
<circle cx="374.6" cy="487.8" r="0.8"/>
<circle cx="379.3" cy="487.0" r="0.8"/>
<circle cx="376.7" cy="487.3" r="0.8"/>
<circle cx="371.2" cy="487.0" r="0.8"/>
<circle cx="378.3" cy="488.0" r="0.8"/>
<circle cx="378.4" cy="488.0" r="0.8"/>
<circle cx="380.2" cy="486.6" r="0.8"/>
<circle cx="360.2" cy="486.6" r="0.8"/>
<circle cx="371.5" cy="488.2" r="0.8"/>
<circle cx="367.1" cy="486.7" r="0.8"/>
<circle cx="373.6" cy="487.4" r="0.8"/>
<circle cx="373.5" cy="487.1" r="0.8"/>
<circle cx="376.3" cy="488.2" r="0.8"/>
<circle cx="378.1" cy="487.1" r="0.8"/>
<circle cx="376.4" cy="487.8" r="0.8"/>
<circle cx="371.6" cy="487.9" r="0.8"/>
<circle cx="380.0" cy="487.5" r="0.8"/>
<circle cx="371.7" cy="488.0" r="0.8"/>
<circle cx="381.3" cy="487.7" r="0.8"/>
<circle cx="369.9" cy="487.5" r="0.8"/>
<circle cx="371.8" cy="487.6" r="0.8"/>
<circle cx="378.8" cy="487.1" r="0.8"/>
<circle cx="369.2" cy="487.9" r="0.8"/>
<circle cx="371.4" cy="487.9" r="0.8"/>
<circle cx="371.3" cy="487.0" r="0.8"/>
<circle cx="377.8" cy="487.7" r="0.8"/>
<circle cx="380.4" cy="486.7" r="0.8"/>
<circle cx="374.9" cy="486.6" r="0.8"/>
<circle cx="369.9" cy="486.6" r="0.8"/>
<circle cx="377.6" cy="487.5" r="0.8"/>
<circle cx="363.0" cy="486.8" r="0.8"/>
<circle cx="376.7" cy="486.7" r="0.8"/>
<circle cx="359.7" cy="486.9" r="0.8"/>
<circle cx="367.9" cy="487.2" r="0.8"/>
<circle cx="378.2" cy="488.1" r="0.8"/>
<circle cx="381.1" cy="486.8" r="0.8"/>
<circle cx="377.8" cy="487.0" r="0.8"/>
<circle cx="370.7" cy="487.9" r="0.8"/>
<circle cx="370.9" cy="487.3" r="0.8"/>
<circle cx="362.5" cy="487.3" r="0.8"/>
<circle cx="380.4" cy="487.6" r="0.8"/>
<circle cx="378.4" cy="487.2" r="0.8"/>
<circle cx="365.7" cy="487.7" r="0.8"/>
<circle cx="375.6" cy="488.1" r="0.8"/>
<circle cx="371.1" cy="487.9" r="0.8"/>
<circle cx="374.9" cy="488.1" r="0.8"/>
<circle cx="372.7" cy="487.0" r="0.8"/>
<circle cx="377.4" cy="487.1" r="0.8"/>
<circle cx="379.0" cy="487.0" r="0.8"/>
<circle cx="366.7" cy="487.5" r="0.8"/>
<circle cx="378.6" cy="486.8" r="0.8"/>
<circle cx="370.4" cy="487.0" r="0.8"/>
<circle cx="375.2" cy="488.0" r="0.8"/>
<circle cx="380.7" cy="487.1" r="0.8"/>
<circle cx="367.1" cy="487.6" r="0.8"/>
<circle cx="380.9" cy="488.0" r="0.8"/>
<circle cx="372.6" cy="487.2" r="0.8"/>
<circle cx="376.0" cy="487.0" r="0.8"/>
<circle cx="369.9" cy="487.8" r="0.8"/>
<circle cx="368.5" cy="487.3" r="0.8"/>
<circle cx="371.3" cy="488.0" r="0.8"/>
<circle cx="380.0" cy="487.8" r="0.8"/>
<circle cx="373.8" cy="487.2" r="0.8"/>
<circle cx="377.1" cy="486.7" r="0.8"/>
<circle cx="377.3" cy="487.3" r="0.8"/>
<circle cx="373.3" cy="488.1" r="0.8"/>
<circle cx="376.4" cy="488.2" r="0.8"/>
<circle cx="379.9" cy="488.2" r="0.8"/>
<circle cx="380.6" cy="487.3" r="0.8"/>
<circle cx="379.5" cy="487.7" r="0.8"/>
<circle cx="380.3" cy="487.3" r="0.8"/>
<circle cx="377.1" cy="487.9" r="0.8"/>
<circle cx="373.9" cy="487.5" r="0.8"/>
<circle cx="372.1" cy="487.0" r="0.8"/>
<circle cx="373.6" cy="486.9" r="0.8"/>
<circle cx="377.5" cy="486.9" r="0.8"/>
<circle cx="381.4" cy="487.5" r="0.8"/>
<circle cx="365.4" cy="487.9" r="0.8"/>
<circle cx="372.3" cy="487.5" r="0.8"/>
<circle cx="377.2" cy="488.2" r="0.8"/>
<circle cx="367.6" cy="487.9" r="0.8"/>
<circle cx="373.4" cy="487.7" r="0.8"/>
<circle cx="371.8" cy="486.8" r="0.8"/>
<circle cx="362.6" cy="487.9" r="0.8"/>
<circle cx="378.4" cy="487.3" r="0.8"/>
<circle cx="381.2" cy="487.2" r="0.8"/>
<circle cx="381.2" cy="487.5" r="0.8"/>
<circle cx="378.0" cy="487.6" r="0.8"/>
<circle cx="374.4" cy="487.2" r="0.8"/>
<circle cx="366.8" cy="486.7" r="0.8"/>
<circle cx="378.7" cy="487.8" r="0.8"/>
<circle cx="376.4" cy="486.9" r="0.8"/>
<circle cx="380.9" cy="488.2" r="0.8"/>
<circle cx="380.1" cy="487.0" r="0.8"/>
<circle cx="375.4" cy="486.9" r="0.8"/>
<circle cx="381.4" cy="488.0" r="0.8"/>
<circle cx="371.0" cy="486.8" r="0.8"/>
<circle cx="381.3" cy="486.6" r="0.8"/>
<circle cx="379.0" cy="487.5" r="0.8"/>
<circle cx="381.5" cy="487.6" r="0.8"/>
<circle cx="376.6" cy="487.6" r="0.8"/>
<circle cx="374.2" cy="486.9" r="0.8"/>
<circle cx="379.7" cy="487.4" r="0.8"/>
<circle cx="374.9" cy="488.3" r="0.8"/>
<circle cx="380.2" cy="487.3" r="0.8"/>
<circle cx="381.7" cy="487.7" r="0.8"/>
<circle cx="371.5" cy="488.0" r="0.8"/>
<circle cx="377.1" cy="487.0" r="0.8"/>
<circle cx="372.4" cy="487.1" r="0.8"/>
<circle cx="374.1" cy="487.6" r="0.8"/>
<circle cx="378.8" cy="487.8" r="0.8"/>
<circle cx="381.2" cy="488.2" r="0.8"/>
<circle cx="370.9" cy="488.0" r="0.8"/>
<circle cx="381.6" cy="487.7" r="0.8"/>
<circle cx="358.8" cy="486.9" r="0.8"/>
<circle cx="380.3" cy="487.8" r="0.8"/>
<circle cx="366.5" cy="487.5" r="0.8"/>
<circle cx="380.9" cy="487.8" r="0.8"/>
<circle cx="376.4" cy="487.0" r="0.8"/>
<circle cx="364.8" cy="487.6" r="0.8"/>
<circle cx="377.3" cy="484.5" r="0.8"/>
<circle cx="381.2" cy="480.5" r="0.8"/>
<circle cx="379.6" cy="485.4" r="0.8"/>
<circle cx="370.9" cy="485.6" r="0.8"/>
<circle cx="381.4" cy="484.9" r="0.8"/>
</g><g fill="#c6232b">
<circle cx="418.3" cy="485.7" r="0.9"/>
<circle cx="415.2" cy="488.1" r="0.9"/>
<circle cx="421.0" cy="485.1" r="0.9"/>
<circle cx="445.6" cy="485.9" r="0.9"/>
<circle cx="415.5" cy="486.5" r="0.9"/>
<circle cx="424.6" cy="487.2" r="0.9"/>
<circle cx="414.6" cy="485.9" r="0.9"/>
<circle cx="415.6" cy="487.5" r="0.9"/>
<circle cx="414.0" cy="483.4" r="0.9"/>
<circle cx="435.2" cy="485.0" r="0.9"/>
<circle cx="434.2" cy="487.0" r="0.9"/>
<circle cx="419.6" cy="484.9" r="0.9"/>
<circle cx="428.5" cy="487.4" r="0.9"/>
<circle cx="421.2" cy="487.0" r="0.9"/>
<circle cx="436.3" cy="487.9" r="0.9"/>
<circle cx="423.4" cy="484.2" r="0.9"/>
<circle cx="413.0" cy="487.0" r="0.9"/>
<circle cx="411.1" cy="481.2" r="0.9"/>
<circle cx="438.9" cy="485.0" r="0.9"/>
<circle cx="422.7" cy="482.5" r="0.9"/>
<circle cx="415.9" cy="486.4" r="0.9"/>
<circle cx="413.4" cy="482.7" r="0.9"/>
<circle cx="426.4" cy="484.6" r="0.9"/>
<circle cx="414.7" cy="487.1" r="0.9"/>
<circle cx="418.2" cy="485.2" r="0.9"/>
<circle cx="427.3" cy="487.2" r="0.9"/>
<circle cx="437.3" cy="487.1" r="0.9"/>
<circle cx="416.0" cy="485.9" r="0.9"/>
<circle cx="414.1" cy="487.0" r="0.9"/>
<circle cx="420.7" cy="487.9" r="0.9"/>
<circle cx="412.8" cy="486.9" r="0.9"/>
<circle cx="419.3" cy="484.9" r="0.9"/>
<circle cx="420.3" cy="484.1" r="0.9"/>
<circle cx="447.7" cy="487.0" r="0.9"/>
<circle cx="441.8" cy="483.7" r="0.9"/>
<circle cx="418.5" cy="486.4" r="0.9"/>
<circle cx="413.4" cy="485.4" r="0.9"/>
<circle cx="411.8" cy="483.7" r="0.9"/>
<circle cx="428.1" cy="486.2" r="0.9"/>
<circle cx="426.4" cy="487.7" r="0.9"/>
<circle cx="421.1" cy="485.5" r="0.9"/>
<circle cx="417.4" cy="486.5" r="0.9"/>
<circle cx="430.7" cy="487.5" r="0.9"/>
<circle cx="413.4" cy="485.9" r="0.9"/>
<circle cx="414.1" cy="486.4" r="0.9"/>
<circle cx="419.8" cy="485.3" r="0.9"/>
<circle cx="425.2" cy="485.0" r="0.9"/>
<circle cx="414.9" cy="486.7" r="0.9"/>
<circle cx="423.1" cy="485.5" r="0.9"/>
<circle cx="414.2" cy="484.5" r="0.9"/>
<circle cx="418.9" cy="485.8" r="0.9"/>
<circle cx="424.7" cy="484.2" r="0.9"/>
<circle cx="426.7" cy="488.1" r="0.9"/>
<circle cx="422.4" cy="486.4" r="0.9"/>
<circle cx="419.2" cy="485.4" r="0.9"/>
<circle cx="429.6" cy="485.7" r="0.9"/>
<circle cx="412.2" cy="485.1" r="0.9"/>
<circle cx="412.1" cy="483.0" r="0.9"/>
<circle cx="415.1" cy="480.3" r="0.9"/>
<circle cx="421.6" cy="486.9" r="0.9"/>
<circle cx="447.3" cy="486.2" r="0.9"/>
<circle cx="421.0" cy="485.3" r="0.9"/>
<circle cx="411.6" cy="484.1" r="0.9"/>
<circle cx="421.3" cy="485.3" r="0.9"/>
<circle cx="440.6" cy="488.1" r="0.9"/>
<circle cx="433.2" cy="485.3" r="0.9"/>
<circle cx="412.7" cy="487.7" r="0.9"/>
<circle cx="416.3" cy="485.5" r="0.9"/>
<circle cx="420.3" cy="484.0" r="0.9"/>
<circle cx="432.3" cy="487.5" r="0.9"/>
<circle cx="422.2" cy="488.0" r="0.9"/>
<circle cx="431.2" cy="486.3" r="0.9"/>
<circle cx="417.5" cy="487.8" r="0.9"/>
<circle cx="425.0" cy="484.4" r="0.9"/>
<circle cx="429.8" cy="485.1" r="0.9"/>
<circle cx="421.2" cy="484.4" r="0.9"/>
<circle cx="424.6" cy="487.5" r="0.9"/>
<circle cx="424.5" cy="484.6" r="0.9"/>
<circle cx="420.5" cy="486.4" r="0.9"/>
<circle cx="428.3" cy="484.9" r="0.9"/>
<circle cx="411.9" cy="485.4" r="0.9"/>
<circle cx="417.6" cy="484.8" r="0.9"/>
<circle cx="436.1" cy="487.6" r="0.9"/>
<circle cx="413.6" cy="487.3" r="0.9"/>
<circle cx="421.7" cy="485.7" r="0.9"/>
<circle cx="419.9" cy="484.3" r="0.9"/>
<circle cx="415.0" cy="487.9" r="0.9"/>
<circle cx="437.0" cy="486.1" r="0.9"/>
<circle cx="416.5" cy="484.3" r="0.9"/>
<circle cx="411.1" cy="482.2" r="0.9"/>
<circle cx="429.2" cy="485.1" r="0.9"/>
<circle cx="414.9" cy="484.4" r="0.9"/>
<circle cx="427.3" cy="487.6" r="0.9"/>
<circle cx="434.4" cy="484.6" r="0.9"/>
<circle cx="412.6" cy="487.2" r="0.9"/>
<circle cx="425.0" cy="486.8" r="0.9"/>
<circle cx="437.7" cy="485.9" r="0.9"/>
<circle cx="417.4" cy="485.8" r="0.9"/>
<circle cx="419.6" cy="485.4" r="0.9"/>
<circle cx="412.6" cy="482.5" r="0.9"/>
<circle cx="440.2" cy="485.6" r="0.9"/>
<circle cx="413.3" cy="486.8" r="0.9"/>
<circle cx="422.1" cy="486.8" r="0.9"/>
<circle cx="431.0" cy="487.4" r="0.9"/>
<circle cx="422.8" cy="485.4" r="0.9"/>
<circle cx="410.9" cy="481.2" r="0.9"/>
<circle cx="427.4" cy="485.0" r="0.9"/>
<circle cx="432.2" cy="487.7" r="0.9"/>
<circle cx="421.0" cy="488.0" r="0.9"/>
<circle cx="431.6" cy="486.1" r="0.9"/>
<circle cx="427.4" cy="486.7" r="0.9"/>
<circle cx="433.7" cy="486.2" r="0.9"/>
<circle cx="415.0" cy="483.5" r="0.9"/>
<circle cx="418.7" cy="486.5" r="0.9"/>
<circle cx="434.7" cy="485.5" r="0.9"/>
<circle cx="424.1" cy="486.6" r="0.9"/>
<circle cx="423.3" cy="482.3" r="0.9"/>
<circle cx="434.7" cy="488.0" r="0.9"/>
<circle cx="417.7" cy="484.5" r="0.9"/>
<circle cx="413.3" cy="485.7" r="0.9"/>
<circle cx="425.8" cy="486.9" r="0.9"/>
<circle cx="412.0" cy="485.0" r="0.9"/>
<circle cx="411.2" cy="487.4" r="0.9"/>
<circle cx="421.5" cy="485.2" r="0.9"/>
<circle cx="414.0" cy="486.5" r="0.9"/>
<circle cx="427.2" cy="485.9" r="0.9"/>
<circle cx="418.1" cy="484.9" r="0.9"/>
<circle cx="413.7" cy="486.5" r="0.9"/>
<circle cx="422.4" cy="486.2" r="0.9"/>
<circle cx="416.1" cy="484.8" r="0.9"/>
<circle cx="417.9" cy="485.1" r="0.9"/>
<circle cx="423.3" cy="486.6" r="0.9"/>
<circle cx="412.8" cy="486.4" r="0.9"/>
<circle cx="429.7" cy="486.1" r="0.9"/>
<circle cx="422.7" cy="487.7" r="0.9"/>
<circle cx="435.9" cy="486.0" r="0.9"/>
<circle cx="411.6" cy="483.5" r="0.9"/>
<circle cx="415.6" cy="485.9" r="0.9"/>
<circle cx="448.6" cy="487.1" r="0.9"/>
<circle cx="421.0" cy="481.8" r="0.9"/>
<circle cx="420.1" cy="486.7" r="0.9"/>
<circle cx="431.4" cy="486.6" r="0.9"/>
<circle cx="411.7" cy="486.1" r="0.9"/>
<circle cx="418.3" cy="484.5" r="0.9"/>
<circle cx="429.8" cy="485.9" r="0.9"/>
<circle cx="411.5" cy="486.1" r="0.9"/>
<circle cx="415.9" cy="487.0" r="0.9"/>
<circle cx="432.2" cy="486.7" r="0.9"/>
<circle cx="440.1" cy="483.1" r="0.9"/>
<circle cx="427.8" cy="487.2" r="0.9"/>
<circle cx="418.7" cy="485.6" r="0.9"/>
<circle cx="415.8" cy="487.3" r="0.9"/>
<circle cx="427.4" cy="485.3" r="0.9"/>
<circle cx="433.2" cy="484.9" r="0.9"/>
<circle cx="431.3" cy="486.9" r="0.9"/>
<circle cx="432.9" cy="484.4" r="0.9"/>
<circle cx="418.1" cy="480.9" r="0.9"/>
<circle cx="418.5" cy="485.5" r="0.9"/>
<circle cx="417.3" cy="486.5" r="0.9"/>
<circle cx="421.6" cy="486.9" r="0.9"/>
<circle cx="422.4" cy="487.3" r="0.9"/>
<circle cx="442.3" cy="485.6" r="0.9"/>
<circle cx="424.4" cy="485.3" r="0.9"/>
<circle cx="436.0" cy="484.8" r="0.9"/>
<circle cx="433.3" cy="487.7" r="0.9"/>
<circle cx="433.8" cy="486.6" r="0.9"/>
<circle cx="419.5" cy="483.4" r="0.9"/>
<circle cx="423.9" cy="487.6" r="0.9"/>
<circle cx="417.6" cy="480.1" r="0.9"/>
<circle cx="424.9" cy="487.0" r="0.9"/>
<circle cx="420.3" cy="486.4" r="0.9"/>
<circle cx="435.4" cy="487.3" r="0.9"/>
<circle cx="426.1" cy="487.6" r="0.9"/>
<circle cx="431.1" cy="486.8" r="0.9"/>
<circle cx="416.7" cy="485.8" r="0.9"/>
<circle cx="418.2" cy="482.3" r="0.9"/>
<circle cx="413.3" cy="486.6" r="0.9"/>
<circle cx="422.3" cy="487.0" r="0.9"/>
<circle cx="423.2" cy="487.5" r="0.9"/>
<circle cx="416.8" cy="484.7" r="0.9"/>
<circle cx="411.3" cy="487.0" r="0.9"/>
<circle cx="417.9" cy="486.2" r="0.9"/>
<circle cx="421.2" cy="485.6" r="0.9"/>
<circle cx="428.1" cy="485.4" r="0.9"/>
<circle cx="413.4" cy="485.9" r="0.9"/>
<circle cx="433.4" cy="486.6" r="0.9"/>
<circle cx="425.7" cy="487.5" r="0.9"/>
<circle cx="414.7" cy="487.1" r="0.9"/>
<circle cx="416.4" cy="485.4" r="0.9"/>
<circle cx="445.5" cy="485.5" r="0.9"/>
<circle cx="413.4" cy="486.7" r="0.9"/>
<circle cx="421.5" cy="482.3" r="0.9"/>
<circle cx="414.0" cy="485.9" r="0.9"/>
<circle cx="419.7" cy="484.5" r="0.9"/>
<circle cx="430.7" cy="485.3" r="0.9"/>
<circle cx="417.7" cy="488.1" r="0.9"/>
<circle cx="417.8" cy="480.8" r="0.9"/>
<circle cx="424.3" cy="485.2" r="0.9"/>
<circle cx="424.9" cy="486.4" r="0.9"/>
<circle cx="410.9" cy="486.4" r="0.9"/>
<circle cx="424.7" cy="487.4" r="0.9"/>
<circle cx="428.9" cy="487.1" r="0.9"/>
<circle cx="432.9" cy="486.8" r="0.9"/>
<circle cx="426.9" cy="485.9" r="0.9"/>
<circle cx="421.3" cy="487.8" r="0.9"/>
<circle cx="427.2" cy="484.6" r="0.9"/>
<circle cx="426.7" cy="485.7" r="0.9"/>
<circle cx="418.7" cy="486.1" r="0.9"/>
<circle cx="435.6" cy="487.0" r="0.9"/>
<circle cx="424.3" cy="487.1" r="0.9"/>
<circle cx="415.0" cy="486.8" r="0.9"/>
<circle cx="411.8" cy="487.0" r="0.9"/>
<circle cx="423.7" cy="483.9" r="0.9"/>
<circle cx="423.0" cy="486.2" r="0.9"/>
<circle cx="441.4" cy="487.3" r="0.9"/>
<circle cx="427.6" cy="487.2" r="0.9"/>
<circle cx="441.5" cy="485.0" r="0.9"/>
<circle cx="417.2" cy="482.9" r="0.9"/>
<circle cx="419.1" cy="486.9" r="0.9"/>
<circle cx="425.3" cy="488.3" r="0.9"/>
<circle cx="413.3" cy="484.7" r="0.9"/>
<circle cx="422.8" cy="487.9" r="0.9"/>
<circle cx="443.9" cy="484.1" r="0.9"/>
<circle cx="419.8" cy="486.0" r="0.9"/>
<circle cx="424.0" cy="484.8" r="0.9"/>
<circle cx="438.5" cy="486.0" r="0.9"/>
<circle cx="416.3" cy="487.2" r="0.9"/>
<circle cx="416.3" cy="481.9" r="0.9"/>
<circle cx="417.7" cy="484.8" r="0.9"/>
<circle cx="417.0" cy="487.5" r="0.9"/>
<circle cx="422.4" cy="481.2" r="0.9"/>
<circle cx="420.3" cy="486.8" r="0.9"/>
<circle cx="421.7" cy="483.5" r="0.9"/>
<circle cx="418.4" cy="487.2" r="0.9"/>
<circle cx="411.3" cy="481.8" r="0.9"/>
<circle cx="414.3" cy="485.1" r="0.9"/>
<circle cx="420.4" cy="486.5" r="0.9"/>
<circle cx="416.0" cy="483.9" r="0.9"/>
<circle cx="414.3" cy="486.1" r="0.9"/>
<circle cx="415.2" cy="484.0" r="0.9"/>
<circle cx="426.8" cy="485.0" r="0.9"/>
<circle cx="423.8" cy="485.9" r="0.9"/>
<circle cx="422.6" cy="485.1" r="0.9"/>
<circle cx="427.8" cy="487.1" r="0.9"/>
<circle cx="413.1" cy="485.5" r="0.9"/>
<circle cx="428.8" cy="486.5" r="0.9"/>
<circle cx="411.7" cy="484.2" r="0.9"/>
<circle cx="424.7" cy="487.3" r="0.9"/>
<circle cx="425.1" cy="487.0" r="0.9"/>
<circle cx="411.9" cy="486.3" r="0.9"/>
<circle cx="418.3" cy="486.3" r="0.9"/>
<circle cx="413.2" cy="485.0" r="0.9"/>
<circle cx="414.3" cy="485.7" r="0.9"/>
<circle cx="424.2" cy="484.2" r="0.9"/>
<circle cx="416.5" cy="488.2" r="0.9"/>
<circle cx="432.4" cy="487.8" r="0.9"/>
<circle cx="414.6" cy="482.0" r="0.9"/>
<circle cx="424.1" cy="485.1" r="0.9"/>
<circle cx="429.5" cy="486.6" r="0.9"/>
<circle cx="419.3" cy="482.5" r="0.9"/>
<circle cx="434.9" cy="485.6" r="0.9"/>
<circle cx="439.3" cy="487.3" r="0.9"/>
<circle cx="425.1" cy="483.0" r="0.9"/>
<circle cx="425.9" cy="485.6" r="0.9"/>
<circle cx="416.8" cy="487.7" r="0.9"/>
<circle cx="411.2" cy="483.5" r="0.9"/>
<circle cx="417.7" cy="486.9" r="0.9"/>
<circle cx="439.0" cy="487.1" r="0.9"/>
<circle cx="424.3" cy="485.7" r="0.9"/>
<circle cx="411.9" cy="485.7" r="0.9"/>
<circle cx="424.1" cy="486.7" r="0.9"/>
<circle cx="434.9" cy="487.0" r="0.9"/>
<circle cx="416.3" cy="486.8" r="0.9"/>
<circle cx="413.6" cy="483.3" r="0.9"/>
<circle cx="440.7" cy="487.1" r="0.9"/>
<circle cx="438.2" cy="487.2" r="0.9"/>
<circle cx="424.9" cy="488.1" r="0.9"/>
<circle cx="439.7" cy="486.2" r="0.9"/>
<circle cx="444.0" cy="488.0" r="0.9"/>
<circle cx="423.1" cy="487.3" r="0.9"/>
<circle cx="411.0" cy="486.3" r="0.9"/>
<circle cx="430.0" cy="486.0" r="0.9"/>
<circle cx="427.3" cy="485.4" r="0.9"/>
<circle cx="412.2" cy="486.2" r="0.9"/>
<circle cx="427.4" cy="484.2" r="0.9"/>
<circle cx="420.0" cy="483.3" r="0.9"/>
<circle cx="431.4" cy="486.4" r="0.9"/>
<circle cx="415.6" cy="485.0" r="0.9"/>
<circle cx="411.5" cy="485.7" r="0.9"/>
<circle cx="418.8" cy="488.3" r="0.9"/>
<circle cx="430.7" cy="487.1" r="0.9"/>
<circle cx="424.1" cy="486.6" r="0.9"/>
<circle cx="421.9" cy="484.4" r="0.9"/>
<circle cx="432.9" cy="487.1" r="0.9"/>
<circle cx="427.5" cy="486.5" r="0.9"/>
<circle cx="412.5" cy="486.1" r="0.9"/>
<circle cx="421.2" cy="483.6" r="0.9"/>
<circle cx="434.2" cy="487.4" r="0.9"/>
<circle cx="422.1" cy="487.2" r="0.9"/>
<circle cx="431.2" cy="487.0" r="0.9"/>
<circle cx="421.4" cy="486.8" r="0.9"/>
<circle cx="418.2" cy="486.4" r="0.9"/>
<circle cx="417.2" cy="486.9" r="0.9"/>
<circle cx="424.2" cy="485.2" r="0.9"/>
<circle cx="415.7" cy="485.6" r="0.9"/>
<circle cx="414.5" cy="484.8" r="0.9"/>
<circle cx="441.3" cy="487.2" r="0.9"/>
<circle cx="430.7" cy="486.2" r="0.9"/>
<circle cx="418.7" cy="483.9" r="0.9"/>
<circle cx="440.4" cy="487.2" r="0.9"/>
<circle cx="432.2" cy="487.0" r="0.9"/>
<circle cx="445.2" cy="484.9" r="0.9"/>
<circle cx="427.2" cy="485.7" r="0.9"/>
<circle cx="416.8" cy="483.7" r="0.9"/>
<circle cx="411.3" cy="486.3" r="0.9"/>
<circle cx="431.3" cy="486.5" r="0.9"/>
<circle cx="416.0" cy="485.2" r="0.9"/>
<circle cx="424.6" cy="484.4" r="0.9"/>
<circle cx="427.6" cy="486.7" r="0.9"/>
<circle cx="438.9" cy="487.4" r="0.9"/>
<circle cx="430.5" cy="487.3" r="0.9"/>
<circle cx="419.4" cy="485.2" r="0.9"/>
<circle cx="420.8" cy="484.9" r="0.9"/>
<circle cx="415.0" cy="487.8" r="0.9"/>
<circle cx="413.6" cy="485.0" r="0.9"/>
<circle cx="434.7" cy="484.4" r="0.9"/>
<circle cx="411.3" cy="485.9" r="0.9"/>
<circle cx="421.9" cy="486.7" r="0.9"/>
<circle cx="418.8" cy="483.3" r="0.9"/>
<circle cx="419.4" cy="487.5" r="0.9"/>
<circle cx="418.9" cy="485.6" r="0.9"/>
<circle cx="429.6" cy="485.5" r="0.9"/>
<circle cx="433.6" cy="485.7" r="0.9"/>
<circle cx="421.1" cy="484.8" r="0.9"/>
<circle cx="428.6" cy="486.3" r="0.9"/>
<circle cx="416.5" cy="487.0" r="0.9"/>
<circle cx="421.3" cy="484.2" r="0.9"/>
<circle cx="427.4" cy="485.7" r="0.9"/>
<circle cx="425.2" cy="484.2" r="0.9"/>
<circle cx="436.0" cy="488.0" r="0.9"/>
<circle cx="429.1" cy="485.2" r="0.9"/>
<circle cx="425.3" cy="485.4" r="0.9"/>
<circle cx="419.9" cy="482.7" r="0.9"/>
<circle cx="415.8" cy="485.0" r="0.9"/>
<circle cx="415.4" cy="486.9" r="0.9"/>
<circle cx="415.8" cy="487.4" r="0.9"/>
<circle cx="417.9" cy="485.8" r="0.9"/>
<circle cx="422.4" cy="487.4" r="0.9"/>
<circle cx="438.7" cy="486.9" r="0.9"/>
<circle cx="425.9" cy="487.3" r="0.9"/>
<circle cx="416.3" cy="487.7" r="0.9"/>
<circle cx="423.2" cy="487.2" r="0.9"/>
<circle cx="417.5" cy="485.0" r="0.9"/>
<circle cx="414.1" cy="486.6" r="0.9"/>
<circle cx="421.6" cy="482.3" r="0.9"/>
<circle cx="413.3" cy="485.0" r="0.9"/>
<circle cx="445.9" cy="486.2" r="0.9"/>
<circle cx="419.3" cy="486.4" r="0.9"/>
<circle cx="439.1" cy="486.8" r="0.9"/>
<circle cx="411.1" cy="481.3" r="0.9"/>
<circle cx="427.5" cy="486.2" r="0.9"/>
<circle cx="430.8" cy="487.6" r="0.9"/>
<circle cx="415.8" cy="487.2" r="0.9"/>
<circle cx="411.0" cy="486.8" r="0.9"/>
<circle cx="446.8" cy="486.2" r="0.9"/>
<circle cx="413.3" cy="488.0" r="0.9"/>
<circle cx="417.1" cy="483.5" r="0.9"/>
<circle cx="426.9" cy="486.7" r="0.9"/>
<circle cx="430.3" cy="485.0" r="0.9"/>
<circle cx="413.7" cy="487.2" r="0.9"/>
<circle cx="433.0" cy="484.1" r="0.9"/>
<circle cx="436.0" cy="487.5" r="0.9"/>
<circle cx="417.3" cy="486.0" r="0.9"/>
<circle cx="429.0" cy="486.1" r="0.9"/>
<circle cx="423.8" cy="487.6" r="0.9"/>
<circle cx="424.6" cy="483.5" r="0.9"/>
<circle cx="418.2" cy="487.2" r="0.9"/>
<circle cx="429.7" cy="487.1" r="0.9"/>
<circle cx="414.6" cy="485.3" r="0.9"/>
<circle cx="413.4" cy="485.8" r="0.9"/>
<circle cx="422.1" cy="484.4" r="0.9"/>
<circle cx="416.4" cy="482.5" r="0.9"/>
<circle cx="435.3" cy="487.0" r="0.9"/>
<circle cx="435.8" cy="486.0" r="0.9"/>
<circle cx="426.3" cy="483.5" r="0.9"/>
<circle cx="423.8" cy="486.1" r="0.9"/>
<circle cx="420.7" cy="485.7" r="0.9"/>
<circle cx="415.4" cy="485.5" r="0.9"/>
<circle cx="420.6" cy="486.2" r="0.9"/>
<circle cx="416.1" cy="486.9" r="0.9"/>
<circle cx="417.7" cy="486.7" r="0.9"/>
<circle cx="419.5" cy="486.4" r="0.9"/>
<circle cx="413.4" cy="483.9" r="0.9"/>
<circle cx="437.5" cy="484.6" r="0.9"/>
<circle cx="439.4" cy="487.1" r="0.9"/>
<circle cx="413.7" cy="485.9" r="0.9"/>
<circle cx="438.4" cy="486.8" r="0.9"/>
<circle cx="418.2" cy="487.2" r="0.9"/>
<circle cx="413.9" cy="485.8" r="0.9"/>
<circle cx="427.0" cy="485.0" r="0.9"/>
<circle cx="422.9" cy="484.0" r="0.9"/>
<circle cx="441.5" cy="484.3" r="0.9"/>
<circle cx="417.7" cy="486.4" r="0.9"/>
<circle cx="430.8" cy="486.3" r="0.9"/>
<circle cx="415.0" cy="486.8" r="0.9"/>
<circle cx="411.9" cy="484.7" r="0.9"/>
<circle cx="411.7" cy="485.5" r="0.9"/>
<circle cx="421.3" cy="486.6" r="0.9"/>
<circle cx="413.6" cy="484.4" r="0.9"/>
<circle cx="436.9" cy="485.8" r="0.9"/>
<circle cx="418.6" cy="487.2" r="0.9"/>
<circle cx="414.8" cy="484.1" r="0.9"/>
<circle cx="412.1" cy="487.3" r="0.9"/>
<circle cx="418.0" cy="486.7" r="0.9"/>
<circle cx="419.9" cy="484.9" r="0.9"/>
<circle cx="412.0" cy="485.2" r="0.9"/>
<circle cx="416.3" cy="483.7" r="0.9"/>
<circle cx="413.9" cy="480.4" r="0.9"/>
<circle cx="417.1" cy="487.6" r="0.9"/>
<circle cx="416.8" cy="487.1" r="0.9"/>
<circle cx="425.9" cy="487.8" r="0.9"/>
<circle cx="440.0" cy="485.9" r="0.9"/>
<circle cx="418.9" cy="488.3" r="0.9"/>
<circle cx="416.3" cy="485.6" r="0.9"/>
<circle cx="420.5" cy="487.6" r="0.9"/>
<circle cx="423.2" cy="483.0" r="0.9"/>
<circle cx="413.9" cy="484.0" r="0.9"/>
<circle cx="435.4" cy="485.7" r="0.9"/>
<circle cx="412.7" cy="487.7" r="0.9"/>
<circle cx="436.1" cy="488.0" r="0.9"/>
<circle cx="428.9" cy="486.6" r="0.9"/>
<circle cx="414.6" cy="483.9" r="0.9"/>
<circle cx="423.2" cy="483.0" r="0.9"/>
<circle cx="415.9" cy="481.6" r="0.9"/>
<circle cx="421.4" cy="486.3" r="0.9"/>
<circle cx="426.9" cy="486.6" r="0.9"/>
<circle cx="424.6" cy="483.3" r="0.9"/>
<circle cx="418.4" cy="486.5" r="0.9"/>
<circle cx="412.5" cy="487.8" r="0.9"/>
<circle cx="415.9" cy="485.0" r="0.9"/>
<circle cx="411.9" cy="486.8" r="0.9"/>
<circle cx="428.5" cy="485.7" r="0.9"/>
<circle cx="420.0" cy="487.6" r="0.9"/>
<circle cx="429.3" cy="485.3" r="0.9"/>
<circle cx="442.7" cy="485.2" r="0.9"/>
<circle cx="422.6" cy="482.7" r="0.9"/>
<circle cx="427.3" cy="485.5" r="0.9"/>
<circle cx="417.2" cy="486.1" r="0.9"/>
<circle cx="411.9" cy="486.2" r="0.9"/>
<circle cx="420.9" cy="486.6" r="0.9"/>
<circle cx="415.0" cy="486.6" r="0.9"/>
<circle cx="433.4" cy="485.7" r="0.9"/>
<circle cx="418.4" cy="484.2" r="0.9"/>
<circle cx="411.5" cy="479.9" r="0.9"/>
<circle cx="448.2" cy="481.0" r="0.9"/>
<circle cx="436.8" cy="484.4" r="0.9"/>
<circle cx="423.3" cy="486.7" r="0.9"/>
<circle cx="433.5" cy="486.3" r="0.9"/>
<circle cx="416.0" cy="482.7" r="0.9"/>
<circle cx="422.1" cy="486.4" r="0.9"/>
<circle cx="413.9" cy="487.0" r="0.9"/>
<circle cx="441.7" cy="484.9" r="0.9"/>
<circle cx="424.6" cy="485.1" r="0.9"/>
<circle cx="411.4" cy="485.3" r="0.9"/>
<circle cx="413.0" cy="483.4" r="0.9"/>
<circle cx="421.7" cy="487.4" r="0.9"/>
<circle cx="423.2" cy="483.9" r="0.9"/>
<circle cx="417.3" cy="484.6" r="0.9"/>
<circle cx="420.7" cy="487.2" r="0.9"/>
<circle cx="413.9" cy="484.6" r="0.9"/>
<circle cx="419.6" cy="485.9" r="0.9"/>
<circle cx="429.6" cy="486.7" r="0.9"/>
<circle cx="424.4" cy="486.4" r="0.9"/>
<circle cx="431.0" cy="487.2" r="0.9"/>
<circle cx="414.6" cy="485.4" r="0.9"/>
<circle cx="431.0" cy="487.0" r="0.9"/>
<circle cx="444.6" cy="485.8" r="0.9"/>
<circle cx="415.6" cy="484.4" r="0.9"/>
<circle cx="412.4" cy="485.1" r="0.9"/>
<circle cx="439.4" cy="485.8" r="0.9"/>
<circle cx="415.2" cy="487.6" r="0.9"/>
<circle cx="410.9" cy="485.9" r="0.9"/>
<circle cx="414.5" cy="485.5" r="0.9"/>
<circle cx="432.2" cy="486.7" r="0.9"/>
<circle cx="426.6" cy="487.1" r="0.9"/>
<circle cx="419.1" cy="484.6" r="0.9"/>
<circle cx="421.2" cy="484.0" r="0.9"/>
<circle cx="414.9" cy="483.5" r="0.9"/>
<circle cx="437.5" cy="486.3" r="0.9"/>
<circle cx="411.8" cy="483.4" r="0.9"/>
<circle cx="430.1" cy="486.6" r="0.9"/>
<circle cx="428.1" cy="487.2" r="0.9"/>
<circle cx="417.2" cy="484.7" r="0.9"/>
<circle cx="421.2" cy="487.8" r="0.9"/>
<circle cx="420.6" cy="483.6" r="0.9"/>
<circle cx="411.0" cy="487.3" r="0.9"/>
<circle cx="423.7" cy="485.7" r="0.9"/>
<circle cx="418.2" cy="484.5" r="0.9"/>
<circle cx="419.3" cy="485.0" r="0.9"/>
<circle cx="425.4" cy="485.5" r="0.9"/>
<circle cx="421.9" cy="482.2" r="0.9"/>
<circle cx="437.0" cy="486.3" r="0.9"/>
<circle cx="427.0" cy="485.5" r="0.9"/>
<circle cx="410.9" cy="486.4" r="0.9"/>
<circle cx="431.7" cy="484.0" r="0.9"/>
<circle cx="416.7" cy="486.6" r="0.9"/>
<circle cx="412.6" cy="484.4" r="0.9"/>
<circle cx="424.6" cy="485.6" r="0.9"/>
<circle cx="416.5" cy="485.6" r="0.9"/>
<circle cx="436.9" cy="486.1" r="0.9"/>
<circle cx="431.2" cy="485.6" r="0.9"/>
<circle cx="411.9" cy="486.2" r="0.9"/>
<circle cx="424.9" cy="485.8" r="0.9"/>
<circle cx="417.7" cy="485.8" r="0.9"/>
<circle cx="423.4" cy="480.6" r="0.9"/>
<circle cx="418.5" cy="486.2" r="0.9"/>
<circle cx="426.6" cy="485.4" r="0.9"/>
<circle cx="416.6" cy="486.4" r="0.9"/>
<circle cx="428.6" cy="487.4" r="0.9"/>
<circle cx="415.5" cy="485.9" r="0.9"/>
<circle cx="429.8" cy="486.1" r="0.9"/>
<circle cx="418.5" cy="482.5" r="0.9"/>
<circle cx="414.3" cy="487.7" r="0.9"/>
<circle cx="418.4" cy="486.7" r="0.9"/>
<circle cx="429.3" cy="485.6" r="0.9"/>
<circle cx="418.4" cy="487.2" r="0.9"/>
<circle cx="420.5" cy="485.4" r="0.9"/>
<circle cx="413.9" cy="484.0" r="0.9"/>
<circle cx="419.8" cy="485.2" r="0.9"/>
<circle cx="411.9" cy="485.7" r="0.9"/>
<circle cx="433.9" cy="487.9" r="0.9"/>
<circle cx="445.1" cy="486.5" r="0.9"/>
<circle cx="437.1" cy="487.3" r="0.9"/>
<circle cx="442.3" cy="485.0" r="0.9"/>
<circle cx="429.2" cy="486.9" r="0.9"/>
<circle cx="433.1" cy="487.9" r="0.9"/>
<circle cx="419.2" cy="485.4" r="0.9"/>
<circle cx="415.5" cy="486.5" r="0.9"/>
<circle cx="423.7" cy="485.6" r="0.9"/>
<circle cx="430.0" cy="487.8" r="0.9"/>
<circle cx="413.6" cy="487.4" r="0.9"/>
<circle cx="417.2" cy="486.7" r="0.9"/>
<circle cx="426.4" cy="484.0" r="0.9"/>
<circle cx="417.0" cy="486.8" r="0.9"/>
<circle cx="420.9" cy="485.8" r="0.9"/>
<circle cx="428.0" cy="484.4" r="0.9"/>
<circle cx="422.5" cy="485.6" r="0.9"/>
<circle cx="425.1" cy="483.9" r="0.9"/>
<circle cx="445.0" cy="487.9" r="0.9"/>
<circle cx="433.0" cy="486.6" r="0.9"/>
<circle cx="412.0" cy="488.0" r="0.9"/>
<circle cx="413.6" cy="485.0" r="0.9"/>
<circle cx="426.1" cy="484.9" r="0.9"/>
<circle cx="440.5" cy="487.0" r="0.9"/>
<circle cx="427.0" cy="485.7" r="0.9"/>
<circle cx="422.4" cy="483.8" r="0.9"/>
<circle cx="425.6" cy="486.4" r="0.9"/>
<circle cx="421.0" cy="483.0" r="0.9"/>
<circle cx="412.1" cy="484.3" r="0.9"/>
<circle cx="412.8" cy="486.1" r="0.9"/>
<circle cx="426.4" cy="484.7" r="0.9"/>
<circle cx="436.1" cy="482.7" r="0.9"/>
<circle cx="416.1" cy="487.3" r="0.9"/>
<circle cx="416.9" cy="485.0" r="0.9"/>
<circle cx="420.5" cy="486.5" r="0.9"/>
<circle cx="438.5" cy="484.5" r="0.9"/>
<circle cx="420.6" cy="485.1" r="0.9"/>
<circle cx="418.6" cy="485.1" r="0.9"/>
<circle cx="420.4" cy="485.1" r="0.9"/>
<circle cx="416.4" cy="485.6" r="0.9"/>
<circle cx="417.3" cy="484.7" r="0.9"/>
<circle cx="422.4" cy="487.2" r="0.9"/>
<circle cx="417.8" cy="485.8" r="0.9"/>
<circle cx="426.2" cy="486.7" r="0.9"/>
<circle cx="411.5" cy="487.3" r="0.9"/>
<circle cx="416.7" cy="483.5" r="0.9"/>
<circle cx="430.6" cy="482.0" r="0.9"/>
<circle cx="420.6" cy="486.1" r="0.9"/>
<circle cx="413.2" cy="485.4" r="0.9"/>
<circle cx="424.4" cy="480.7" r="0.9"/>
<circle cx="416.0" cy="484.1" r="0.9"/>
<circle cx="417.7" cy="486.7" r="0.9"/>
<circle cx="419.1" cy="486.3" r="0.9"/>
<circle cx="418.8" cy="484.8" r="0.9"/>
<circle cx="440.4" cy="484.7" r="0.9"/>
<circle cx="416.9" cy="485.9" r="0.9"/>
<circle cx="418.8" cy="485.9" r="0.9"/>
<circle cx="444.3" cy="486.4" r="0.9"/>
<circle cx="418.0" cy="484.8" r="0.9"/>
<circle cx="437.0" cy="487.6" r="0.9"/>
<circle cx="419.5" cy="487.4" r="0.9"/>
<circle cx="425.5" cy="485.8" r="0.9"/>
<circle cx="412.5" cy="483.9" r="0.9"/>
<circle cx="411.9" cy="487.9" r="0.9"/>
<circle cx="412.5" cy="487.8" r="0.9"/>
<circle cx="421.1" cy="485.4" r="0.9"/>
<circle cx="438.1" cy="483.6" r="0.9"/>
<circle cx="444.6" cy="486.3" r="0.9"/>
<circle cx="425.7" cy="484.3" r="0.9"/>
<circle cx="411.7" cy="487.8" r="0.9"/>
<circle cx="416.5" cy="485.4" r="0.9"/>
<circle cx="436.8" cy="483.8" r="0.9"/>
<circle cx="417.2" cy="487.6" r="0.9"/>
<circle cx="421.6" cy="484.4" r="0.9"/>
<circle cx="426.4" cy="483.5" r="0.9"/>
<circle cx="416.2" cy="484.0" r="0.9"/>
<circle cx="422.4" cy="483.5" r="0.9"/>
<circle cx="416.4" cy="485.0" r="0.9"/>
<circle cx="433.3" cy="486.2" r="0.9"/>
<circle cx="416.5" cy="487.3" r="0.9"/>
<circle cx="413.7" cy="481.3" r="0.9"/>
<circle cx="428.8" cy="487.4" r="0.9"/>
<circle cx="412.3" cy="485.3" r="0.9"/>
<circle cx="425.6" cy="486.2" r="0.9"/>
<circle cx="425.0" cy="484.5" r="0.9"/>
<circle cx="421.3" cy="487.7" r="0.9"/>
<circle cx="411.2" cy="488.5" r="0.9"/>
<circle cx="434.5" cy="485.9" r="0.9"/>
<circle cx="419.2" cy="486.0" r="0.9"/>
<circle cx="415.7" cy="487.5" r="0.9"/>
<circle cx="418.9" cy="486.0" r="0.9"/>
<circle cx="412.6" cy="486.4" r="0.9"/>
<circle cx="416.8" cy="486.7" r="0.9"/>
<circle cx="413.1" cy="487.5" r="0.9"/>
<circle cx="419.4" cy="482.5" r="0.9"/>
<circle cx="423.8" cy="486.6" r="0.9"/>
<circle cx="433.9" cy="487.8" r="0.9"/>
<circle cx="415.4" cy="484.1" r="0.9"/>
<circle cx="420.6" cy="484.6" r="0.9"/>
<circle cx="414.9" cy="486.4" r="0.9"/>
<circle cx="415.0" cy="484.1" r="0.9"/>
<circle cx="420.5" cy="487.2" r="0.9"/>
<circle cx="417.4" cy="486.8" r="0.9"/>
<circle cx="428.6" cy="487.0" r="0.9"/>
<circle cx="412.6" cy="485.9" r="0.9"/>
<circle cx="440.0" cy="485.0" r="0.9"/>
<circle cx="433.8" cy="486.6" r="0.9"/>
<circle cx="413.9" cy="486.6" r="0.9"/>
<circle cx="412.0" cy="484.6" r="0.9"/>
<circle cx="416.8" cy="486.6" r="0.9"/>
<circle cx="417.4" cy="482.0" r="0.9"/>
<circle cx="423.9" cy="487.6" r="0.9"/>
<circle cx="426.7" cy="486.3" r="0.9"/>
<circle cx="419.3" cy="487.6" r="0.9"/>
<circle cx="411.9" cy="484.3" r="0.9"/>
<circle cx="416.2" cy="486.0" r="0.9"/>
<circle cx="420.0" cy="481.2" r="0.9"/>
<circle cx="415.6" cy="487.6" r="0.9"/>
<circle cx="420.8" cy="484.8" r="0.9"/>
<circle cx="414.2" cy="486.9" r="0.9"/>
<circle cx="412.4" cy="484.5" r="0.9"/>
<circle cx="430.1" cy="488.5" r="0.9"/>
<circle cx="444.1" cy="484.0" r="0.9"/>
<circle cx="432.7" cy="487.3" r="0.9"/>
<circle cx="423.6" cy="482.1" r="0.9"/>
<circle cx="417.9" cy="485.3" r="0.9"/>
<circle cx="422.9" cy="485.9" r="0.9"/>
<circle cx="417.8" cy="486.5" r="0.9"/>
<circle cx="432.2" cy="485.9" r="0.9"/>
<circle cx="414.0" cy="483.9" r="0.9"/>
<circle cx="414.6" cy="486.3" r="0.9"/>
<circle cx="423.0" cy="485.5" r="0.9"/>
<circle cx="433.1" cy="485.0" r="0.9"/>
<circle cx="426.4" cy="486.2" r="0.9"/>
<circle cx="427.4" cy="487.2" r="0.9"/>
<circle cx="418.9" cy="484.2" r="0.9"/>
<circle cx="431.1" cy="487.2" r="0.9"/>
<circle cx="412.8" cy="485.2" r="0.9"/>
<circle cx="420.1" cy="486.4" r="0.9"/>
<circle cx="421.9" cy="482.4" r="0.9"/>
<circle cx="418.4" cy="486.1" r="0.9"/>
<circle cx="411.4" cy="488.4" r="0.9"/>
<circle cx="412.9" cy="482.8" r="0.9"/>
<circle cx="421.3" cy="487.5" r="0.9"/>
<circle cx="432.2" cy="484.7" r="0.9"/>
<circle cx="411.1" cy="487.3" r="0.9"/>
<circle cx="443.0" cy="486.4" r="0.9"/>
<circle cx="440.1" cy="488.2" r="0.9"/>
<circle cx="436.5" cy="487.0" r="0.9"/>
<circle cx="431.0" cy="485.6" r="0.9"/>
<circle cx="428.6" cy="487.2" r="0.9"/>
<circle cx="422.0" cy="485.7" r="0.9"/>
<circle cx="415.4" cy="480.4" r="0.9"/>
<circle cx="411.9" cy="485.7" r="0.9"/>
<circle cx="419.2" cy="486.8" r="0.9"/>
<circle cx="432.5" cy="485.2" r="0.9"/>
<circle cx="440.6" cy="484.9" r="0.9"/>
<circle cx="417.3" cy="486.0" r="0.9"/>
<circle cx="418.1" cy="484.5" r="0.9"/>
<circle cx="425.1" cy="485.1" r="0.9"/>
<circle cx="413.9" cy="487.8" r="0.9"/>
<circle cx="419.4" cy="487.0" r="0.9"/>
<circle cx="414.2" cy="485.4" r="0.9"/>
<circle cx="414.5" cy="485.0" r="0.9"/>
<circle cx="429.6" cy="483.3" r="0.9"/>
<circle cx="437.3" cy="487.0" r="0.9"/>
<circle cx="424.8" cy="486.9" r="0.9"/>
<circle cx="418.8" cy="483.7" r="0.9"/>
<circle cx="430.3" cy="484.0" r="0.9"/>
<circle cx="428.5" cy="484.8" r="0.9"/>
<circle cx="437.5" cy="485.4" r="0.9"/>
<circle cx="420.3" cy="484.7" r="0.9"/>
<circle cx="434.0" cy="484.2" r="0.9"/>
<circle cx="429.2" cy="487.7" r="0.9"/>
<circle cx="423.7" cy="486.5" r="0.9"/>
<circle cx="417.6" cy="486.8" r="0.9"/>
<circle cx="417.5" cy="483.0" r="0.9"/>
<circle cx="416.5" cy="485.3" r="0.9"/>
<circle cx="421.6" cy="487.4" r="0.9"/>
<circle cx="413.8" cy="484.0" r="0.9"/>
<circle cx="419.0" cy="487.4" r="0.9"/>
<circle cx="437.7" cy="487.0" r="0.9"/>
<circle cx="437.9" cy="485.1" r="0.9"/>
<circle cx="421.2" cy="487.7" r="0.9"/>
<circle cx="425.8" cy="483.7" r="0.9"/>
<circle cx="428.3" cy="486.7" r="0.9"/>
<circle cx="418.2" cy="484.6" r="0.9"/>
<circle cx="423.2" cy="487.7" r="0.9"/>
<circle cx="432.2" cy="487.0" r="0.9"/>
<circle cx="411.7" cy="483.1" r="0.9"/>
<circle cx="413.9" cy="485.3" r="0.9"/>
<circle cx="414.5" cy="485.8" r="0.9"/>
<circle cx="412.0" cy="486.4" r="0.9"/>
<circle cx="427.5" cy="487.2" r="0.9"/>
<circle cx="438.8" cy="486.0" r="0.9"/>
<circle cx="421.2" cy="485.3" r="0.9"/>
<circle cx="426.1" cy="484.7" r="0.9"/>
<circle cx="424.2" cy="487.6" r="0.9"/>
<circle cx="437.7" cy="485.1" r="0.9"/>
<circle cx="444.2" cy="485.9" r="0.9"/>
<circle cx="425.5" cy="483.7" r="0.9"/>
<circle cx="428.7" cy="485.8" r="0.9"/>
<circle cx="421.5" cy="487.9" r="0.9"/>
<circle cx="432.9" cy="486.7" r="0.9"/>
<circle cx="443.4" cy="487.9" r="0.9"/>
<circle cx="423.2" cy="487.6" r="0.9"/>
<circle cx="441.7" cy="485.2" r="0.9"/>
<circle cx="416.2" cy="486.9" r="0.9"/>
<circle cx="417.7" cy="484.9" r="0.9"/>
<circle cx="415.1" cy="484.3" r="0.9"/>
<circle cx="443.1" cy="485.6" r="0.9"/>
<circle cx="434.8" cy="486.7" r="0.9"/>
<circle cx="420.7" cy="484.4" r="0.9"/>
<circle cx="411.9" cy="486.4" r="0.9"/>
<circle cx="423.4" cy="484.8" r="0.9"/>
<circle cx="419.1" cy="487.8" r="0.9"/>
<circle cx="421.2" cy="487.0" r="0.9"/>
<circle cx="414.5" cy="484.4" r="0.9"/>
<circle cx="428.3" cy="487.1" r="0.9"/>
<circle cx="420.5" cy="487.0" r="0.9"/>
<circle cx="414.2" cy="486.6" r="0.9"/>
<circle cx="427.3" cy="486.3" r="0.9"/>
<circle cx="430.5" cy="487.4" r="0.9"/>
<circle cx="416.3" cy="487.1" r="0.9"/>
<circle cx="417.0" cy="485.2" r="0.9"/>
<circle cx="416.7" cy="487.0" r="0.9"/>
<circle cx="427.0" cy="487.1" r="0.9"/>
<circle cx="421.8" cy="486.9" r="0.9"/>
<circle cx="421.6" cy="487.1" r="0.9"/>
<circle cx="421.8" cy="485.7" r="0.9"/>
<circle cx="426.2" cy="485.2" r="0.9"/>
<circle cx="437.5" cy="485.8" r="0.9"/>
<circle cx="425.4" cy="487.4" r="0.9"/>
<circle cx="448.4" cy="484.7" r="0.9"/>
<circle cx="411.5" cy="486.9" r="0.9"/>
<circle cx="426.9" cy="486.1" r="0.9"/>
<circle cx="414.4" cy="483.0" r="0.9"/>
<circle cx="419.8" cy="485.4" r="0.9"/>
<circle cx="439.7" cy="485.3" r="0.9"/>
<circle cx="426.1" cy="483.0" r="0.9"/>
<circle cx="420.6" cy="487.7" r="0.9"/>
<circle cx="440.8" cy="486.7" r="0.9"/>
<circle cx="419.0" cy="487.9" r="0.9"/>
<circle cx="417.3" cy="485.2" r="0.9"/>
<circle cx="416.8" cy="487.2" r="0.9"/>
<circle cx="411.3" cy="486.7" r="0.9"/>
<circle cx="441.4" cy="486.4" r="0.9"/>
<circle cx="433.0" cy="483.9" r="0.9"/>
<circle cx="411.3" cy="484.8" r="0.9"/>
<circle cx="415.9" cy="484.4" r="0.9"/>
<circle cx="448.7" cy="486.8" r="0.9"/>
<circle cx="411.7" cy="484.3" r="0.9"/>
<circle cx="425.6" cy="486.2" r="0.9"/>
<circle cx="419.8" cy="487.0" r="0.9"/>
<circle cx="414.4" cy="488.0" r="0.9"/>
<circle cx="427.1" cy="486.9" r="0.9"/>
<circle cx="422.4" cy="485.9" r="0.9"/>
<circle cx="417.1" cy="482.1" r="0.9"/>
<circle cx="428.3" cy="487.5" r="0.9"/>
<circle cx="441.5" cy="487.2" r="0.9"/>
<circle cx="419.7" cy="487.6" r="0.9"/>
<circle cx="416.0" cy="483.6" r="0.9"/>
<circle cx="421.8" cy="486.1" r="0.9"/>
<circle cx="416.9" cy="485.5" r="0.9"/>
<circle cx="411.5" cy="485.5" r="0.9"/>
<circle cx="429.1" cy="487.6" r="0.9"/>
<circle cx="413.5" cy="487.1" r="0.9"/>
<circle cx="411.0" cy="486.4" r="0.9"/>
<circle cx="411.5" cy="486.3" r="0.9"/>
<circle cx="431.3" cy="483.1" r="0.9"/>
<circle cx="413.1" cy="486.4" r="0.9"/>
<circle cx="415.9" cy="485.7" r="0.9"/>
<circle cx="414.1" cy="487.2" r="0.9"/>
<circle cx="424.1" cy="487.0" r="0.9"/>
<circle cx="414.0" cy="486.0" r="0.9"/>
<circle cx="423.6" cy="483.5" r="0.9"/>
<circle cx="426.5" cy="481.8" r="0.9"/>
<circle cx="418.5" cy="485.4" r="0.9"/>
<circle cx="424.5" cy="485.9" r="0.9"/>
<circle cx="415.3" cy="485.7" r="0.9"/>
<circle cx="417.5" cy="483.3" r="0.9"/>
<circle cx="420.4" cy="485.1" r="0.9"/>
<circle cx="426.1" cy="485.4" r="0.9"/>
<circle cx="432.8" cy="485.9" r="0.9"/>
<circle cx="416.3" cy="487.7" r="0.9"/>
<circle cx="416.3" cy="483.4" r="0.9"/>
<circle cx="423.3" cy="486.2" r="0.9"/>
<circle cx="425.2" cy="483.1" r="0.9"/>
<circle cx="439.9" cy="486.2" r="0.9"/>
<circle cx="432.4" cy="483.7" r="0.9"/>
<circle cx="412.2" cy="487.7" r="0.9"/>
<circle cx="413.0" cy="484.1" r="0.9"/>
<circle cx="432.4" cy="487.0" r="0.9"/>
<circle cx="428.9" cy="487.1" r="0.9"/>
<circle cx="413.4" cy="486.3" r="0.9"/>
<circle cx="418.6" cy="486.5" r="0.9"/>
<circle cx="415.5" cy="487.3" r="0.9"/>
<circle cx="428.5" cy="486.2" r="0.9"/>
<circle cx="423.0" cy="487.2" r="0.9"/>
<circle cx="415.3" cy="487.3" r="0.9"/>
<circle cx="438.7" cy="486.1" r="0.9"/>
<circle cx="434.0" cy="486.3" r="0.9"/>
<circle cx="412.5" cy="483.4" r="0.9"/>
<circle cx="418.8" cy="485.6" r="0.9"/>
<circle cx="421.6" cy="486.4" r="0.9"/>
<circle cx="431.6" cy="486.1" r="0.9"/>
<circle cx="413.7" cy="485.7" r="0.9"/>
<circle cx="423.9" cy="484.8" r="0.9"/>
<circle cx="426.9" cy="486.1" r="0.9"/>
<circle cx="427.9" cy="484.7" r="0.9"/>
<circle cx="416.0" cy="486.2" r="0.9"/>
<circle cx="418.6" cy="483.1" r="0.9"/>
<circle cx="435.9" cy="484.2" r="0.9"/>
<circle cx="412.2" cy="487.3" r="0.9"/>
<circle cx="414.7" cy="486.2" r="0.9"/>
<circle cx="411.2" cy="485.2" r="0.9"/>
<circle cx="411.4" cy="484.8" r="0.9"/>
<circle cx="436.9" cy="484.2" r="0.9"/>
<circle cx="427.2" cy="487.5" r="0.9"/>
<circle cx="420.5" cy="481.4" r="0.9"/>
<circle cx="436.3" cy="486.0" r="0.9"/>
<circle cx="419.0" cy="488.1" r="0.9"/>
<circle cx="417.9" cy="486.4" r="0.9"/>
<circle cx="432.8" cy="485.6" r="0.9"/>
<circle cx="423.8" cy="482.8" r="0.9"/>
<circle cx="425.9" cy="488.0" r="0.9"/>
<circle cx="412.8" cy="484.7" r="0.9"/>
<circle cx="435.5" cy="485.1" r="0.9"/>
<circle cx="421.4" cy="484.3" r="0.9"/>
<circle cx="427.4" cy="484.1" r="0.9"/>
<circle cx="432.7" cy="482.4" r="0.9"/>
<circle cx="419.2" cy="486.1" r="0.9"/>
<circle cx="412.9" cy="485.9" r="0.9"/>
<circle cx="422.4" cy="486.6" r="0.9"/>
<circle cx="413.9" cy="487.3" r="0.9"/>
<circle cx="413.6" cy="485.5" r="0.9"/>
<circle cx="419.0" cy="486.8" r="0.9"/>
<circle cx="411.2" cy="484.7" r="0.9"/>
<circle cx="433.5" cy="486.0" r="0.9"/>
<circle cx="415.3" cy="486.6" r="0.9"/>
<circle cx="432.7" cy="488.4" r="0.9"/>
<circle cx="426.5" cy="484.7" r="0.9"/>
<circle cx="431.9" cy="484.5" r="0.9"/>
<circle cx="417.9" cy="485.0" r="0.9"/>
<circle cx="415.3" cy="487.1" r="0.9"/>
<circle cx="413.3" cy="484.6" r="0.9"/>
<circle cx="433.0" cy="486.7" r="0.9"/>
<circle cx="416.5" cy="482.5" r="0.9"/>
<circle cx="413.2" cy="483.5" r="0.9"/>
<circle cx="412.7" cy="485.4" r="0.9"/>
<circle cx="438.2" cy="487.1" r="0.9"/>
<circle cx="414.5" cy="483.7" r="0.9"/>
<circle cx="422.6" cy="486.2" r="0.9"/>
<circle cx="433.6" cy="486.0" r="0.9"/>
<circle cx="413.9" cy="486.1" r="0.9"/>
<circle cx="413.4" cy="485.1" r="0.9"/>
<circle cx="423.8" cy="482.7" r="0.9"/>
<circle cx="440.7" cy="485.7" r="0.9"/>
<circle cx="422.7" cy="480.2" r="0.9"/>
<circle cx="431.9" cy="487.3" r="0.9"/>
<circle cx="425.9" cy="484.9" r="0.9"/>
<circle cx="427.2" cy="485.1" r="0.9"/>
<circle cx="417.7" cy="484.9" r="0.9"/>
<circle cx="421.0" cy="483.8" r="0.9"/>
<circle cx="422.3" cy="486.4" r="0.9"/>
<circle cx="412.0" cy="486.3" r="0.9"/>
<circle cx="413.1" cy="486.6" r="0.9"/>
<circle cx="416.4" cy="487.1" r="0.9"/>
<circle cx="430.8" cy="487.6" r="0.9"/>
<circle cx="427.3" cy="485.7" r="0.9"/>
<circle cx="417.7" cy="485.2" r="0.9"/>
<circle cx="422.1" cy="486.6" r="0.9"/>
<circle cx="429.5" cy="484.9" r="0.9"/>
<circle cx="431.8" cy="486.8" r="0.9"/>
<circle cx="421.2" cy="486.7" r="0.9"/>
<circle cx="436.1" cy="486.8" r="0.9"/>
<circle cx="413.6" cy="486.0" r="0.9"/>
<circle cx="411.7" cy="487.3" r="0.9"/>
<circle cx="421.7" cy="486.2" r="0.9"/>
<circle cx="422.0" cy="484.7" r="0.9"/>
<circle cx="432.9" cy="484.0" r="0.9"/>
<circle cx="413.9" cy="484.7" r="0.9"/>
<circle cx="414.5" cy="487.5" r="0.9"/>
<circle cx="419.1" cy="486.5" r="0.9"/>
<circle cx="420.3" cy="483.6" r="0.9"/>
<circle cx="429.5" cy="486.7" r="0.9"/>
<circle cx="430.3" cy="487.8" r="0.9"/>
<circle cx="414.8" cy="485.8" r="0.9"/>
<circle cx="417.6" cy="486.4" r="0.9"/>
<circle cx="418.5" cy="485.5" r="0.9"/>
<circle cx="417.8" cy="484.3" r="0.9"/>
<circle cx="420.2" cy="485.3" r="0.9"/>
<circle cx="421.4" cy="485.0" r="0.9"/>
<circle cx="424.9" cy="484.9" r="0.9"/>
<circle cx="416.1" cy="486.1" r="0.9"/>
<circle cx="419.2" cy="487.4" r="0.9"/>
<circle cx="428.1" cy="486.9" r="0.9"/>
<circle cx="420.5" cy="486.3" r="0.9"/>
<circle cx="449.2" cy="486.3" r="0.9"/>
<circle cx="422.7" cy="487.9" r="0.9"/>
<circle cx="412.2" cy="487.1" r="0.9"/>
<circle cx="415.9" cy="486.4" r="0.9"/>
<circle cx="413.1" cy="484.2" r="0.9"/>
<circle cx="415.2" cy="483.2" r="0.9"/>
<circle cx="413.8" cy="487.4" r="0.9"/>
<circle cx="415.9" cy="485.5" r="0.9"/>
<circle cx="417.4" cy="486.7" r="0.9"/>
<circle cx="412.8" cy="483.8" r="0.9"/>
<circle cx="431.1" cy="486.8" r="0.9"/>
<circle cx="431.1" cy="486.4" r="0.9"/>
<circle cx="415.2" cy="485.4" r="0.9"/>
<circle cx="413.2" cy="485.8" r="0.9"/>
<circle cx="440.5" cy="487.7" r="0.9"/>
<circle cx="415.9" cy="488.4" r="0.9"/>
<circle cx="418.3" cy="484.6" r="0.9"/>
<circle cx="418.5" cy="487.3" r="0.9"/>
<circle cx="410.9" cy="484.9" r="0.9"/>
<circle cx="413.3" cy="484.1" r="0.9"/>
<circle cx="431.4" cy="486.4" r="0.9"/>
<circle cx="413.7" cy="485.1" r="0.9"/>
<circle cx="411.8" cy="487.2" r="0.9"/>
<circle cx="427.2" cy="486.4" r="0.9"/>
<circle cx="425.0" cy="484.7" r="0.9"/>
<circle cx="428.1" cy="485.7" r="0.9"/>
<circle cx="414.4" cy="486.8" r="0.9"/>
<circle cx="413.2" cy="484.7" r="0.9"/>
<circle cx="439.2" cy="487.7" r="0.9"/>
<circle cx="413.3" cy="487.8" r="0.9"/>
<circle cx="420.1" cy="485.9" r="0.9"/>
<circle cx="432.1" cy="486.3" r="0.9"/>
<circle cx="435.4" cy="486.4" r="0.9"/>
<circle cx="413.3" cy="483.2" r="0.9"/>
<circle cx="415.6" cy="483.1" r="0.9"/>
<circle cx="423.0" cy="485.4" r="0.9"/>
<circle cx="414.6" cy="483.8" r="0.9"/>
<circle cx="420.2" cy="486.5" r="0.9"/>
<circle cx="425.8" cy="486.3" r="0.9"/>
<circle cx="418.0" cy="487.9" r="0.9"/>
<circle cx="411.8" cy="486.7" r="0.9"/>
<circle cx="431.0" cy="485.9" r="0.9"/>
<circle cx="426.1" cy="484.2" r="0.9"/>
<circle cx="417.4" cy="486.4" r="0.9"/>
<circle cx="431.1" cy="487.0" r="0.9"/>
<circle cx="414.4" cy="486.3" r="0.9"/>
<circle cx="426.7" cy="486.6" r="0.9"/>
<circle cx="431.4" cy="487.2" r="0.9"/>
<circle cx="416.5" cy="487.7" r="0.9"/>
<circle cx="415.1" cy="483.6" r="0.9"/>
<circle cx="415.7" cy="487.9" r="0.9"/>
<circle cx="428.8" cy="486.1" r="0.9"/>
<circle cx="417.0" cy="486.1" r="0.9"/>
<circle cx="415.0" cy="484.9" r="0.9"/>
<circle cx="414.4" cy="487.7" r="0.9"/>
<circle cx="418.1" cy="485.7" r="0.9"/>
<circle cx="420.3" cy="487.6" r="0.9"/>
<circle cx="432.7" cy="484.9" r="0.9"/>
<circle cx="421.5" cy="484.6" r="0.9"/>
<circle cx="423.2" cy="485.7" r="0.9"/>
<circle cx="447.7" cy="488.2" r="0.9"/>
<circle cx="443.6" cy="487.2" r="0.9"/>
<circle cx="452.6" cy="487.7" r="0.9"/>
<circle cx="456.6" cy="488.0" r="0.9"/>
<circle cx="456.4" cy="485.9" r="0.9"/>
<circle cx="447.7" cy="485.9" r="0.9"/>
<circle cx="444.9" cy="487.5" r="0.9"/>
<circle cx="449.9" cy="486.7" r="0.9"/>
<circle cx="451.0" cy="488.2" r="0.9"/>
<circle cx="451.6" cy="487.5" r="0.9"/>
<circle cx="454.0" cy="487.2" r="0.9"/>
<circle cx="456.0" cy="486.0" r="0.9"/>
<circle cx="451.7" cy="487.2" r="0.9"/>
<circle cx="448.8" cy="487.6" r="0.9"/>
<circle cx="453.6" cy="487.0" r="0.9"/>
<circle cx="453.0" cy="487.6" r="0.9"/>
<circle cx="449.8" cy="486.5" r="0.9"/>
<circle cx="449.4" cy="487.8" r="0.9"/>
<circle cx="449.8" cy="486.9" r="0.9"/>
<circle cx="452.0" cy="488.0" r="0.9"/>
<circle cx="445.4" cy="487.2" r="0.9"/>
<circle cx="455.2" cy="487.8" r="0.9"/>
<circle cx="454.7" cy="487.7" r="0.9"/>
<circle cx="452.5" cy="487.8" r="0.9"/>
<circle cx="443.6" cy="486.0" r="0.9"/>
<circle cx="454.9" cy="487.3" r="0.9"/>
<circle cx="454.9" cy="488.2" r="0.9"/>
<circle cx="451.2" cy="487.0" r="0.9"/>
<circle cx="445.6" cy="488.4" r="0.9"/>
<circle cx="448.9" cy="487.0" r="0.9"/>
<circle cx="449.0" cy="487.1" r="0.9"/>
<circle cx="444.8" cy="487.7" r="0.9"/>
<circle cx="451.9" cy="486.9" r="0.9"/>
<circle cx="447.7" cy="486.5" r="0.9"/>
<circle cx="444.0" cy="488.3" r="0.9"/>
<circle cx="447.8" cy="488.4" r="0.9"/>
<circle cx="450.9" cy="486.0" r="0.9"/>
<circle cx="453.4" cy="488.3" r="0.9"/>
<circle cx="450.6" cy="486.3" r="0.9"/>
<circle cx="453.5" cy="486.3" r="0.9"/>
<circle cx="450.8" cy="484.1" r="0.9"/>
<circle cx="451.3" cy="483.7" r="0.9"/>
<circle cx="451.8" cy="483.7" r="0.9"/>
<circle cx="452.3" cy="484.1" r="0.9"/>
<circle cx="452.8" cy="483.3" r="0.9"/>
<circle cx="453.2" cy="483.9" r="0.9"/>
<circle cx="453.7" cy="483.4" r="0.9"/>
<circle cx="454.2" cy="483.3" r="0.9"/>
<circle cx="454.7" cy="483.2" r="0.9"/>
<circle cx="455.2" cy="483.2" r="0.9"/>
<circle cx="455.7" cy="482.6" r="0.9"/>
<circle cx="456.2" cy="482.8" r="0.9"/>
<circle cx="456.6" cy="481.7" r="0.9"/>
<circle cx="457.1" cy="482.1" r="0.9"/>
<circle cx="457.6" cy="481.8" r="0.9"/>
<circle cx="458.1" cy="481.1" r="0.9"/>
<circle cx="458.6" cy="480.8" r="0.9"/>
<circle cx="459.1" cy="480.0" r="0.9"/>
<circle cx="459.5" cy="480.2" r="0.9"/>
<circle cx="460.0" cy="479.2" r="0.9"/>
<circle cx="460.5" cy="478.9" r="0.9"/>
<circle cx="461.0" cy="478.8" r="0.9"/>
<circle cx="461.5" cy="477.9" r="0.9"/>
<circle cx="462.0" cy="477.1" r="0.9"/>
<circle cx="462.5" cy="476.6" r="0.9"/>
<circle cx="462.9" cy="476.1" r="0.9"/>
<circle cx="463.4" cy="475.8" r="0.9"/>
<circle cx="463.9" cy="475.6" r="0.9"/>
<circle cx="416.5" cy="480.9" r="0.9"/>
<circle cx="426.7" cy="480.7" r="0.9"/>
<circle cx="424.7" cy="476.9" r="0.9"/>
<circle cx="419.0" cy="477.6" r="0.9"/>
<circle cx="426.6" cy="478.0" r="0.9"/>
<circle cx="420.6" cy="476.2" r="0.9"/>
<circle cx="424.1" cy="478.4" r="0.9"/>
<circle cx="426.9" cy="476.1" r="0.9"/>
<circle cx="417.4" cy="475.3" r="0.9"/>
<circle cx="419.5" cy="477.4" r="0.9"/>
<circle cx="419.6" cy="475.1" r="0.9"/>
<circle cx="411.9" cy="476.1" r="0.9"/>
<circle cx="413.7" cy="475.2" r="0.9"/>
<circle cx="426.5" cy="482.7" r="0.9"/>
<circle cx="416.1" cy="482.4" r="0.9"/>
<circle cx="423.1" cy="477.4" r="0.9"/>
<circle cx="412.7" cy="478.6" r="0.9"/>
<circle cx="419.5" cy="481.4" r="0.9"/>
<circle cx="418.9" cy="475.0" r="0.9"/>
<circle cx="415.0" cy="482.0" r="0.9"/>
<circle cx="423.3" cy="480.1" r="0.9"/>
<circle cx="421.8" cy="482.6" r="0.9"/>
<circle cx="424.5" cy="477.3" r="0.9"/>
<circle cx="420.5" cy="475.5" r="0.9"/>
<circle cx="428.1" cy="475.7" r="0.9"/>
<circle cx="429.7" cy="475.7" r="0.9"/>
<circle cx="412.0" cy="476.9" r="0.9"/>
<circle cx="428.6" cy="475.0" r="0.9"/>
<circle cx="415.9" cy="475.5" r="0.9"/>
<circle cx="428.5" cy="477.9" r="0.9"/>
<circle cx="422.5" cy="479.3" r="0.9"/>
<circle cx="417.5" cy="480.0" r="0.9"/>
<circle cx="425.9" cy="477.6" r="0.9"/>
<circle cx="417.6" cy="477.5" r="0.9"/>
<circle cx="424.8" cy="481.3" r="0.9"/>
<circle cx="414.0" cy="476.1" r="0.9"/>
<circle cx="413.3" cy="481.2" r="0.9"/>
<circle cx="425.5" cy="481.1" r="0.9"/>
<circle cx="424.0" cy="475.5" r="0.9"/>
<circle cx="420.9" cy="479.0" r="0.9"/>
<circle cx="414.9" cy="475.4" r="0.9"/>
<circle cx="425.5" cy="480.1" r="0.9"/>
<circle cx="421.1" cy="475.9" r="0.9"/>
<circle cx="419.0" cy="480.1" r="0.9"/>
<circle cx="420.7" cy="476.3" r="0.9"/>
<circle cx="425.0" cy="481.6" r="0.9"/>
<circle cx="420.1" cy="476.0" r="0.9"/>
<circle cx="423.5" cy="475.1" r="0.9"/>
<circle cx="423.9" cy="479.2" r="0.9"/>
<circle cx="414.6" cy="479.5" r="0.9"/>
<circle cx="424.1" cy="480.0" r="0.9"/>
<circle cx="420.1" cy="482.7" r="0.9"/>
<circle cx="426.5" cy="482.1" r="0.9"/>
<circle cx="420.4" cy="480.7" r="0.9"/>
<circle cx="422.6" cy="482.1" r="0.9"/>
<circle cx="413.3" cy="478.3" r="0.9"/>
<circle cx="421.8" cy="482.1" r="0.9"/>
<circle cx="423.0" cy="476.7" r="0.9"/>
<circle cx="424.1" cy="478.9" r="0.9"/>
<circle cx="412.6" cy="478.7" r="0.9"/>
<circle cx="427.3" cy="478.2" r="0.9"/>
<circle cx="413.0" cy="482.2" r="0.9"/>
<circle cx="432.4" cy="477.3" r="0.9"/>
<circle cx="433.0" cy="480.8" r="0.9"/>
<circle cx="420.4" cy="482.2" r="0.9"/>
<circle cx="441.8" cy="479.9" r="0.9"/>
<circle cx="420.4" cy="474.3" r="0.9"/>
<circle cx="415.8" cy="477.9" r="0.9"/>
<circle cx="446.0" cy="473.7" r="0.9"/>
<circle cx="413.2" cy="479.1" r="0.9"/>
<circle cx="421.7" cy="476.2" r="0.9"/>
<circle cx="445.0" cy="477.0" r="0.9"/>
<circle cx="441.7" cy="481.2" r="0.9"/>
<circle cx="417.8" cy="477.3" r="0.9"/>
<circle cx="434.7" cy="477.1" r="0.9"/>
<circle cx="419.3" cy="472.5" r="0.9"/>
<circle cx="442.5" cy="476.8" r="0.9"/>
<circle cx="441.3" cy="475.1" r="0.9"/>
<circle cx="433.3" cy="479.6" r="0.9"/>
<circle cx="436.3" cy="475.3" r="0.9"/>
<circle cx="422.2" cy="482.4" r="0.9"/>
<circle cx="431.8" cy="479.5" r="0.9"/>
<circle cx="443.9" cy="473.2" r="0.9"/>
<circle cx="412.4" cy="472.8" r="0.9"/>
<circle cx="426.3" cy="473.1" r="0.9"/>
<circle cx="413.6" cy="476.6" r="0.9"/>
<circle cx="446.9" cy="482.4" r="0.9"/>
<circle cx="413.1" cy="472.7" r="0.9"/>
<circle cx="425.0" cy="476.0" r="0.9"/>
<circle cx="436.9" cy="480.1" r="0.9"/>
<circle cx="412.4" cy="480.0" r="0.9"/>
<circle cx="446.2" cy="480.8" r="0.9"/>
<circle cx="420.2" cy="473.2" r="0.9"/>
<circle cx="431.2" cy="476.4" r="0.9"/>
<circle cx="422.2" cy="481.0" r="0.9"/>
<circle cx="414.6" cy="461.0" r="0.9"/>
<circle cx="412.3" cy="465.3" r="0.9"/>
<circle cx="414.4" cy="464.4" r="0.9"/>
<circle cx="413.0" cy="462.5" r="0.9"/>
<circle cx="412.2" cy="460.4" r="0.9"/>
<circle cx="416.3" cy="468.7" r="0.9"/>
<circle cx="412.7" cy="466.8" r="0.9"/>
<circle cx="415.3" cy="463.2" r="0.9"/>
<circle cx="415.0" cy="462.0" r="0.9"/>
<circle cx="414.4" cy="467.4" r="0.9"/>
<circle cx="411.1" cy="471.5" r="0.9"/>
<circle cx="414.5" cy="461.0" r="0.9"/>
<circle cx="416.9" cy="465.4" r="0.9"/>
<circle cx="414.6" cy="469.5" r="0.9"/>
<circle cx="416.2" cy="469.5" r="0.9"/>
<circle cx="415.5" cy="468.2" r="0.9"/>
<circle cx="411.8" cy="466.1" r="0.9"/>
<circle cx="412.5" cy="474.9" r="0.9"/>
<circle cx="414.8" cy="465.1" r="0.9"/>
<circle cx="413.2" cy="459.1" r="0.9"/>
<circle cx="416.4" cy="458.9" r="0.9"/>
<circle cx="413.0" cy="459.8" r="0.9"/>
<circle cx="413.6" cy="469.2" r="0.9"/>
<circle cx="412.7" cy="460.1" r="0.9"/>
<circle cx="412.6" cy="468.4" r="0.9"/>
<circle cx="416.0" cy="474.2" r="0.9"/>
<circle cx="426.8" cy="471.5" r="0.9"/>
<circle cx="423.9" cy="473.2" r="0.9"/>
<circle cx="421.1" cy="469.0" r="0.9"/>
<circle cx="421.3" cy="472.3" r="0.9"/>
<circle cx="421.8" cy="475.1" r="0.9"/>
<circle cx="423.7" cy="470.9" r="0.9"/>
<circle cx="420.4" cy="475.4" r="0.9"/>
<circle cx="423.8" cy="475.2" r="0.9"/>
<circle cx="424.3" cy="473.6" r="0.9"/>
<circle cx="420.2" cy="470.2" r="0.9"/>
<circle cx="421.6" cy="469.2" r="0.9"/>
<circle cx="426.1" cy="471.9" r="0.9"/>
<circle cx="427.0" cy="474.0" r="0.9"/>
<circle cx="425.3" cy="473.3" r="0.9"/>
<circle cx="427" cy="269" r="0.95"/>
<circle cx="429.9" cy="380.4" r="0.95"/>
<circle cx="434.1" cy="381.7" r="0.95"/>
<circle cx="431.9" cy="390.6" r="0.95"/>
<circle cx="434.5" cy="402.4" r="0.95"/>
<circle cx="415.6" cy="414.7" r="0.95"/>
<circle cx="418" cy="419.1" r="0.95"/>
<circle cx="419.8" cy="420" r="0.95"/>
<circle cx="423.3" cy="420.6" r="0.95"/>
<circle cx="443.1" cy="418.7" r="0.95"/>
<circle cx="415.6" cy="423.5" r="0.95"/>
<circle cx="439.8" cy="423.7" r="0.95"/>
<circle cx="420.2" cy="429.2" r="0.95"/>
<circle cx="452.8" cy="429.5" r="0.95"/>
<circle cx="471.2" cy="429.9" r="0.95"/>
<circle cx="418.5" cy="432.7" r="0.95"/>
<circle cx="412.1" cy="435.4" r="0.95"/>
<circle cx="413.8" cy="435.4" r="0.95"/>
<circle cx="414.4" cy="441" r="0.95"/>
<circle cx="420.9" cy="441.4" r="0.95"/>
<circle cx="429.5" cy="442.2" r="0.95"/>
<circle cx="432.2" cy="444.1" r="0.95"/>
<circle cx="442.5" cy="442.7" r="0.95"/>
<circle cx="420" cy="446" r="0.95"/>
<circle cx="412.3" cy="447.9" r="0.95"/>
<circle cx="440.9" cy="447.9" r="0.95"/>
<circle cx="446.3" cy="452" r="0.95"/>
<circle cx="415.2" cy="455.3" r="0.95"/>
<circle cx="415.9" cy="456.9" r="0.95"/>
<circle cx="432.7" cy="459.4" r="0.95"/>
<circle cx="422.1" cy="461.3" r="0.95"/>
<circle cx="430" cy="463.9" r="0.95"/>
<circle cx="437.6" cy="465.1" r="0.95"/>
<circle cx="440.1" cy="467.2" r="0.95"/>
<circle cx="446.6" cy="467.9" r="0.95"/>
<circle cx="449.6" cy="466.2" r="0.95"/>
<circle cx="451.5" cy="469.2" r="0.95"/>
<circle cx="478.5" cy="465.9" r="0.95"/>
<circle cx="434.9" cy="469.5" r="0.95"/>
<circle cx="427.8" cy="468.4" r="0.95"/>
<circle cx="438.8" cy="471.3" r="0.95"/>
<circle cx="442.9" cy="472.8" r="0.95"/>
<circle cx="451.2" cy="472.5" r="0.95"/>
<circle cx="451.6" cy="477" r="0.95"/>
</g>
<g stroke="#3a3a3a" stroke-width="0.9" stroke-dasharray="3.2 2.2" fill="none"><path d="M381.8 251.2V499.1M410.8 251.2V499.1M340.6 486.6H496.3"/></g>
<g stroke="#111" stroke-width="1.2" fill="none"><path d="M340.6 251.2V499.1H496.3"/>
<path d="M336.3 488.0H340.6"/>
<path d="M336.3 422.5H340.6"/>
<path d="M336.3 357.0H340.6"/>
<path d="M336.3 291.5H340.6"/>
<path d="M359.9 499.1v3.6"/>
<path d="M396.3 499.1v3.6"/>
<path d="M432.7 499.1v3.6"/>
<path d="M469.0 499.1v3.6"/>
</g>
<text x="333.0" y="492.1" font-size="11.6" text-anchor="end" fill="#111">0</text>
<text x="333.0" y="426.6" font-size="11.6" text-anchor="end" fill="#111">50</text>
<text x="333.0" y="361.1" font-size="11.6" text-anchor="end" fill="#111">100</text>
<text x="333.0" y="295.6" font-size="11.6" text-anchor="end" fill="#111">150</text>
<text x="358.6" y="514.7" font-size="11.5" text-anchor="middle" fill="#111">-5</text>
<text x="396.3" y="514.7" font-size="11.5" text-anchor="middle" fill="#111">0</text>
<text x="432.7" y="514.7" font-size="11.5" text-anchor="middle" fill="#111">5</text>
<text x="469.0" y="514.7" font-size="11.5" text-anchor="middle" fill="#111">10</text>
<text x="419" y="529.3" font-size="11.6" text-anchor="middle" fill="#111">Log<tspan font-size="8.4" dy="1.8">2</tspan><tspan dy="-1.8"> fold change</tspan></text>
<text x="420.5" y="540.7" font-size="7.3" text-anchor="middle" fill="#111">total = 62754 variables</text>
<text transform="translate(304.4 373.3) rotate(-90)" font-size="12.2" text-anchor="middle" fill="#111">−Log<tspan font-size="8.6" dy="1.8">10</tspan><tspan dy="-1.8"> </tspan><tspan font-style="italic">P</tspan></text>
<circle cx="507.1" cy="298.5" r="4.0" fill="#12954a"/>
<circle cx="507.1" cy="307.8" r="4.0" fill="#dcdcdc"/>
<circle cx="507.1" cy="317.0" r="4.0" fill="#db5c5e"/>
<text x="519.7" y="301.5" font-size="9" text-anchor="start" fill="#111">Down</text>
<text x="519.7" y="310.8" font-size="9" text-anchor="start" fill="#111">No sig</text>
<text x="519.7" y="320.0" font-size="9" text-anchor="start" fill="#111">Up</text>
</svg></body></html>
